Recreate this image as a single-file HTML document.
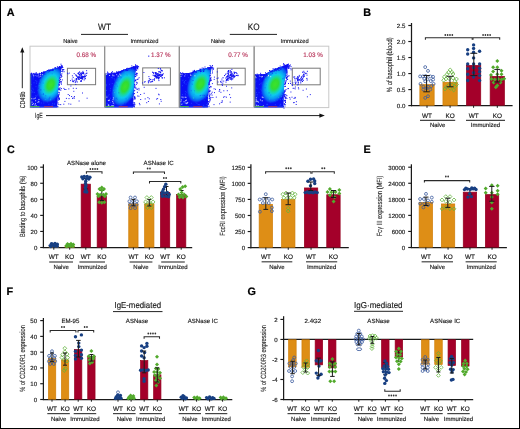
<!DOCTYPE html>
<html><head><meta charset="utf-8"><style>html,body{margin:0;padding:0;background:#fff;}svg{display:block;will-change:transform;}</style></head>
<body><svg width="520" height="429" viewBox="0 0 520 429" font-family='"Liberation Sans", sans-serif' text-rendering="geometricPrecision">
<defs><radialGradient id="fg" cx="0.5" cy="0.5" r="0.5"><stop offset="0" stop-color="#3EE22A"/><stop offset="0.24" stop-color="#30DC34"/><stop offset="0.4" stop-color="#18D8A0"/><stop offset="0.54" stop-color="#0CCAEE"/><stop offset="0.72" stop-color="#0A98F4"/><stop offset="0.87" stop-color="#0A50F6"/><stop offset="1" stop-color="#0A10F5" stop-opacity="0"/></radialGradient><clipPath id="cp0"><polygon points="30.00,73.80 39.98,73.42 48.03,70.34 56.08,67.95 62.20,66.10 60.20,74.60 58.60,84.20 57.20,107.60 30.00,107.60"/></clipPath><clipPath id="cp1"><polygon points="104.70,73.50 114.71,73.10 122.79,69.90 130.86,67.42 137.00,65.50 135.00,74.00 134.30,82.50 133.00,107.60 104.70,107.60"/></clipPath><clipPath id="cp2"><polygon points="179.30,73.40 189.44,73.06 197.61,70.30 205.79,68.16 212.00,66.50 210.00,75.00 208.60,84.00 207.80,107.60 179.30,107.60"/></clipPath><clipPath id="cp3"><polygon points="254.20,74.60 264.93,74.05 273.58,69.61 282.23,66.16 288.80,63.50 286.80,72.00 284.20,82.50 283.50,107.60 254.20,107.60"/></clipPath></defs>
<rect x="0" y="0" width="520" height="429" fill="#fff"/>
<rect x="0.5" y="0.5" width="519" height="428" fill="none" stroke="#000" stroke-width="1"/>
<text x="0" y="0" transform="translate(6.8 16.2)" font-size="10.8" font-weight="bold" fill="#000" stroke="#000" stroke-width="0.2">A</text>
<text x="0" y="0" transform="translate(363.3 16.2)" font-size="10.8" font-weight="bold" fill="#000" stroke="#000" stroke-width="0.2">B</text>
<text x="0" y="0" transform="translate(7.0 153.0)" font-size="10.8" font-weight="bold" fill="#000" stroke="#000" stroke-width="0.2">C</text>
<text x="0" y="0" transform="translate(207.0 153.0)" font-size="10.8" font-weight="bold" fill="#000" stroke="#000" stroke-width="0.2">D</text>
<text x="0" y="0" transform="translate(363.4 153.0)" font-size="10.8" font-weight="bold" fill="#000" stroke="#000" stroke-width="0.2">E</text>
<text x="0" y="0" transform="translate(6.5 294.8)" font-size="10.8" font-weight="bold" fill="#000" stroke="#000" stroke-width="0.2">F</text>
<text x="0" y="0" transform="translate(247.4 294.8)" font-size="10.8" font-weight="bold" fill="#000" stroke="#000" stroke-width="0.2">G</text>
<rect x="30.0" y="46.2" width="74.6" height="61.39999999999999" fill="#fff" stroke="#c8c8c8" stroke-width="1"/>
<polygon points="30.00,73.80 39.98,73.42 48.03,70.34 56.08,67.95 62.20,66.10 60.20,74.60 58.60,84.20 57.20,107.60 30.00,107.60" fill="#0A0EF6"/>
<g clip-path="url(#cp0)">
<rect x="43.6" y="88.3" width="1" height="1" fill="#2246FF" opacity="0.8"/>
<rect x="57.7" y="84.2" width="1" height="1" fill="#2246FF" opacity="0.8"/>
<rect x="45.2" y="89.5" width="1" height="1" fill="#2246FF" opacity="0.8"/>
<rect x="35.5" y="86.2" width="1" height="1" fill="#2246FF" opacity="0.8"/>
<rect x="48.9" y="98.3" width="1" height="1" fill="#2246FF" opacity="0.8"/>
<rect x="32.8" y="77.2" width="1" height="1" fill="#2246FF" opacity="0.8"/>
<rect x="32.7" y="99.0" width="1" height="1" fill="#2246FF" opacity="0.8"/>
<rect x="50.8" y="66.0" width="1" height="1" fill="#2246FF" opacity="0.8"/>
<rect x="59.5" y="105.7" width="1" height="1" fill="#2246FF" opacity="0.8"/>
<rect x="49.6" y="90.7" width="1" height="1" fill="#2246FF" opacity="0.8"/>
<rect x="34.7" y="64.8" width="1" height="1" fill="#2246FF" opacity="0.8"/>
<rect x="45.9" y="66.8" width="1" height="1" fill="#2246FF" opacity="0.8"/>
<rect x="35.7" y="74.6" width="1" height="1" fill="#2246FF" opacity="0.8"/>
<rect x="30.9" y="84.1" width="1" height="1" fill="#2246FF" opacity="0.8"/>
<rect x="43.2" y="100.4" width="1" height="1" fill="#2246FF" opacity="0.8"/>
<rect x="45.6" y="91.7" width="1" height="1" fill="#2246FF" opacity="0.8"/>
<rect x="45.0" y="92.7" width="1" height="1" fill="#2246FF" opacity="0.8"/>
<rect x="43.7" y="76.2" width="1" height="1" fill="#2246FF" opacity="0.8"/>
<rect x="59.9" y="107.0" width="1" height="1" fill="#2246FF" opacity="0.8"/>
<rect x="55.2" y="94.6" width="1" height="1" fill="#2246FF" opacity="0.8"/>
<rect x="39.5" y="74.1" width="1" height="1" fill="#2246FF" opacity="0.8"/>
<rect x="38.7" y="67.2" width="1" height="1" fill="#2246FF" opacity="0.8"/>
<rect x="53.0" y="81.4" width="1" height="1" fill="#2246FF" opacity="0.8"/>
<rect x="55.4" y="80.8" width="1" height="1" fill="#2246FF" opacity="0.8"/>
<rect x="58.7" y="100.6" width="1" height="1" fill="#2246FF" opacity="0.8"/>
<rect x="30.0" y="73.2" width="1" height="1" fill="#2246FF" opacity="0.8"/>
<rect x="57.3" y="84.4" width="1" height="1" fill="#2246FF" opacity="0.8"/>
<rect x="59.4" y="81.3" width="1" height="1" fill="#2246FF" opacity="0.8"/>
<rect x="32.2" y="91.3" width="1" height="1" fill="#2246FF" opacity="0.8"/>
<rect x="53.4" y="75.8" width="1" height="1" fill="#2246FF" opacity="0.8"/>
<rect x="32.6" y="78.5" width="1" height="1" fill="#2246FF" opacity="0.8"/>
<rect x="58.9" y="96.8" width="1" height="1" fill="#2246FF" opacity="0.8"/>
<rect x="33.5" y="74.8" width="1" height="1" fill="#2246FF" opacity="0.8"/>
<rect x="33.0" y="66.8" width="1" height="1" fill="#2246FF" opacity="0.8"/>
<rect x="53.9" y="71.8" width="1" height="1" fill="#2246FF" opacity="0.8"/>
<rect x="46.8" y="83.4" width="1" height="1" fill="#2246FF" opacity="0.8"/>
<rect x="35.7" y="95.7" width="1" height="1" fill="#2246FF" opacity="0.8"/>
<rect x="33.9" y="91.9" width="1" height="1" fill="#2246FF" opacity="0.8"/>
<rect x="33.5" y="82.3" width="1" height="1" fill="#2246FF" opacity="0.8"/>
<rect x="36.4" y="75.8" width="1" height="1" fill="#2246FF" opacity="0.8"/>
<rect x="59.1" y="98.7" width="1" height="1" fill="#2246FF" opacity="0.8"/>
<rect x="39.1" y="102.2" width="1" height="1" fill="#2246FF" opacity="0.8"/>
<rect x="36.3" y="81.2" width="1" height="1" fill="#2246FF" opacity="0.8"/>
<rect x="55.6" y="91.8" width="1" height="1" fill="#2246FF" opacity="0.8"/>
<rect x="33.0" y="106.7" width="1" height="1" fill="#2246FF" opacity="0.8"/>
<rect x="36.4" y="75.3" width="1" height="1" fill="#2246FF" opacity="0.8"/>
<rect x="53.2" y="78.3" width="1" height="1" fill="#2246FF" opacity="0.8"/>
<rect x="38.9" y="67.4" width="1" height="1" fill="#2246FF" opacity="0.8"/>
<rect x="32.7" y="89.3" width="1" height="1" fill="#2246FF" opacity="0.8"/>
<rect x="37.3" y="90.1" width="1" height="1" fill="#2246FF" opacity="0.8"/>
<rect x="41.2" y="83.7" width="1" height="1" fill="#2246FF" opacity="0.8"/>
<rect x="58.8" y="85.0" width="1" height="1" fill="#2246FF" opacity="0.8"/>
<rect x="47.2" y="101.5" width="1" height="1" fill="#2246FF" opacity="0.8"/>
<rect x="35.5" y="70.8" width="1" height="1" fill="#2246FF" opacity="0.8"/>
<rect x="57.3" y="99.4" width="1" height="1" fill="#2246FF" opacity="0.8"/>
<rect x="37.5" y="72.4" width="1" height="1" fill="#2246FF" opacity="0.8"/>
<rect x="52.2" y="104.6" width="1" height="1" fill="#2246FF" opacity="0.8"/>
<rect x="35.9" y="105.1" width="1" height="1" fill="#2246FF" opacity="0.8"/>
<rect x="56.5" y="90.2" width="1" height="1" fill="#2246FF" opacity="0.8"/>
<rect x="42.6" y="68.7" width="1" height="1" fill="#2246FF" opacity="0.8"/>
<rect x="31.2" y="105.6" width="1" height="1" fill="#2246FF" opacity="0.8"/>
<rect x="37.2" y="94.5" width="1" height="1" fill="#2246FF" opacity="0.8"/>
<rect x="37.7" y="99.6" width="1" height="1" fill="#2246FF" opacity="0.8"/>
<rect x="47.9" y="76.8" width="1" height="1" fill="#2246FF" opacity="0.8"/>
<rect x="35.3" y="95.2" width="1" height="1" fill="#2246FF" opacity="0.8"/>
<rect x="32.1" y="74.0" width="1" height="1" fill="#2246FF" opacity="0.8"/>
<rect x="46.8" y="100.9" width="1" height="1" fill="#2246FF" opacity="0.8"/>
<rect x="48.4" y="76.2" width="1" height="1" fill="#2246FF" opacity="0.8"/>
<rect x="57.5" y="73.0" width="1" height="1" fill="#2246FF" opacity="0.8"/>
<rect x="30.5" y="75.8" width="1" height="1" fill="#2246FF" opacity="0.8"/>
<rect x="43.4" y="66.8" width="1" height="1" fill="#2246FF" opacity="0.8"/>
<rect x="35.3" y="80.1" width="1" height="1" fill="#2246FF" opacity="0.8"/>
<rect x="47.2" y="69.9" width="1" height="1" fill="#2246FF" opacity="0.8"/>
<rect x="40.9" y="102.5" width="1" height="1" fill="#2246FF" opacity="0.8"/>
<rect x="59.4" y="92.4" width="1" height="1" fill="#2246FF" opacity="0.8"/>
<rect x="50.7" y="89.3" width="1" height="1" fill="#2246FF" opacity="0.8"/>
<rect x="34.2" y="65.7" width="1" height="1" fill="#2246FF" opacity="0.8"/>
<rect x="30.5" y="103.3" width="1" height="1" fill="#2246FF" opacity="0.8"/>
<rect x="51.0" y="105.6" width="1" height="1" fill="#2246FF" opacity="0.8"/>
<rect x="30.6" y="91.6" width="1" height="1" fill="#2246FF" opacity="0.8"/>
<rect x="44.5" y="95.6" width="1" height="1" fill="#2246FF" opacity="0.8"/>
<rect x="39.6" y="107.2" width="1" height="1" fill="#2246FF" opacity="0.8"/>
<rect x="32.3" y="87.7" width="1" height="1" fill="#2246FF" opacity="0.8"/>
<rect x="52.1" y="102.9" width="1" height="1" fill="#2246FF" opacity="0.8"/>
<rect x="52.1" y="94.5" width="1" height="1" fill="#2246FF" opacity="0.8"/>
<rect x="53.8" y="103.5" width="1" height="1" fill="#2246FF" opacity="0.8"/>
<rect x="40.6" y="93.7" width="1" height="1" fill="#2246FF" opacity="0.8"/>
<rect x="57.0" y="101.7" width="1" height="1" fill="#2246FF" opacity="0.8"/>
<rect x="42.5" y="98.2" width="1" height="1" fill="#2246FF" opacity="0.8"/>
<rect x="55.9" y="88.8" width="1" height="1" fill="#2246FF" opacity="0.8"/>
<rect x="48.7" y="80.6" width="1" height="1" fill="#2246FF" opacity="0.8"/>
<rect x="47.5" y="90.4" width="1" height="1" fill="#2246FF" opacity="0.8"/>
<rect x="32.4" y="91.7" width="1" height="1" fill="#2246FF" opacity="0.8"/>
<rect x="59.8" y="102.0" width="1" height="1" fill="#2246FF" opacity="0.8"/>
<rect x="51.8" y="80.9" width="1" height="1" fill="#2246FF" opacity="0.8"/>
<rect x="52.1" y="89.2" width="1" height="1" fill="#2246FF" opacity="0.8"/>
<rect x="43.2" y="100.2" width="1" height="1" fill="#2246FF" opacity="0.8"/>
<rect x="32.5" y="96.5" width="1" height="1" fill="#2246FF" opacity="0.8"/>
<rect x="30.9" y="90.1" width="1" height="1" fill="#2246FF" opacity="0.8"/>
<rect x="44.4" y="74.1" width="1" height="1" fill="#2246FF" opacity="0.8"/>
<rect x="51.0" y="85.6" width="1" height="1" fill="#2246FF" opacity="0.8"/>
<rect x="48.4" y="103.8" width="1" height="1" fill="#2246FF" opacity="0.8"/>
<rect x="37.7" y="64.7" width="1" height="1" fill="#2246FF" opacity="0.8"/>
<rect x="39.0" y="93.4" width="1" height="1" fill="#2246FF" opacity="0.8"/>
<rect x="36.1" y="71.5" width="1" height="1" fill="#2246FF" opacity="0.8"/>
<rect x="57.2" y="92.6" width="1" height="1" fill="#2246FF" opacity="0.8"/>
<rect x="43.3" y="102.5" width="1" height="1" fill="#2246FF" opacity="0.8"/>
<rect x="39.8" y="92.8" width="1" height="1" fill="#2246FF" opacity="0.8"/>
<rect x="36.0" y="82.7" width="1" height="1" fill="#2246FF" opacity="0.8"/>
<rect x="54.2" y="103.5" width="1" height="1" fill="#2246FF" opacity="0.8"/>
<ellipse cx="50.60" cy="84.80" rx="13" ry="19.5" fill="url(#fg)" transform="rotate(22 50.60 84.80)"/>
<rect x="57.7" y="76.4" width="1" height="1" fill="#0A9CF4" opacity="0.5"/>
<rect x="58.4" y="79.4" width="1" height="1" fill="#0A6CF6" opacity="0.5"/>
<rect x="38.7" y="85.1" width="1" height="1" fill="#0CC6EE" opacity="0.5"/>
<rect x="47.6" y="69.4" width="1" height="1" fill="#1A3CF8" opacity="0.5"/>
<rect x="54.2" y="75.3" width="1" height="1" fill="#20D8C0" opacity="0.5"/>
<rect x="49.2" y="95.9" width="1" height="1" fill="#20D8C0" opacity="0.5"/>
<rect x="42.9" y="93.7" width="1" height="1" fill="#0A0EF6" opacity="0.5"/>
<rect x="45.8" y="98.7" width="1" height="1" fill="#0A9CF4" opacity="0.5"/>
<rect x="42.8" y="87.9" width="1" height="1" fill="#0CC6EE" opacity="0.5"/>
<rect x="48.7" y="98.3" width="1" height="1" fill="#0A0EF6" opacity="0.5"/>
<rect x="47.9" y="71.8" width="1" height="1" fill="#1A3CF8" opacity="0.5"/>
<rect x="44.3" y="74.0" width="1" height="1" fill="#0A0EF6" opacity="0.5"/>
<rect x="57.2" y="94.4" width="1" height="1" fill="#0CC6EE" opacity="0.5"/>
<rect x="51.7" y="73.3" width="1" height="1" fill="#0A6CF6" opacity="0.5"/>
<rect x="54.3" y="69.4" width="1" height="1" fill="#0CC6EE" opacity="0.5"/>
<rect x="40.3" y="89.4" width="1" height="1" fill="#0A0EF6" opacity="0.5"/>
<rect x="44.5" y="75.4" width="1" height="1" fill="#0CC6EE" opacity="0.5"/>
<rect x="47.1" y="74.6" width="1" height="1" fill="#20D8C0" opacity="0.5"/>
<rect x="50.2" y="99.2" width="1" height="1" fill="#20D8C0" opacity="0.5"/>
<rect x="42.8" y="82.6" width="1" height="1" fill="#0A6CF6" opacity="0.5"/>
<rect x="49.3" y="96.7" width="1" height="1" fill="#0A0EF6" opacity="0.5"/>
<rect x="60.3" y="80.5" width="1" height="1" fill="#0A6CF6" opacity="0.5"/>
<rect x="41.4" y="94.0" width="1" height="1" fill="#0A6CF6" opacity="0.5"/>
<rect x="61.2" y="93.0" width="1" height="1" fill="#0A0EF6" opacity="0.5"/>
<rect x="43.0" y="93.0" width="1" height="1" fill="#0A6CF6" opacity="0.5"/>
<rect x="41.9" y="73.7" width="1" height="1" fill="#20D8C0" opacity="0.5"/>
<rect x="40.1" y="80.5" width="1" height="1" fill="#0A9CF4" opacity="0.5"/>
<rect x="54.2" y="69.7" width="1" height="1" fill="#20D8C0" opacity="0.5"/>
<rect x="44.8" y="99.0" width="1" height="1" fill="#0CC6EE" opacity="0.5"/>
<rect x="48.5" y="70.0" width="1" height="1" fill="#0A0EF6" opacity="0.5"/>
<rect x="58.1" y="79.9" width="1" height="1" fill="#0A6CF6" opacity="0.5"/>
<rect x="60.8" y="75.4" width="1" height="1" fill="#1A3CF8" opacity="0.5"/>
<rect x="39.2" y="81.4" width="1" height="1" fill="#1A3CF8" opacity="0.5"/>
<rect x="49.8" y="99.2" width="1" height="1" fill="#0CC6EE" opacity="0.5"/>
<rect x="45.8" y="93.3" width="1" height="1" fill="#20D8C0" opacity="0.5"/>
<rect x="45.2" y="95.3" width="1" height="1" fill="#1A3CF8" opacity="0.5"/>
<rect x="42.7" y="85.6" width="1" height="1" fill="#0CC6EE" opacity="0.5"/>
<rect x="43.4" y="89.2" width="1" height="1" fill="#0A9CF4" opacity="0.5"/>
<rect x="44.6" y="97.6" width="1" height="1" fill="#0A6CF6" opacity="0.5"/>
<rect x="38.1" y="87.8" width="1" height="1" fill="#0A0EF6" opacity="0.5"/>
<rect x="39.5" y="83.2" width="1" height="1" fill="#20D8C0" opacity="0.5"/>
<rect x="60.2" y="80.5" width="1" height="1" fill="#0A0EF6" opacity="0.5"/>
<rect x="58.2" y="90.6" width="1" height="1" fill="#0A9CF4" opacity="0.5"/>
<rect x="39.5" y="79.3" width="1" height="1" fill="#0A9CF4" opacity="0.5"/>
<rect x="43.9" y="74.7" width="1" height="1" fill="#0A9CF4" opacity="0.5"/>
<rect x="50.1" y="98.9" width="1" height="1" fill="#0A9CF4" opacity="0.5"/>
<rect x="53.7" y="99.5" width="1" height="1" fill="#0A9CF4" opacity="0.5"/>
<rect x="40.1" y="82.8" width="1" height="1" fill="#0A6CF6" opacity="0.5"/>
<rect x="43.5" y="90.4" width="1" height="1" fill="#0CC6EE" opacity="0.5"/>
<rect x="44.3" y="78.6" width="1" height="1" fill="#0CC6EE" opacity="0.5"/>
<rect x="35.1" y="100.2" width="1.1" height="1.1" fill="#C8D0FF" opacity="0.85"/>
<rect x="37.4" y="101.8" width="1.1" height="1.1" fill="#C8D0FF" opacity="0.85"/>
<rect x="34.9" y="103.1" width="1.1" height="1.1" fill="#C8D0FF" opacity="0.85"/>
<rect x="31.5" y="101.6" width="1.1" height="1.1" fill="#C8D0FF" opacity="0.85"/>
<rect x="34.3" y="105.8" width="1.1" height="1.1" fill="#C8D0FF" opacity="0.85"/>
<rect x="38.4" y="98.9" width="1.1" height="1.1" fill="#C8D0FF" opacity="0.85"/>
<rect x="34.8" y="97.5" width="1.1" height="1.1" fill="#C8D0FF" opacity="0.85"/>
<rect x="34.5" y="104.4" width="1.1" height="1.1" fill="#C8D0FF" opacity="0.85"/>
<rect x="38.2" y="101.0" width="1.1" height="1.1" fill="#C8D0FF" opacity="0.85"/>
<rect x="33.5" y="98.1" width="1.1" height="1.1" fill="#C8D0FF" opacity="0.85"/>
<rect x="35.9" y="105.5" width="1.1" height="1.1" fill="#C8D0FF" opacity="0.85"/>
<rect x="32.0" y="104.0" width="1.1" height="1.1" fill="#C8D0FF" opacity="0.85"/>
<rect x="31.2" y="98.1" width="1.1" height="1.1" fill="#C8D0FF" opacity="0.85"/>
<rect x="32.8" y="103.1" width="1.1" height="1.1" fill="#C8D0FF" opacity="0.85"/>
<rect x="35.2" y="74.9" width="1" height="1" fill="#ffffff" opacity="0.75"/>
<rect x="40.0" y="74.1" width="1" height="1" fill="#ffffff" opacity="0.75"/>
<rect x="41.8" y="74.2" width="1" height="1" fill="#ffffff" opacity="0.75"/>
<rect x="38.2" y="74.6" width="1" height="1" fill="#ffffff" opacity="0.75"/>
<rect x="33.2" y="75.4" width="1" height="1" fill="#ffffff" opacity="0.75"/>
<rect x="37.0" y="74.9" width="1" height="1" fill="#ffffff" opacity="0.75"/>
<rect x="36.7" y="75.4" width="1" height="1" fill="#ffffff" opacity="0.75"/>
<rect x="32.6" y="74.4" width="1" height="1" fill="#ffffff" opacity="0.75"/>
<rect x="40.2" y="75.7" width="1" height="1" fill="#ffffff" opacity="0.75"/>
<rect x="38.5" y="76.4" width="1" height="1" fill="#ffffff" opacity="0.75"/>
</g>
<rect x="49.5" y="70.2" width="1" height="1" fill="#1010F0"/>
<rect x="52.9" y="69.3" width="1" height="1" fill="#1010F0"/>
<rect x="41.5" y="72.4" width="1" height="1" fill="#1010F0"/>
<rect x="37.3" y="75.4" width="1" height="1" fill="#1010F0"/>
<rect x="35.3" y="73.7" width="1" height="1" fill="#1010F0"/>
<rect x="39.2" y="74.9" width="1" height="1" fill="#1010F0"/>
<rect x="43.6" y="72.1" width="1" height="1" fill="#1010F0"/>
<rect x="43.1" y="72.1" width="1" height="1" fill="#1010F0"/>
<rect x="35.7" y="72.7" width="1" height="1" fill="#1010F0"/>
<rect x="61.6" y="67.2" width="1" height="1" fill="#1010F0"/>
<rect x="54.5" y="67.1" width="1" height="1" fill="#1010F0"/>
<rect x="36.4" y="73.9" width="1" height="1" fill="#1010F0"/>
<rect x="31.1" y="72.7" width="1" height="1" fill="#1010F0"/>
<rect x="48.7" y="70.6" width="1" height="1" fill="#1010F0"/>
<rect x="35.5" y="75.0" width="1" height="1" fill="#1010F0"/>
<rect x="60.0" y="67.1" width="1" height="1" fill="#1010F0"/>
<rect x="60.9" y="65.1" width="1" height="1" fill="#1010F0"/>
<rect x="41.0" y="72.0" width="1" height="1" fill="#1010F0"/>
<rect x="44.0" y="71.7" width="1" height="1" fill="#1010F0"/>
<rect x="52.4" y="69.3" width="1" height="1" fill="#1010F0"/>
<rect x="44.3" y="71.5" width="1" height="1" fill="#1010F0"/>
<rect x="37.0" y="74.1" width="1" height="1" fill="#1010F0"/>
<rect x="52.2" y="69.7" width="1" height="1" fill="#1010F0"/>
<rect x="42.9" y="71.3" width="1" height="1" fill="#1010F0"/>
<rect x="61.3" y="66.5" width="1" height="1" fill="#1010F0"/>
<rect x="58.5" y="66.9" width="1" height="1" fill="#1010F0"/>
<rect x="56.9" y="66.3" width="1" height="1" fill="#1010F0"/>
<rect x="57.6" y="66.7" width="1" height="1" fill="#1010F0"/>
<rect x="55.1" y="67.2" width="1" height="1" fill="#1010F0"/>
<rect x="32.8" y="73.2" width="1" height="1" fill="#1010F0"/>
<rect x="30.9" y="73.0" width="1" height="1" fill="#1010F0"/>
<rect x="51.4" y="69.9" width="1" height="1" fill="#1010F0"/>
<rect x="52.1" y="68.6" width="1" height="1" fill="#1010F0"/>
<rect x="48.3" y="69.3" width="1" height="1" fill="#1010F0"/>
<rect x="61.6" y="65.2" width="1" height="1" fill="#1010F0"/>
<rect x="54.6" y="68.6" width="1" height="1" fill="#1010F0"/>
<rect x="49.5" y="69.7" width="1" height="1" fill="#1010F0"/>
<rect x="43.3" y="72.8" width="1" height="1" fill="#1010F0"/>
<rect x="42.6" y="73.1" width="1" height="1" fill="#1010F0"/>
<rect x="59.0" y="66.0" width="1" height="1" fill="#1010F0"/>
<rect x="60.5" y="63.7" width="1" height="1" fill="#1010F0"/>
<rect x="50.4" y="69.7" width="1" height="1" fill="#1010F0"/>
<rect x="49.2" y="70.0" width="1" height="1" fill="#1010F0"/>
<rect x="60.4" y="67.3" width="1" height="1" fill="#1010F0"/>
<rect x="35.7" y="72.3" width="1" height="1" fill="#1010F0"/>
<rect x="31.8" y="74.6" width="1" height="1" fill="#1010F0"/>
<rect x="46.8" y="70.0" width="1" height="1" fill="#1010F0"/>
<rect x="39.0" y="72.8" width="1" height="1" fill="#1010F0"/>
<rect x="39.1" y="73.3" width="1" height="1" fill="#1010F0"/>
<rect x="30.6" y="73.8" width="1" height="1" fill="#1010F0"/>
<rect x="34.7" y="73.6" width="1" height="1" fill="#1010F0"/>
<rect x="58.8" y="67.1" width="1" height="1" fill="#1010F0"/>
<rect x="61.8" y="66.5" width="1" height="1" fill="#1010F0"/>
<rect x="59.4" y="66.1" width="1" height="1" fill="#1010F0"/>
<rect x="62.0" y="66.4" width="1" height="1" fill="#1010F0"/>
<rect x="59.6" y="66.5" width="1" height="1" fill="#1010F0"/>
<rect x="60.9" y="66.8" width="1" height="1" fill="#1010F0"/>
<rect x="33.5" y="72.9" width="1" height="1" fill="#1010F0"/>
<rect x="37.0" y="74.6" width="1" height="1" fill="#1010F0"/>
<rect x="62.2" y="71.2" width="1" height="1" fill="#1010F0"/>
<rect x="58.8" y="84.8" width="1" height="1" fill="#1010F0"/>
<rect x="60.5" y="76.8" width="1" height="1" fill="#1010F0"/>
<rect x="58.0" y="98.3" width="1" height="1" fill="#1010F0"/>
<rect x="60.8" y="88.0" width="1" height="1" fill="#1010F0"/>
<rect x="57.6" y="96.5" width="1" height="1" fill="#1010F0"/>
<rect x="61.4" y="75.8" width="1" height="1" fill="#1010F0"/>
<rect x="59.0" y="98.6" width="1" height="1" fill="#1010F0"/>
<rect x="58.4" y="91.9" width="1" height="1" fill="#1010F0"/>
<rect x="58.4" y="94.4" width="1" height="1" fill="#1010F0"/>
<rect x="59.3" y="89.4" width="1" height="1" fill="#1010F0"/>
<rect x="58.4" y="97.3" width="1" height="1" fill="#1010F0"/>
<rect x="60.1" y="73.8" width="1" height="1" fill="#1010F0"/>
<rect x="60.2" y="104.1" width="1" height="1" fill="#1010F0"/>
<rect x="57.6" y="102.5" width="1" height="1" fill="#1010F0"/>
<rect x="59.6" y="77.2" width="1" height="1" fill="#1010F0"/>
<rect x="58.8" y="83.6" width="1" height="1" fill="#1010F0"/>
<rect x="58.4" y="88.4" width="1" height="1" fill="#1010F0"/>
<rect x="62.6" y="69.1" width="1" height="1" fill="#1010F0"/>
<rect x="58.9" y="88.8" width="1" height="1" fill="#1010F0"/>
<rect x="58.7" y="92.2" width="1" height="1" fill="#1010F0"/>
<rect x="60.8" y="74.7" width="1" height="1" fill="#1010F0"/>
<rect x="59.0" y="80.2" width="1" height="1" fill="#1010F0"/>
<rect x="63.3" y="69.1" width="1" height="1" fill="#1010F0"/>
<rect x="61.3" y="71.0" width="1" height="1" fill="#1010F0"/>
<rect x="58.9" y="97.9" width="1" height="1" fill="#1010F0"/>
<rect x="60.6" y="74.8" width="1" height="1" fill="#1010F0"/>
<rect x="57.8" y="99.6" width="1" height="1" fill="#1010F0"/>
<rect x="60.7" y="81.2" width="1" height="1" fill="#1010F0"/>
<rect x="61.8" y="79.4" width="1" height="1" fill="#1010F0"/>
<rect x="58.1" y="88.7" width="1" height="1" fill="#1010F0"/>
<rect x="60.9" y="83.7" width="1" height="1" fill="#1010F0"/>
<rect x="60.6" y="81.3" width="1" height="1" fill="#1010F0"/>
<rect x="62.4" y="69.3" width="1" height="1" fill="#1010F0"/>
<rect x="62.3" y="69.5" width="1" height="1" fill="#1010F0"/>
<rect x="58.2" y="94.4" width="1" height="1" fill="#1010F0"/>
<rect x="59.3" y="78.3" width="1" height="1" fill="#1010F0"/>
<rect x="60.3" y="74.8" width="1" height="1" fill="#1010F0"/>
<rect x="58.6" y="93.5" width="1" height="1" fill="#1010F0"/>
<rect x="58.0" y="96.1" width="1" height="1" fill="#1010F0"/>
<rect x="57.8" y="94.8" width="1" height="1" fill="#1010F0"/>
<rect x="59.5" y="80.8" width="1" height="1" fill="#1010F0"/>
<rect x="58.0" y="96.1" width="1" height="1" fill="#1010F0"/>
<rect x="58.0" y="95.4" width="1" height="1" fill="#1010F0"/>
<rect x="60.3" y="89.6" width="1" height="1" fill="#1010F0"/>
<rect x="58.4" y="104.0" width="1" height="1" fill="#1010F0"/>
<rect x="58.6" y="84.1" width="1" height="1" fill="#1010F0"/>
<rect x="60.0" y="79.1" width="1" height="1" fill="#1010F0"/>
<rect x="60.7" y="82.5" width="1" height="1" fill="#1010F0"/>
<rect x="60.6" y="76.3" width="1" height="1" fill="#1010F0"/>
<rect x="59.5" y="80.9" width="1" height="1" fill="#1010F0"/>
<rect x="59.4" y="82.3" width="1" height="1" fill="#1010F0"/>
<rect x="59.1" y="82.0" width="1" height="1" fill="#1010F0"/>
<rect x="58.7" y="99.1" width="1" height="1" fill="#1010F0"/>
<rect x="58.8" y="88.4" width="1" height="1" fill="#1010F0"/>
<rect x="61.4" y="73.3" width="1" height="1" fill="#1010F0"/>
<rect x="58.2" y="97.5" width="1" height="1" fill="#1010F0"/>
<rect x="62.3" y="67.0" width="1" height="1" fill="#1010F0"/>
<rect x="59.5" y="87.3" width="1" height="1" fill="#1010F0"/>
<rect x="57.4" y="106.2" width="1" height="1" fill="#1010F0"/>
<rect x="30.5" y="106.0" width="27.2" height="1.2" fill="#1A30F0"/>
<rect x="30.5" y="106.19999999999999" width="9" height="1" fill="#50C040"/>
<rect x="44.0" y="106.19999999999999" width="9" height="1" fill="#D04040" opacity="0.8"/>
<rect x="30.2" y="73.80000000000001" width="1" height="33.8" fill="#7CB070" opacity="0.7"/>
<rect x="67.4" y="68.3" width="28.19999999999999" height="16.400000000000006" fill="none" stroke="#787878" stroke-width="1"/>
<rect x="77.7" y="72.9" width="1.1" height="1.1" fill="#1414F0"/>
<rect x="84.1" y="77.4" width="1.1" height="1.1" fill="#1414F0"/>
<rect x="81.0" y="75.4" width="1.1" height="1.1" fill="#1414F0"/>
<rect x="84.8" y="78.1" width="1.1" height="1.1" fill="#1414F0"/>
<rect x="81.7" y="75.7" width="1.1" height="1.1" fill="#1414F0"/>
<rect x="79.6" y="75.3" width="1.1" height="1.1" fill="#1414F0"/>
<rect x="80.6" y="73.0" width="1.1" height="1.1" fill="#1414F0"/>
<rect x="80.8" y="77.9" width="1.1" height="1.1" fill="#1414F0"/>
<rect x="81.0" y="73.5" width="1.1" height="1.1" fill="#1414F0"/>
<rect x="81.0" y="74.0" width="1.1" height="1.1" fill="#1414F0"/>
<rect x="76.7" y="81.4" width="1.1" height="1.1" fill="#1414F0"/>
<rect x="79.1" y="73.9" width="1.1" height="1.1" fill="#1414F0"/>
<rect x="76.2" y="75.4" width="1.1" height="1.1" fill="#1414F0"/>
<rect x="79.0" y="71.4" width="1.1" height="1.1" fill="#1414F0"/>
<rect x="76.1" y="78.6" width="1.1" height="1.1" fill="#1414F0"/>
<rect x="77.9" y="72.4" width="1.1" height="1.1" fill="#1414F0"/>
<rect x="82.6" y="72.2" width="1.1" height="1.1" fill="#1414F0"/>
<rect x="86.3" y="72.6" width="1.1" height="1.1" fill="#1414F0"/>
<rect x="78.5" y="74.1" width="1.1" height="1.1" fill="#1414F0"/>
<rect x="79.4" y="72.3" width="1.1" height="1.1" fill="#1414F0"/>
<rect x="78.0" y="77.4" width="1.1" height="1.1" fill="#1414F0"/>
<rect x="83.6" y="79.3" width="1.1" height="1.1" fill="#1414F0"/>
<rect x="83.5" y="76.2" width="1.1" height="1.1" fill="#1414F0"/>
<rect x="81.7" y="77.7" width="1.1" height="1.1" fill="#1414F0"/>
<rect x="78.6" y="77.2" width="1.1" height="1.1" fill="#1414F0"/>
<rect x="81.7" y="76.1" width="1.1" height="1.1" fill="#1414F0"/>
<rect x="80.2" y="77.4" width="1.1" height="1.1" fill="#1414F0"/>
<rect x="77.7" y="73.1" width="1.1" height="1.1" fill="#1414F0"/>
<rect x="81.1" y="77.0" width="1.1" height="1.1" fill="#1414F0"/>
<rect x="77.0" y="77.1" width="1.1" height="1.1" fill="#1414F0"/>
<rect x="81.4" y="76.0" width="1.1" height="1.1" fill="#1414F0"/>
<rect x="82.1" y="77.2" width="1.1" height="1.1" fill="#1414F0"/>
<rect x="81.1" y="77.9" width="1.1" height="1.1" fill="#1414F0"/>
<rect x="79.9" y="73.3" width="1.1" height="1.1" fill="#1414F0"/>
<rect x="81.0" y="77.8" width="1.1" height="1.1" fill="#1414F0"/>
<rect x="80.4" y="77.7" width="1.1" height="1.1" fill="#1414F0"/>
<rect x="80.8" y="74.3" width="1.1" height="1.1" fill="#1414F0"/>
<rect x="75.6" y="75.0" width="1.1" height="1.1" fill="#1414F0"/>
<rect x="78.5" y="76.5" width="1.1" height="1.1" fill="#1414F0"/>
<rect x="85.6" y="73.0" width="1.1" height="1.1" fill="#1414F0"/>
<rect x="78.7" y="78.7" width="1.1" height="1.1" fill="#1414F0"/>
<rect x="83.9" y="75.6" width="1.1" height="1.1" fill="#1414F0"/>
<rect x="80.9" y="77.0" width="1.1" height="1.1" fill="#1414F0"/>
<rect x="85.6" y="75.0" width="1.1" height="1.1" fill="#1414F0"/>
<rect x="78.0" y="78.2" width="1.1" height="1.1" fill="#1414F0"/>
<rect x="78.4" y="76.1" width="1.1" height="1.1" fill="#1414F0"/>
<rect x="84.9" y="76.1" width="1.1" height="1.1" fill="#1414F0"/>
<rect x="80.7" y="76.6" width="1.1" height="1.1" fill="#1414F0"/>
<rect x="77.9" y="76.7" width="1.1" height="1.1" fill="#1414F0"/>
<rect x="82.0" y="72.8" width="1.1" height="1.1" fill="#1414F0"/>
<rect x="79.4" y="75.5" width="1.1" height="1.1" fill="#1414F0"/>
<rect x="82.1" y="78.0" width="1.1" height="1.1" fill="#1414F0"/>
<rect x="80.4" y="80.9" width="1.1" height="1.1" fill="#1414F0"/>
<rect x="76.6" y="76.0" width="1.1" height="1.1" fill="#1414F0"/>
<rect x="83.0" y="76.2" width="1.1" height="1.1" fill="#1414F0"/>
<rect x="80.7" y="79.9" width="1" height="1" fill="#1414F0"/>
<rect x="72.4" y="81.1" width="1" height="1" fill="#1414F0"/>
<rect x="84.5" y="74.3" width="1" height="1" fill="#1414F0"/>
<rect x="83.3" y="76.2" width="1" height="1" fill="#1414F0"/>
<rect x="80.2" y="77.5" width="1" height="1" fill="#1414F0"/>
<rect x="82.7" y="76.2" width="1" height="1" fill="#1414F0"/>
<rect x="77.8" y="78.5" width="1" height="1" fill="#1414F0"/>
<rect x="83.9" y="75.7" width="1" height="1" fill="#1414F0"/>
<rect x="80.7" y="80.3" width="1" height="1" fill="#1414F0"/>
<rect x="75.3" y="80.9" width="1" height="1" fill="#1414F0"/>
<rect x="72.7" y="80.9" width="1" height="1" fill="#1414F0"/>
<rect x="76.0" y="78.8" width="1" height="1" fill="#1414F0"/>
<rect x="72.2" y="80.3" width="1" height="1" fill="#1414F0"/>
<rect x="83.2" y="73.3" width="1" height="1" fill="#1414F0"/>
<rect x="76.2" y="78.1" width="1" height="1" fill="#1414F0"/>
<rect x="79.1" y="77.0" width="1" height="1" fill="#1414F0"/>
<rect x="86.1" y="70.2" width="1" height="1" fill="#1414F0"/>
<rect x="79.7" y="78.0" width="1" height="1" fill="#1414F0"/>
<rect x="78.5" y="78.8" width="1" height="1" fill="#1414F0"/>
<rect x="76.1" y="78.0" width="1" height="1" fill="#1414F0"/>
<rect x="73.7" y="80.1" width="1" height="1" fill="#1414F0"/>
<rect x="82.4" y="70.9" width="1" height="1" fill="#1414F0"/>
<rect x="76.2" y="79.3" width="1" height="1" fill="#1414F0"/>
<rect x="75.3" y="84.0" width="1" height="1" fill="#1414F0"/>
<rect x="82.3" y="76.7" width="1" height="1" fill="#1414F0"/>
<rect x="82.8" y="73.0" width="1" height="1" fill="#1414F0"/>
<rect x="74.8" y="82.1" width="1" height="1" fill="#1414F0"/>
<rect x="80.6" y="80.8" width="1" height="1" fill="#1414F0"/>
<rect x="74.7" y="78.6" width="1" height="1" fill="#1414F0"/>
<rect x="83.2" y="72.7" width="1" height="1" fill="#1414F0"/>
<rect x="75.6" y="80.2" width="1" height="1" fill="#1414F0"/>
<rect x="75.3" y="74.2" width="1" height="1" fill="#1414F0"/>
<rect x="81.4" y="72.0" width="1" height="1" fill="#1414F0"/>
<rect x="70.4" y="85.5" width="1" height="1" fill="#1414F0"/>
<rect x="82.0" y="76.9" width="1" height="1" fill="#1414F0"/>
<rect x="79.3" y="74.4" width="1" height="1" fill="#1414F0"/>
<rect x="81.7" y="78.9" width="1" height="1" fill="#1414F0"/>
<rect x="82.8" y="72.1" width="1" height="1" fill="#1414F0"/>
<rect x="67.5" y="73.3" width="1" height="1" fill="#2020F0"/>
<rect x="70.3" y="103.7" width="1" height="1" fill="#2020F0"/>
<rect x="67.7" y="94.0" width="1" height="1" fill="#2020F0"/>
<rect x="71.9" y="75.3" width="1" height="1" fill="#2020F0"/>
<rect x="73.3" y="90.8" width="1" height="1" fill="#2020F0"/>
<rect x="63.6" y="71.2" width="1" height="1" fill="#2020F0"/>
<rect x="64.2" y="89.0" width="1" height="1" fill="#2020F0"/>
<rect x="70.1" y="80.1" width="1" height="1" fill="#2020F0"/>
<rect x="73.1" y="81.2" width="1" height="1" fill="#2020F0"/>
<rect x="67.0" y="72.7" width="1" height="1" fill="#2020F0"/>
<rect x="73.7" y="73.1" width="1" height="1" fill="#2020F0"/>
<rect x="72.8" y="87.8" width="1" height="1" fill="#2020F0"/>
<rect x="68.3" y="88.4" width="1" height="1" fill="#2020F0"/>
<rect x="64.4" y="100.9" width="1" height="1" fill="#2020F0"/>
<rect x="73.9" y="97.6" width="1" height="1" fill="#2020F0"/>
<rect x="68.8" y="72.6" width="1" height="1" fill="#2020F0"/>
<rect x="71.7" y="78.6" width="1" height="1" fill="#2020F0"/>
<rect x="72.7" y="76.9" width="1" height="1" fill="#2020F0"/>
<rect x="68.5" y="98.1" width="1" height="1" fill="#2020F0"/>
<rect x="63.4" y="87.9" width="1" height="1" fill="#2020F0"/>
<rect x="62.0" y="69.4" width="1" height="1" fill="#2020F0"/>
<rect x="63.3" y="103.7" width="1" height="1" fill="#2020F0"/>
<rect x="86.6" y="97.7" width="1" height="1" fill="#2020F0"/>
<rect x="72.1" y="98.0" width="1" height="1" fill="#2020F0"/>
<rect x="82.0" y="92.5" width="1" height="1" fill="#2020F0"/>
<rect x="78.6" y="100.5" width="1" height="1" fill="#2020F0"/>
<rect x="65.4" y="89.0" width="1" height="1" fill="#2020F0"/>
<rect x="75.8" y="87.9" width="1" height="1" fill="#2020F0"/>
<rect x="73.9" y="96.0" width="1" height="1" fill="#2020F0"/>
<rect x="69.0" y="95.1" width="1" height="1" fill="#2020F0"/>
<rect x="71.1" y="96.0" width="1" height="1" fill="#2020F0"/>
<rect x="72.6" y="97.4" width="1" height="1" fill="#2020F0"/>
<rect x="65.9" y="97.9" width="1" height="1" fill="#2020F0"/>
<rect x="68.3" y="103.4" width="1" height="1" fill="#2020F0"/>
<text x="0" y="0" transform="translate(96.0 57.0) scale(0.9539 1)" font-size="6.6" text-anchor="end" fill="#B8355A" stroke="#B8355A" stroke-width="0.15">0.68 %</text>
<rect x="104.7" y="46.2" width="74.6" height="61.39999999999999" fill="#fff" stroke="#c8c8c8" stroke-width="1"/>
<polygon points="104.70,73.50 114.71,73.10 122.79,69.90 130.86,67.42 137.00,65.50 135.00,74.00 134.30,82.50 133.00,107.60 104.70,107.60" fill="#0A0EF6"/>
<g clip-path="url(#cp1)">
<rect x="122.7" y="84.4" width="1" height="1" fill="#2246FF" opacity="0.8"/>
<rect x="117.0" y="91.0" width="1" height="1" fill="#2246FF" opacity="0.8"/>
<rect x="125.4" y="96.8" width="1" height="1" fill="#2246FF" opacity="0.8"/>
<rect x="127.3" y="85.1" width="1" height="1" fill="#2246FF" opacity="0.8"/>
<rect x="134.5" y="100.2" width="1" height="1" fill="#2246FF" opacity="0.8"/>
<rect x="130.4" y="81.8" width="1" height="1" fill="#2246FF" opacity="0.8"/>
<rect x="117.7" y="88.5" width="1" height="1" fill="#2246FF" opacity="0.8"/>
<rect x="131.9" y="86.8" width="1" height="1" fill="#2246FF" opacity="0.8"/>
<rect x="120.5" y="82.8" width="1" height="1" fill="#2246FF" opacity="0.8"/>
<rect x="131.8" y="78.0" width="1" height="1" fill="#2246FF" opacity="0.8"/>
<rect x="106.3" y="95.4" width="1" height="1" fill="#2246FF" opacity="0.8"/>
<rect x="131.7" y="95.7" width="1" height="1" fill="#2246FF" opacity="0.8"/>
<rect x="122.6" y="96.5" width="1" height="1" fill="#2246FF" opacity="0.8"/>
<rect x="113.8" y="89.7" width="1" height="1" fill="#2246FF" opacity="0.8"/>
<rect x="106.8" y="69.6" width="1" height="1" fill="#2246FF" opacity="0.8"/>
<rect x="118.1" y="85.8" width="1" height="1" fill="#2246FF" opacity="0.8"/>
<rect x="116.6" y="66.4" width="1" height="1" fill="#2246FF" opacity="0.8"/>
<rect x="125.5" y="86.8" width="1" height="1" fill="#2246FF" opacity="0.8"/>
<rect x="111.9" y="77.4" width="1" height="1" fill="#2246FF" opacity="0.8"/>
<rect x="116.6" y="74.3" width="1" height="1" fill="#2246FF" opacity="0.8"/>
<rect x="106.8" y="103.4" width="1" height="1" fill="#2246FF" opacity="0.8"/>
<rect x="133.7" y="92.8" width="1" height="1" fill="#2246FF" opacity="0.8"/>
<rect x="130.7" y="82.3" width="1" height="1" fill="#2246FF" opacity="0.8"/>
<rect x="128.9" y="73.7" width="1" height="1" fill="#2246FF" opacity="0.8"/>
<rect x="127.1" y="88.6" width="1" height="1" fill="#2246FF" opacity="0.8"/>
<rect x="131.8" y="68.4" width="1" height="1" fill="#2246FF" opacity="0.8"/>
<rect x="128.5" y="69.5" width="1" height="1" fill="#2246FF" opacity="0.8"/>
<rect x="120.8" y="105.1" width="1" height="1" fill="#2246FF" opacity="0.8"/>
<rect x="104.7" y="74.7" width="1" height="1" fill="#2246FF" opacity="0.8"/>
<rect x="113.7" y="78.2" width="1" height="1" fill="#2246FF" opacity="0.8"/>
<rect x="106.6" y="102.7" width="1" height="1" fill="#2246FF" opacity="0.8"/>
<rect x="129.2" y="81.3" width="1" height="1" fill="#2246FF" opacity="0.8"/>
<rect x="115.4" y="89.4" width="1" height="1" fill="#2246FF" opacity="0.8"/>
<rect x="106.1" y="65.5" width="1" height="1" fill="#2246FF" opacity="0.8"/>
<rect x="131.7" y="77.4" width="1" height="1" fill="#2246FF" opacity="0.8"/>
<rect x="119.7" y="104.4" width="1" height="1" fill="#2246FF" opacity="0.8"/>
<rect x="134.0" y="84.5" width="1" height="1" fill="#2246FF" opacity="0.8"/>
<rect x="110.9" y="76.9" width="1" height="1" fill="#2246FF" opacity="0.8"/>
<rect x="132.4" y="102.8" width="1" height="1" fill="#2246FF" opacity="0.8"/>
<rect x="110.6" y="100.2" width="1" height="1" fill="#2246FF" opacity="0.8"/>
<rect x="115.3" y="84.5" width="1" height="1" fill="#2246FF" opacity="0.8"/>
<rect x="109.9" y="102.0" width="1" height="1" fill="#2246FF" opacity="0.8"/>
<rect x="134.6" y="72.9" width="1" height="1" fill="#2246FF" opacity="0.8"/>
<rect x="123.7" y="72.4" width="1" height="1" fill="#2246FF" opacity="0.8"/>
<rect x="131.1" y="66.4" width="1" height="1" fill="#2246FF" opacity="0.8"/>
<rect x="107.9" y="95.4" width="1" height="1" fill="#2246FF" opacity="0.8"/>
<rect x="114.1" y="102.9" width="1" height="1" fill="#2246FF" opacity="0.8"/>
<rect x="130.8" y="94.9" width="1" height="1" fill="#2246FF" opacity="0.8"/>
<rect x="108.7" y="94.1" width="1" height="1" fill="#2246FF" opacity="0.8"/>
<rect x="132.8" y="83.3" width="1" height="1" fill="#2246FF" opacity="0.8"/>
<rect x="107.1" y="73.8" width="1" height="1" fill="#2246FF" opacity="0.8"/>
<rect x="113.9" y="94.8" width="1" height="1" fill="#2246FF" opacity="0.8"/>
<rect x="110.6" y="72.0" width="1" height="1" fill="#2246FF" opacity="0.8"/>
<rect x="111.8" y="92.8" width="1" height="1" fill="#2246FF" opacity="0.8"/>
<rect x="128.4" y="80.2" width="1" height="1" fill="#2246FF" opacity="0.8"/>
<rect x="124.6" y="102.2" width="1" height="1" fill="#2246FF" opacity="0.8"/>
<rect x="122.4" y="74.0" width="1" height="1" fill="#2246FF" opacity="0.8"/>
<rect x="113.7" y="104.1" width="1" height="1" fill="#2246FF" opacity="0.8"/>
<rect x="124.7" y="76.1" width="1" height="1" fill="#2246FF" opacity="0.8"/>
<rect x="123.9" y="68.1" width="1" height="1" fill="#2246FF" opacity="0.8"/>
<rect x="134.2" y="83.1" width="1" height="1" fill="#2246FF" opacity="0.8"/>
<rect x="120.5" y="87.0" width="1" height="1" fill="#2246FF" opacity="0.8"/>
<rect x="106.1" y="90.0" width="1" height="1" fill="#2246FF" opacity="0.8"/>
<rect x="113.2" y="75.0" width="1" height="1" fill="#2246FF" opacity="0.8"/>
<rect x="128.8" y="67.9" width="1" height="1" fill="#2246FF" opacity="0.8"/>
<rect x="113.3" y="96.7" width="1" height="1" fill="#2246FF" opacity="0.8"/>
<rect x="112.1" y="76.2" width="1" height="1" fill="#2246FF" opacity="0.8"/>
<rect x="121.1" y="72.2" width="1" height="1" fill="#2246FF" opacity="0.8"/>
<rect x="131.6" y="106.7" width="1" height="1" fill="#2246FF" opacity="0.8"/>
<rect x="105.7" y="84.1" width="1" height="1" fill="#2246FF" opacity="0.8"/>
<rect x="127.2" y="80.7" width="1" height="1" fill="#2246FF" opacity="0.8"/>
<rect x="132.6" y="85.7" width="1" height="1" fill="#2246FF" opacity="0.8"/>
<rect x="110.1" y="88.1" width="1" height="1" fill="#2246FF" opacity="0.8"/>
<rect x="124.0" y="79.7" width="1" height="1" fill="#2246FF" opacity="0.8"/>
<rect x="124.4" y="97.9" width="1" height="1" fill="#2246FF" opacity="0.8"/>
<rect x="120.2" y="85.9" width="1" height="1" fill="#2246FF" opacity="0.8"/>
<rect x="130.1" y="93.6" width="1" height="1" fill="#2246FF" opacity="0.8"/>
<rect x="120.3" y="105.1" width="1" height="1" fill="#2246FF" opacity="0.8"/>
<rect x="109.9" y="97.7" width="1" height="1" fill="#2246FF" opacity="0.8"/>
<rect x="109.7" y="90.3" width="1" height="1" fill="#2246FF" opacity="0.8"/>
<rect x="111.8" y="83.1" width="1" height="1" fill="#2246FF" opacity="0.8"/>
<rect x="127.9" y="98.0" width="1" height="1" fill="#2246FF" opacity="0.8"/>
<rect x="128.4" y="74.3" width="1" height="1" fill="#2246FF" opacity="0.8"/>
<rect x="119.4" y="73.7" width="1" height="1" fill="#2246FF" opacity="0.8"/>
<rect x="122.1" y="85.7" width="1" height="1" fill="#2246FF" opacity="0.8"/>
<rect x="105.8" y="89.9" width="1" height="1" fill="#2246FF" opacity="0.8"/>
<rect x="126.1" y="88.8" width="1" height="1" fill="#2246FF" opacity="0.8"/>
<rect x="130.9" y="71.9" width="1" height="1" fill="#2246FF" opacity="0.8"/>
<rect x="109.3" y="65.0" width="1" height="1" fill="#2246FF" opacity="0.8"/>
<rect x="119.6" y="82.9" width="1" height="1" fill="#2246FF" opacity="0.8"/>
<rect x="118.0" y="75.5" width="1" height="1" fill="#2246FF" opacity="0.8"/>
<rect x="128.7" y="67.3" width="1" height="1" fill="#2246FF" opacity="0.8"/>
<rect x="131.9" y="88.7" width="1" height="1" fill="#2246FF" opacity="0.8"/>
<rect x="121.0" y="98.2" width="1" height="1" fill="#2246FF" opacity="0.8"/>
<rect x="111.8" y="70.5" width="1" height="1" fill="#2246FF" opacity="0.8"/>
<rect x="114.0" y="66.0" width="1" height="1" fill="#2246FF" opacity="0.8"/>
<rect x="114.1" y="90.9" width="1" height="1" fill="#2246FF" opacity="0.8"/>
<rect x="120.5" y="75.6" width="1" height="1" fill="#2246FF" opacity="0.8"/>
<rect x="122.4" y="68.0" width="1" height="1" fill="#2246FF" opacity="0.8"/>
<rect x="129.3" y="71.6" width="1" height="1" fill="#2246FF" opacity="0.8"/>
<rect x="112.3" y="71.1" width="1" height="1" fill="#2246FF" opacity="0.8"/>
<rect x="125.4" y="99.9" width="1" height="1" fill="#2246FF" opacity="0.8"/>
<rect x="128.3" y="66.8" width="1" height="1" fill="#2246FF" opacity="0.8"/>
<rect x="117.0" y="79.9" width="1" height="1" fill="#2246FF" opacity="0.8"/>
<rect x="111.2" y="105.9" width="1" height="1" fill="#2246FF" opacity="0.8"/>
<rect x="106.0" y="85.3" width="1" height="1" fill="#2246FF" opacity="0.8"/>
<rect x="127.5" y="106.6" width="1" height="1" fill="#2246FF" opacity="0.8"/>
<rect x="109.0" y="83.8" width="1" height="1" fill="#2246FF" opacity="0.8"/>
<rect x="127.0" y="65.9" width="1" height="1" fill="#2246FF" opacity="0.8"/>
<rect x="111.9" y="102.5" width="1" height="1" fill="#2246FF" opacity="0.8"/>
<ellipse cx="125.00" cy="86.70" rx="12.5" ry="21.5" fill="url(#fg)" transform="rotate(22 125.00 86.70)"/>
<rect x="130.9" y="97.5" width="1" height="1" fill="#1A3CF8" opacity="0.5"/>
<rect x="113.2" y="89.8" width="1" height="1" fill="#0CC6EE" opacity="0.5"/>
<rect x="120.3" y="72.1" width="1" height="1" fill="#0A0EF6" opacity="0.5"/>
<rect x="118.2" y="78.1" width="1" height="1" fill="#0CC6EE" opacity="0.5"/>
<rect x="116.8" y="82.6" width="1" height="1" fill="#20D8C0" opacity="0.5"/>
<rect x="132.4" y="93.2" width="1" height="1" fill="#1A3CF8" opacity="0.5"/>
<rect x="118.7" y="102.1" width="1" height="1" fill="#0A9CF4" opacity="0.5"/>
<rect x="126.6" y="98.7" width="1" height="1" fill="#0A9CF4" opacity="0.5"/>
<rect x="120.4" y="77.4" width="1" height="1" fill="#1A3CF8" opacity="0.5"/>
<rect x="114.2" y="79.5" width="1" height="1" fill="#0A9CF4" opacity="0.5"/>
<rect x="132.4" y="81.0" width="1" height="1" fill="#20D8C0" opacity="0.5"/>
<rect x="132.8" y="81.7" width="1" height="1" fill="#20D8C0" opacity="0.5"/>
<rect x="126.7" y="74.3" width="1" height="1" fill="#1A3CF8" opacity="0.5"/>
<rect x="125.2" y="103.4" width="1" height="1" fill="#0A6CF6" opacity="0.5"/>
<rect x="115.7" y="88.4" width="1" height="1" fill="#0A9CF4" opacity="0.5"/>
<rect x="116.2" y="89.4" width="1" height="1" fill="#20D8C0" opacity="0.5"/>
<rect x="114.5" y="87.7" width="1" height="1" fill="#0A6CF6" opacity="0.5"/>
<rect x="130.5" y="77.2" width="1" height="1" fill="#20D8C0" opacity="0.5"/>
<rect x="118.3" y="92.3" width="1" height="1" fill="#1A3CF8" opacity="0.5"/>
<rect x="119.3" y="96.6" width="1" height="1" fill="#0CC6EE" opacity="0.5"/>
<rect x="114.1" y="84.8" width="1" height="1" fill="#0A9CF4" opacity="0.5"/>
<rect x="115.7" y="97.7" width="1" height="1" fill="#0A0EF6" opacity="0.5"/>
<rect x="126.6" y="98.3" width="1" height="1" fill="#0CC6EE" opacity="0.5"/>
<rect x="131.8" y="101.2" width="1" height="1" fill="#1A3CF8" opacity="0.5"/>
<rect x="130.6" y="96.4" width="1" height="1" fill="#0CC6EE" opacity="0.5"/>
<rect x="134.0" y="88.4" width="1" height="1" fill="#20D8C0" opacity="0.5"/>
<rect x="114.0" y="92.0" width="1" height="1" fill="#20D8C0" opacity="0.5"/>
<rect x="119.9" y="101.4" width="1" height="1" fill="#0A9CF4" opacity="0.5"/>
<rect x="120.7" y="75.1" width="1" height="1" fill="#0A9CF4" opacity="0.5"/>
<rect x="125.6" y="98.1" width="1" height="1" fill="#0A6CF6" opacity="0.5"/>
<rect x="116.9" y="85.7" width="1" height="1" fill="#0A6CF6" opacity="0.5"/>
<rect x="121.4" y="99.7" width="1" height="1" fill="#0A9CF4" opacity="0.5"/>
<rect x="121.6" y="72.9" width="1" height="1" fill="#0A9CF4" opacity="0.5"/>
<rect x="124.3" y="102.9" width="1" height="1" fill="#0A0EF6" opacity="0.5"/>
<rect x="116.6" y="98.8" width="1" height="1" fill="#1A3CF8" opacity="0.5"/>
<rect x="115.6" y="83.6" width="1" height="1" fill="#0A6CF6" opacity="0.5"/>
<rect x="116.2" y="97.9" width="1" height="1" fill="#0A6CF6" opacity="0.5"/>
<rect x="132.4" y="94.9" width="1" height="1" fill="#0A9CF4" opacity="0.5"/>
<rect x="126.6" y="97.8" width="1" height="1" fill="#0CC6EE" opacity="0.5"/>
<rect x="124.8" y="72.2" width="1" height="1" fill="#0CC6EE" opacity="0.5"/>
<rect x="129.4" y="70.0" width="1" height="1" fill="#1A3CF8" opacity="0.5"/>
<rect x="120.8" y="76.9" width="1" height="1" fill="#0A6CF6" opacity="0.5"/>
<rect x="116.4" y="81.9" width="1" height="1" fill="#0CC6EE" opacity="0.5"/>
<rect x="136.2" y="81.9" width="1" height="1" fill="#0A6CF6" opacity="0.5"/>
<rect x="126.8" y="74.1" width="1" height="1" fill="#20D8C0" opacity="0.5"/>
<rect x="132.2" y="96.7" width="1" height="1" fill="#20D8C0" opacity="0.5"/>
<rect x="118.3" y="95.7" width="1" height="1" fill="#20D8C0" opacity="0.5"/>
<rect x="122.5" y="74.6" width="1" height="1" fill="#20D8C0" opacity="0.5"/>
<rect x="128.3" y="102.5" width="1" height="1" fill="#1A3CF8" opacity="0.5"/>
<rect x="120.6" y="75.7" width="1" height="1" fill="#0CC6EE" opacity="0.5"/>
<rect x="111.6" y="105.3" width="1.1" height="1.1" fill="#C8D0FF" opacity="0.85"/>
<rect x="112.1" y="101.0" width="1.1" height="1.1" fill="#C8D0FF" opacity="0.85"/>
<rect x="107.8" y="104.7" width="1.1" height="1.1" fill="#C8D0FF" opacity="0.85"/>
<rect x="108.2" y="105.3" width="1.1" height="1.1" fill="#C8D0FF" opacity="0.85"/>
<rect x="112.9" y="97.4" width="1.1" height="1.1" fill="#C8D0FF" opacity="0.85"/>
<rect x="113.0" y="105.3" width="1.1" height="1.1" fill="#C8D0FF" opacity="0.85"/>
<rect x="107.9" y="100.0" width="1.1" height="1.1" fill="#C8D0FF" opacity="0.85"/>
<rect x="112.5" y="99.2" width="1.1" height="1.1" fill="#C8D0FF" opacity="0.85"/>
<rect x="111.5" y="105.1" width="1.1" height="1.1" fill="#C8D0FF" opacity="0.85"/>
<rect x="106.3" y="96.6" width="1.1" height="1.1" fill="#C8D0FF" opacity="0.85"/>
<rect x="108.3" y="99.9" width="1.1" height="1.1" fill="#C8D0FF" opacity="0.85"/>
<rect x="108.1" y="104.4" width="1.1" height="1.1" fill="#C8D0FF" opacity="0.85"/>
<rect x="112.8" y="102.6" width="1.1" height="1.1" fill="#C8D0FF" opacity="0.85"/>
<rect x="108.8" y="99.6" width="1.1" height="1.1" fill="#C8D0FF" opacity="0.85"/>
<rect x="119.2" y="73.6" width="1" height="1" fill="#ffffff" opacity="0.75"/>
<rect x="116.1" y="74.1" width="1" height="1" fill="#ffffff" opacity="0.75"/>
<rect x="105.9" y="73.6" width="1" height="1" fill="#ffffff" opacity="0.75"/>
<rect x="113.5" y="75.3" width="1" height="1" fill="#ffffff" opacity="0.75"/>
<rect x="105.7" y="73.7" width="1" height="1" fill="#ffffff" opacity="0.75"/>
<rect x="112.2" y="74.8" width="1" height="1" fill="#ffffff" opacity="0.75"/>
<rect x="120.3" y="74.7" width="1" height="1" fill="#ffffff" opacity="0.75"/>
<rect x="117.7" y="75.6" width="1" height="1" fill="#ffffff" opacity="0.75"/>
<rect x="109.1" y="75.0" width="1" height="1" fill="#ffffff" opacity="0.75"/>
<rect x="112.3" y="73.6" width="1" height="1" fill="#ffffff" opacity="0.75"/>
</g>
<rect x="124.7" y="69.3" width="1" height="1" fill="#1010F0"/>
<rect x="111.9" y="71.2" width="1" height="1" fill="#1010F0"/>
<rect x="136.4" y="66.8" width="1" height="1" fill="#1010F0"/>
<rect x="132.0" y="67.0" width="1" height="1" fill="#1010F0"/>
<rect x="130.8" y="68.3" width="1" height="1" fill="#1010F0"/>
<rect x="130.7" y="67.5" width="1" height="1" fill="#1010F0"/>
<rect x="118.0" y="72.2" width="1" height="1" fill="#1010F0"/>
<rect x="110.8" y="72.6" width="1" height="1" fill="#1010F0"/>
<rect x="131.2" y="67.2" width="1" height="1" fill="#1010F0"/>
<rect x="116.3" y="71.7" width="1" height="1" fill="#1010F0"/>
<rect x="126.2" y="68.1" width="1" height="1" fill="#1010F0"/>
<rect x="133.3" y="66.2" width="1" height="1" fill="#1010F0"/>
<rect x="135.7" y="66.4" width="1" height="1" fill="#1010F0"/>
<rect x="114.6" y="73.6" width="1" height="1" fill="#1010F0"/>
<rect x="126.9" y="69.9" width="1" height="1" fill="#1010F0"/>
<rect x="118.3" y="70.9" width="1" height="1" fill="#1010F0"/>
<rect x="117.0" y="71.8" width="1" height="1" fill="#1010F0"/>
<rect x="112.8" y="72.6" width="1" height="1" fill="#1010F0"/>
<rect x="127.7" y="69.4" width="1" height="1" fill="#1010F0"/>
<rect x="111.5" y="72.8" width="1" height="1" fill="#1010F0"/>
<rect x="136.3" y="65.4" width="1" height="1" fill="#1010F0"/>
<rect x="129.0" y="68.0" width="1" height="1" fill="#1010F0"/>
<rect x="111.2" y="72.7" width="1" height="1" fill="#1010F0"/>
<rect x="125.7" y="70.0" width="1" height="1" fill="#1010F0"/>
<rect x="126.1" y="69.1" width="1" height="1" fill="#1010F0"/>
<rect x="114.1" y="73.1" width="1" height="1" fill="#1010F0"/>
<rect x="126.8" y="67.8" width="1" height="1" fill="#1010F0"/>
<rect x="110.8" y="75.0" width="1" height="1" fill="#1010F0"/>
<rect x="133.3" y="67.1" width="1" height="1" fill="#1010F0"/>
<rect x="121.7" y="70.4" width="1" height="1" fill="#1010F0"/>
<rect x="133.1" y="67.3" width="1" height="1" fill="#1010F0"/>
<rect x="110.7" y="74.2" width="1" height="1" fill="#1010F0"/>
<rect x="132.5" y="66.4" width="1" height="1" fill="#1010F0"/>
<rect x="128.2" y="67.9" width="1" height="1" fill="#1010F0"/>
<rect x="123.1" y="69.4" width="1" height="1" fill="#1010F0"/>
<rect x="113.8" y="73.8" width="1" height="1" fill="#1010F0"/>
<rect x="131.3" y="65.4" width="1" height="1" fill="#1010F0"/>
<rect x="133.3" y="66.2" width="1" height="1" fill="#1010F0"/>
<rect x="133.9" y="66.5" width="1" height="1" fill="#1010F0"/>
<rect x="114.1" y="72.5" width="1" height="1" fill="#1010F0"/>
<rect x="108.0" y="73.7" width="1" height="1" fill="#1010F0"/>
<rect x="122.9" y="69.9" width="1" height="1" fill="#1010F0"/>
<rect x="129.3" y="67.9" width="1" height="1" fill="#1010F0"/>
<rect x="116.6" y="73.6" width="1" height="1" fill="#1010F0"/>
<rect x="136.8" y="65.4" width="1" height="1" fill="#1010F0"/>
<rect x="116.1" y="71.4" width="1" height="1" fill="#1010F0"/>
<rect x="111.3" y="72.0" width="1" height="1" fill="#1010F0"/>
<rect x="113.6" y="73.4" width="1" height="1" fill="#1010F0"/>
<rect x="112.5" y="73.6" width="1" height="1" fill="#1010F0"/>
<rect x="135.4" y="67.8" width="1" height="1" fill="#1010F0"/>
<rect x="135.0" y="64.7" width="1" height="1" fill="#1010F0"/>
<rect x="113.9" y="74.3" width="1" height="1" fill="#1010F0"/>
<rect x="107.0" y="71.6" width="1" height="1" fill="#1010F0"/>
<rect x="107.5" y="72.4" width="1" height="1" fill="#1010F0"/>
<rect x="114.7" y="73.2" width="1" height="1" fill="#1010F0"/>
<rect x="121.4" y="70.3" width="1" height="1" fill="#1010F0"/>
<rect x="125.5" y="69.3" width="1" height="1" fill="#1010F0"/>
<rect x="135.1" y="64.4" width="1" height="1" fill="#1010F0"/>
<rect x="117.7" y="72.8" width="1" height="1" fill="#1010F0"/>
<rect x="137.2" y="65.9" width="1" height="1" fill="#1010F0"/>
<rect x="134.1" y="95.9" width="1" height="1" fill="#1010F0"/>
<rect x="134.4" y="86.7" width="1" height="1" fill="#1010F0"/>
<rect x="136.9" y="91.8" width="1" height="1" fill="#1010F0"/>
<rect x="134.1" y="84.3" width="1" height="1" fill="#1010F0"/>
<rect x="133.8" y="92.9" width="1" height="1" fill="#1010F0"/>
<rect x="133.7" y="90.4" width="1" height="1" fill="#1010F0"/>
<rect x="135.7" y="72.9" width="1" height="1" fill="#1010F0"/>
<rect x="136.9" y="67.4" width="1" height="1" fill="#1010F0"/>
<rect x="135.4" y="74.0" width="1" height="1" fill="#1010F0"/>
<rect x="134.8" y="80.0" width="1" height="1" fill="#1010F0"/>
<rect x="135.8" y="73.0" width="1" height="1" fill="#1010F0"/>
<rect x="136.8" y="66.4" width="1" height="1" fill="#1010F0"/>
<rect x="136.0" y="69.4" width="1" height="1" fill="#1010F0"/>
<rect x="133.8" y="105.5" width="1" height="1" fill="#1010F0"/>
<rect x="138.1" y="66.4" width="1" height="1" fill="#1010F0"/>
<rect x="136.3" y="72.7" width="1" height="1" fill="#1010F0"/>
<rect x="134.2" y="89.8" width="1" height="1" fill="#1010F0"/>
<rect x="136.9" y="78.9" width="1" height="1" fill="#1010F0"/>
<rect x="134.2" y="86.4" width="1" height="1" fill="#1010F0"/>
<rect x="134.7" y="98.3" width="1" height="1" fill="#1010F0"/>
<rect x="137.3" y="68.4" width="1" height="1" fill="#1010F0"/>
<rect x="136.1" y="81.8" width="1" height="1" fill="#1010F0"/>
<rect x="134.3" y="98.2" width="1" height="1" fill="#1010F0"/>
<rect x="135.5" y="87.5" width="1" height="1" fill="#1010F0"/>
<rect x="133.6" y="93.3" width="1" height="1" fill="#1010F0"/>
<rect x="134.3" y="103.8" width="1" height="1" fill="#1010F0"/>
<rect x="134.7" y="79.9" width="1" height="1" fill="#1010F0"/>
<rect x="134.2" y="83.9" width="1" height="1" fill="#1010F0"/>
<rect x="133.9" y="106.3" width="1" height="1" fill="#1010F0"/>
<rect x="134.2" y="104.4" width="1" height="1" fill="#1010F0"/>
<rect x="134.5" y="96.8" width="1" height="1" fill="#1010F0"/>
<rect x="136.0" y="83.7" width="1" height="1" fill="#1010F0"/>
<rect x="134.2" y="86.5" width="1" height="1" fill="#1010F0"/>
<rect x="134.4" y="81.2" width="1" height="1" fill="#1010F0"/>
<rect x="133.0" y="104.2" width="1" height="1" fill="#1010F0"/>
<rect x="134.6" y="87.6" width="1" height="1" fill="#1010F0"/>
<rect x="136.5" y="67.4" width="1" height="1" fill="#1010F0"/>
<rect x="136.8" y="67.8" width="1" height="1" fill="#1010F0"/>
<rect x="135.5" y="79.2" width="1" height="1" fill="#1010F0"/>
<rect x="135.0" y="76.1" width="1" height="1" fill="#1010F0"/>
<rect x="134.4" y="85.1" width="1" height="1" fill="#1010F0"/>
<rect x="136.4" y="88.6" width="1" height="1" fill="#1010F0"/>
<rect x="134.2" y="97.1" width="1" height="1" fill="#1010F0"/>
<rect x="133.5" y="103.3" width="1" height="1" fill="#1010F0"/>
<rect x="133.3" y="104.4" width="1" height="1" fill="#1010F0"/>
<rect x="133.5" y="98.7" width="1" height="1" fill="#1010F0"/>
<rect x="136.1" y="69.8" width="1" height="1" fill="#1010F0"/>
<rect x="134.6" y="75.9" width="1" height="1" fill="#1010F0"/>
<rect x="137.0" y="67.1" width="1" height="1" fill="#1010F0"/>
<rect x="135.2" y="79.8" width="1" height="1" fill="#1010F0"/>
<rect x="134.8" y="74.1" width="1" height="1" fill="#1010F0"/>
<rect x="137.7" y="66.1" width="1" height="1" fill="#1010F0"/>
<rect x="133.3" y="106.0" width="1" height="1" fill="#1010F0"/>
<rect x="135.5" y="75.4" width="1" height="1" fill="#1010F0"/>
<rect x="134.0" y="97.3" width="1" height="1" fill="#1010F0"/>
<rect x="134.1" y="102.4" width="1" height="1" fill="#1010F0"/>
<rect x="136.7" y="67.8" width="1" height="1" fill="#1010F0"/>
<rect x="133.4" y="102.1" width="1" height="1" fill="#1010F0"/>
<rect x="132.9" y="105.1" width="1" height="1" fill="#1010F0"/>
<rect x="105.2" y="106.0" width="28.3" height="1.2" fill="#1A30F0"/>
<rect x="105.2" y="106.19999999999999" width="9" height="1" fill="#50C040"/>
<rect x="118.7" y="106.19999999999999" width="9" height="1" fill="#D04040" opacity="0.8"/>
<rect x="104.9" y="73.5" width="1" height="34.099999999999994" fill="#7CB070" opacity="0.7"/>
<rect x="142.7" y="67.9" width="27.700000000000017" height="17.099999999999994" fill="none" stroke="#787878" stroke-width="1"/>
<rect x="157.5" y="73.0" width="1.1" height="1.1" fill="#1414F0"/>
<rect x="153.5" y="78.9" width="1.1" height="1.1" fill="#1414F0"/>
<rect x="158.8" y="73.9" width="1.1" height="1.1" fill="#1414F0"/>
<rect x="156.1" y="76.6" width="1.1" height="1.1" fill="#1414F0"/>
<rect x="156.3" y="73.9" width="1.1" height="1.1" fill="#1414F0"/>
<rect x="155.5" y="72.0" width="1.1" height="1.1" fill="#1414F0"/>
<rect x="155.6" y="74.4" width="1.1" height="1.1" fill="#1414F0"/>
<rect x="154.7" y="72.0" width="1.1" height="1.1" fill="#1414F0"/>
<rect x="153.9" y="79.6" width="1.1" height="1.1" fill="#1414F0"/>
<rect x="160.5" y="73.8" width="1.1" height="1.1" fill="#1414F0"/>
<rect x="159.6" y="74.2" width="1.1" height="1.1" fill="#1414F0"/>
<rect x="158.6" y="71.0" width="1.1" height="1.1" fill="#1414F0"/>
<rect x="160.7" y="69.7" width="1.1" height="1.1" fill="#1414F0"/>
<rect x="155.7" y="73.0" width="1.1" height="1.1" fill="#1414F0"/>
<rect x="158.0" y="78.1" width="1.1" height="1.1" fill="#1414F0"/>
<rect x="158.6" y="77.0" width="1.1" height="1.1" fill="#1414F0"/>
<rect x="159.1" y="74.8" width="1.1" height="1.1" fill="#1414F0"/>
<rect x="156.7" y="76.4" width="1.1" height="1.1" fill="#1414F0"/>
<rect x="155.0" y="72.9" width="1.1" height="1.1" fill="#1414F0"/>
<rect x="157.9" y="74.3" width="1.1" height="1.1" fill="#1414F0"/>
<rect x="158.1" y="77.8" width="1.1" height="1.1" fill="#1414F0"/>
<rect x="160.2" y="71.4" width="1.1" height="1.1" fill="#1414F0"/>
<rect x="157.1" y="75.1" width="1.1" height="1.1" fill="#1414F0"/>
<rect x="156.5" y="76.5" width="1.1" height="1.1" fill="#1414F0"/>
<rect x="155.0" y="73.1" width="1.1" height="1.1" fill="#1414F0"/>
<rect x="157.8" y="75.2" width="1.1" height="1.1" fill="#1414F0"/>
<rect x="159.7" y="75.9" width="1.1" height="1.1" fill="#1414F0"/>
<rect x="153.9" y="75.6" width="1.1" height="1.1" fill="#1414F0"/>
<rect x="157.9" y="75.1" width="1.1" height="1.1" fill="#1414F0"/>
<rect x="161.9" y="70.3" width="1.1" height="1.1" fill="#1414F0"/>
<rect x="160.5" y="75.9" width="1.1" height="1.1" fill="#1414F0"/>
<rect x="157.3" y="76.9" width="1.1" height="1.1" fill="#1414F0"/>
<rect x="157.7" y="76.6" width="1.1" height="1.1" fill="#1414F0"/>
<rect x="157.6" y="77.5" width="1.1" height="1.1" fill="#1414F0"/>
<rect x="155.0" y="75.8" width="1.1" height="1.1" fill="#1414F0"/>
<rect x="153.1" y="72.6" width="1.1" height="1.1" fill="#1414F0"/>
<rect x="156.3" y="77.7" width="1.1" height="1.1" fill="#1414F0"/>
<rect x="160.8" y="74.6" width="1.1" height="1.1" fill="#1414F0"/>
<rect x="159.6" y="74.5" width="1.1" height="1.1" fill="#1414F0"/>
<rect x="152.0" y="71.7" width="1.1" height="1.1" fill="#1414F0"/>
<rect x="155.0" y="75.5" width="1.1" height="1.1" fill="#1414F0"/>
<rect x="161.6" y="77.1" width="1.1" height="1.1" fill="#1414F0"/>
<rect x="157.0" y="73.2" width="1.1" height="1.1" fill="#1414F0"/>
<rect x="155.0" y="72.2" width="1.1" height="1.1" fill="#1414F0"/>
<rect x="158.1" y="78.2" width="1.1" height="1.1" fill="#1414F0"/>
<rect x="157.5" y="74.4" width="1.1" height="1.1" fill="#1414F0"/>
<rect x="153.0" y="72.4" width="1.1" height="1.1" fill="#1414F0"/>
<rect x="162.1" y="74.0" width="1.1" height="1.1" fill="#1414F0"/>
<rect x="159.8" y="71.9" width="1.1" height="1.1" fill="#1414F0"/>
<rect x="157.4" y="75.0" width="1.1" height="1.1" fill="#1414F0"/>
<rect x="158.5" y="76.7" width="1.1" height="1.1" fill="#1414F0"/>
<rect x="152.6" y="74.7" width="1.1" height="1.1" fill="#1414F0"/>
<rect x="158.7" y="74.9" width="1.1" height="1.1" fill="#1414F0"/>
<rect x="161.9" y="74.8" width="1.1" height="1.1" fill="#1414F0"/>
<rect x="154.9" y="75.0" width="1.1" height="1.1" fill="#1414F0"/>
<rect x="155.3" y="76.8" width="1" height="1" fill="#1414F0"/>
<rect x="159.9" y="68.3" width="1" height="1" fill="#1414F0"/>
<rect x="158.3" y="71.4" width="1" height="1" fill="#1414F0"/>
<rect x="155.2" y="75.0" width="1" height="1" fill="#1414F0"/>
<rect x="148.2" y="81.6" width="1" height="1" fill="#1414F0"/>
<rect x="160.0" y="68.4" width="1" height="1" fill="#1414F0"/>
<rect x="157.8" y="68.0" width="1" height="1" fill="#1414F0"/>
<rect x="155.2" y="75.9" width="1" height="1" fill="#1414F0"/>
<rect x="147.9" y="82.3" width="1" height="1" fill="#1414F0"/>
<rect x="159.8" y="72.3" width="1" height="1" fill="#1414F0"/>
<rect x="148.4" y="76.1" width="1" height="1" fill="#1414F0"/>
<rect x="163.9" y="77.3" width="1" height="1" fill="#1414F0"/>
<rect x="156.4" y="76.7" width="1" height="1" fill="#1414F0"/>
<rect x="155.1" y="74.9" width="1" height="1" fill="#1414F0"/>
<rect x="152.1" y="81.1" width="1" height="1" fill="#1414F0"/>
<rect x="156.1" y="77.1" width="1" height="1" fill="#1414F0"/>
<rect x="150.0" y="81.5" width="1" height="1" fill="#1414F0"/>
<rect x="161.0" y="70.1" width="1" height="1" fill="#1414F0"/>
<rect x="147.8" y="80.7" width="1" height="1" fill="#1414F0"/>
<rect x="158.7" y="74.8" width="1" height="1" fill="#1414F0"/>
<rect x="149.1" y="80.3" width="1" height="1" fill="#1414F0"/>
<rect x="160.9" y="75.2" width="1" height="1" fill="#1414F0"/>
<rect x="151.7" y="80.8" width="1" height="1" fill="#1414F0"/>
<rect x="148.8" y="78.2" width="1" height="1" fill="#1414F0"/>
<rect x="155.1" y="73.3" width="1" height="1" fill="#1414F0"/>
<rect x="152.2" y="79.4" width="1" height="1" fill="#1414F0"/>
<rect x="153.7" y="74.9" width="1" height="1" fill="#1414F0"/>
<rect x="161.8" y="77.6" width="1" height="1" fill="#1414F0"/>
<rect x="158.4" y="80.1" width="1" height="1" fill="#1414F0"/>
<rect x="162.7" y="73.2" width="1" height="1" fill="#1414F0"/>
<rect x="149.7" y="78.9" width="1" height="1" fill="#1414F0"/>
<rect x="148.4" y="80.2" width="1" height="1" fill="#1414F0"/>
<rect x="156.0" y="75.9" width="1" height="1" fill="#1414F0"/>
<rect x="150.3" y="79.0" width="1" height="1" fill="#1414F0"/>
<rect x="151.0" y="81.3" width="1" height="1" fill="#1414F0"/>
<rect x="156.7" y="74.3" width="1" height="1" fill="#1414F0"/>
<rect x="154.2" y="77.9" width="1" height="1" fill="#1414F0"/>
<rect x="154.4" y="74.8" width="1" height="1" fill="#1414F0"/>
<rect x="143.4" y="72.0" width="1" height="1" fill="#2020F0"/>
<rect x="144.6" y="81.1" width="1" height="1" fill="#2020F0"/>
<rect x="138.9" y="102.9" width="1" height="1" fill="#2020F0"/>
<rect x="144.7" y="98.4" width="1" height="1" fill="#2020F0"/>
<rect x="138.4" y="95.7" width="1" height="1" fill="#2020F0"/>
<rect x="136.4" y="74.8" width="1" height="1" fill="#2020F0"/>
<rect x="137.2" y="95.5" width="1" height="1" fill="#2020F0"/>
<rect x="140.2" y="99.0" width="1" height="1" fill="#2020F0"/>
<rect x="138.5" y="89.4" width="1" height="1" fill="#2020F0"/>
<rect x="146.2" y="102.2" width="1" height="1" fill="#2020F0"/>
<rect x="144.1" y="81.6" width="1" height="1" fill="#2020F0"/>
<rect x="136.9" y="88.8" width="1" height="1" fill="#2020F0"/>
<rect x="137.0" y="82.5" width="1" height="1" fill="#2020F0"/>
<rect x="138.6" y="77.2" width="1" height="1" fill="#2020F0"/>
<rect x="136.1" y="73.6" width="1" height="1" fill="#2020F0"/>
<rect x="137.7" y="78.5" width="1" height="1" fill="#2020F0"/>
<rect x="139.4" y="104.2" width="1" height="1" fill="#2020F0"/>
<rect x="142.1" y="82.4" width="1" height="1" fill="#2020F0"/>
<rect x="136.8" y="73.2" width="1" height="1" fill="#2020F0"/>
<rect x="140.1" y="94.0" width="1" height="1" fill="#2020F0"/>
<rect x="143.7" y="92.8" width="1" height="1" fill="#2020F0"/>
<rect x="138.4" y="87.9" width="1" height="1" fill="#2020F0"/>
<rect x="158.6" y="94.3" width="1" height="1" fill="#2020F0"/>
<rect x="147.4" y="97.1" width="1" height="1" fill="#2020F0"/>
<rect x="160.7" y="100.8" width="1" height="1" fill="#2020F0"/>
<rect x="143.7" y="86.8" width="1" height="1" fill="#2020F0"/>
<rect x="155.5" y="87.9" width="1" height="1" fill="#2020F0"/>
<rect x="157.1" y="98.1" width="1" height="1" fill="#2020F0"/>
<rect x="158.1" y="93.7" width="1" height="1" fill="#2020F0"/>
<rect x="160.3" y="99.0" width="1" height="1" fill="#2020F0"/>
<rect x="158.9" y="103.4" width="1" height="1" fill="#2020F0"/>
<rect x="147.9" y="101.0" width="1" height="1" fill="#2020F0"/>
<rect x="156.1" y="98.6" width="1" height="1" fill="#2020F0"/>
<rect x="148.8" y="98.3" width="1" height="1" fill="#2020F0"/>
<text x="0" y="0" transform="translate(170.7 57.0) scale(0.9539 1)" font-size="6.6" text-anchor="end" fill="#B8355A" stroke="#B8355A" stroke-width="0.15">1.37 %</text>
<rect x="179.3" y="46.2" width="74.6" height="61.39999999999999" fill="#fff" stroke="#c8c8c8" stroke-width="1"/>
<polygon points="179.30,73.40 189.44,73.06 197.61,70.30 205.79,68.16 212.00,66.50 210.00,75.00 208.60,84.00 207.80,107.60 179.30,107.60" fill="#0A0EF6"/>
<g clip-path="url(#cp2)">
<rect x="198.9" y="69.1" width="1" height="1" fill="#2246FF" opacity="0.8"/>
<rect x="205.3" y="68.4" width="1" height="1" fill="#2246FF" opacity="0.8"/>
<rect x="189.0" y="70.2" width="1" height="1" fill="#2246FF" opacity="0.8"/>
<rect x="207.7" y="70.9" width="1" height="1" fill="#2246FF" opacity="0.8"/>
<rect x="187.5" y="81.7" width="1" height="1" fill="#2246FF" opacity="0.8"/>
<rect x="206.2" y="104.2" width="1" height="1" fill="#2246FF" opacity="0.8"/>
<rect x="185.3" y="94.4" width="1" height="1" fill="#2246FF" opacity="0.8"/>
<rect x="194.1" y="83.0" width="1" height="1" fill="#2246FF" opacity="0.8"/>
<rect x="203.3" y="86.2" width="1" height="1" fill="#2246FF" opacity="0.8"/>
<rect x="193.8" y="87.8" width="1" height="1" fill="#2246FF" opacity="0.8"/>
<rect x="204.9" y="97.4" width="1" height="1" fill="#2246FF" opacity="0.8"/>
<rect x="189.0" y="64.8" width="1" height="1" fill="#2246FF" opacity="0.8"/>
<rect x="204.0" y="92.2" width="1" height="1" fill="#2246FF" opacity="0.8"/>
<rect x="190.6" y="98.7" width="1" height="1" fill="#2246FF" opacity="0.8"/>
<rect x="199.8" y="83.7" width="1" height="1" fill="#2246FF" opacity="0.8"/>
<rect x="197.0" y="84.1" width="1" height="1" fill="#2246FF" opacity="0.8"/>
<rect x="202.4" y="70.6" width="1" height="1" fill="#2246FF" opacity="0.8"/>
<rect x="200.4" y="81.2" width="1" height="1" fill="#2246FF" opacity="0.8"/>
<rect x="182.0" y="85.2" width="1" height="1" fill="#2246FF" opacity="0.8"/>
<rect x="198.3" y="79.3" width="1" height="1" fill="#2246FF" opacity="0.8"/>
<rect x="191.6" y="66.1" width="1" height="1" fill="#2246FF" opacity="0.8"/>
<rect x="207.0" y="98.7" width="1" height="1" fill="#2246FF" opacity="0.8"/>
<rect x="186.9" y="74.7" width="1" height="1" fill="#2246FF" opacity="0.8"/>
<rect x="185.7" y="103.2" width="1" height="1" fill="#2246FF" opacity="0.8"/>
<rect x="181.3" y="71.9" width="1" height="1" fill="#2246FF" opacity="0.8"/>
<rect x="191.7" y="87.0" width="1" height="1" fill="#2246FF" opacity="0.8"/>
<rect x="190.9" y="69.3" width="1" height="1" fill="#2246FF" opacity="0.8"/>
<rect x="184.9" y="90.9" width="1" height="1" fill="#2246FF" opacity="0.8"/>
<rect x="199.7" y="85.7" width="1" height="1" fill="#2246FF" opacity="0.8"/>
<rect x="183.8" y="106.9" width="1" height="1" fill="#2246FF" opacity="0.8"/>
<rect x="189.9" y="71.1" width="1" height="1" fill="#2246FF" opacity="0.8"/>
<rect x="194.0" y="85.3" width="1" height="1" fill="#2246FF" opacity="0.8"/>
<rect x="192.7" y="105.9" width="1" height="1" fill="#2246FF" opacity="0.8"/>
<rect x="190.0" y="77.2" width="1" height="1" fill="#2246FF" opacity="0.8"/>
<rect x="186.7" y="70.9" width="1" height="1" fill="#2246FF" opacity="0.8"/>
<rect x="208.9" y="101.2" width="1" height="1" fill="#2246FF" opacity="0.8"/>
<rect x="201.4" y="79.0" width="1" height="1" fill="#2246FF" opacity="0.8"/>
<rect x="184.2" y="72.4" width="1" height="1" fill="#2246FF" opacity="0.8"/>
<rect x="184.4" y="107.0" width="1" height="1" fill="#2246FF" opacity="0.8"/>
<rect x="190.4" y="78.2" width="1" height="1" fill="#2246FF" opacity="0.8"/>
<rect x="182.6" y="98.1" width="1" height="1" fill="#2246FF" opacity="0.8"/>
<rect x="203.5" y="90.4" width="1" height="1" fill="#2246FF" opacity="0.8"/>
<rect x="204.2" y="106.4" width="1" height="1" fill="#2246FF" opacity="0.8"/>
<rect x="182.6" y="79.6" width="1" height="1" fill="#2246FF" opacity="0.8"/>
<rect x="184.5" y="102.4" width="1" height="1" fill="#2246FF" opacity="0.8"/>
<rect x="199.3" y="76.5" width="1" height="1" fill="#2246FF" opacity="0.8"/>
<rect x="196.1" y="75.5" width="1" height="1" fill="#2246FF" opacity="0.8"/>
<rect x="181.6" y="65.4" width="1" height="1" fill="#2246FF" opacity="0.8"/>
<rect x="203.1" y="104.8" width="1" height="1" fill="#2246FF" opacity="0.8"/>
<rect x="183.9" y="81.0" width="1" height="1" fill="#2246FF" opacity="0.8"/>
<rect x="204.0" y="87.6" width="1" height="1" fill="#2246FF" opacity="0.8"/>
<rect x="183.2" y="68.0" width="1" height="1" fill="#2246FF" opacity="0.8"/>
<rect x="203.3" y="71.2" width="1" height="1" fill="#2246FF" opacity="0.8"/>
<rect x="201.8" y="94.4" width="1" height="1" fill="#2246FF" opacity="0.8"/>
<rect x="197.0" y="91.7" width="1" height="1" fill="#2246FF" opacity="0.8"/>
<rect x="188.5" y="82.6" width="1" height="1" fill="#2246FF" opacity="0.8"/>
<rect x="202.7" y="92.2" width="1" height="1" fill="#2246FF" opacity="0.8"/>
<rect x="195.6" y="84.9" width="1" height="1" fill="#2246FF" opacity="0.8"/>
<rect x="199.9" y="79.1" width="1" height="1" fill="#2246FF" opacity="0.8"/>
<rect x="185.8" y="91.7" width="1" height="1" fill="#2246FF" opacity="0.8"/>
<rect x="187.4" y="95.4" width="1" height="1" fill="#2246FF" opacity="0.8"/>
<rect x="205.9" y="67.4" width="1" height="1" fill="#2246FF" opacity="0.8"/>
<rect x="195.8" y="88.9" width="1" height="1" fill="#2246FF" opacity="0.8"/>
<rect x="207.1" y="96.1" width="1" height="1" fill="#2246FF" opacity="0.8"/>
<rect x="188.4" y="64.3" width="1" height="1" fill="#2246FF" opacity="0.8"/>
<rect x="207.3" y="105.5" width="1" height="1" fill="#2246FF" opacity="0.8"/>
<rect x="185.2" y="80.0" width="1" height="1" fill="#2246FF" opacity="0.8"/>
<rect x="189.9" y="70.3" width="1" height="1" fill="#2246FF" opacity="0.8"/>
<rect x="207.8" y="92.8" width="1" height="1" fill="#2246FF" opacity="0.8"/>
<rect x="183.5" y="82.0" width="1" height="1" fill="#2246FF" opacity="0.8"/>
<rect x="183.6" y="103.0" width="1" height="1" fill="#2246FF" opacity="0.8"/>
<rect x="208.5" y="106.1" width="1" height="1" fill="#2246FF" opacity="0.8"/>
<rect x="206.9" y="87.5" width="1" height="1" fill="#2246FF" opacity="0.8"/>
<rect x="192.4" y="93.4" width="1" height="1" fill="#2246FF" opacity="0.8"/>
<rect x="181.9" y="94.1" width="1" height="1" fill="#2246FF" opacity="0.8"/>
<rect x="197.7" y="104.0" width="1" height="1" fill="#2246FF" opacity="0.8"/>
<rect x="205.7" y="68.6" width="1" height="1" fill="#2246FF" opacity="0.8"/>
<rect x="183.5" y="72.5" width="1" height="1" fill="#2246FF" opacity="0.8"/>
<rect x="200.1" y="65.5" width="1" height="1" fill="#2246FF" opacity="0.8"/>
<rect x="207.5" y="102.8" width="1" height="1" fill="#2246FF" opacity="0.8"/>
<rect x="182.0" y="102.9" width="1" height="1" fill="#2246FF" opacity="0.8"/>
<rect x="187.0" y="73.6" width="1" height="1" fill="#2246FF" opacity="0.8"/>
<rect x="187.5" y="70.7" width="1" height="1" fill="#2246FF" opacity="0.8"/>
<rect x="195.5" y="101.7" width="1" height="1" fill="#2246FF" opacity="0.8"/>
<rect x="183.9" y="82.6" width="1" height="1" fill="#2246FF" opacity="0.8"/>
<rect x="203.1" y="90.4" width="1" height="1" fill="#2246FF" opacity="0.8"/>
<rect x="203.2" y="107.1" width="1" height="1" fill="#2246FF" opacity="0.8"/>
<rect x="196.4" y="102.8" width="1" height="1" fill="#2246FF" opacity="0.8"/>
<rect x="188.8" y="71.5" width="1" height="1" fill="#2246FF" opacity="0.8"/>
<rect x="202.4" y="71.0" width="1" height="1" fill="#2246FF" opacity="0.8"/>
<rect x="206.7" y="68.9" width="1" height="1" fill="#2246FF" opacity="0.8"/>
<rect x="188.2" y="77.1" width="1" height="1" fill="#2246FF" opacity="0.8"/>
<rect x="208.9" y="82.0" width="1" height="1" fill="#2246FF" opacity="0.8"/>
<rect x="183.8" y="72.2" width="1" height="1" fill="#2246FF" opacity="0.8"/>
<rect x="197.4" y="100.6" width="1" height="1" fill="#2246FF" opacity="0.8"/>
<rect x="202.3" y="93.0" width="1" height="1" fill="#2246FF" opacity="0.8"/>
<rect x="181.8" y="80.2" width="1" height="1" fill="#2246FF" opacity="0.8"/>
<rect x="208.0" y="73.5" width="1" height="1" fill="#2246FF" opacity="0.8"/>
<rect x="191.2" y="74.2" width="1" height="1" fill="#2246FF" opacity="0.8"/>
<rect x="189.8" y="73.6" width="1" height="1" fill="#2246FF" opacity="0.8"/>
<rect x="191.1" y="102.8" width="1" height="1" fill="#2246FF" opacity="0.8"/>
<rect x="186.6" y="66.3" width="1" height="1" fill="#2246FF" opacity="0.8"/>
<rect x="190.4" y="95.3" width="1" height="1" fill="#2246FF" opacity="0.8"/>
<rect x="194.9" y="79.3" width="1" height="1" fill="#2246FF" opacity="0.8"/>
<rect x="198.8" y="104.2" width="1" height="1" fill="#2246FF" opacity="0.8"/>
<rect x="191.7" y="72.8" width="1" height="1" fill="#2246FF" opacity="0.8"/>
<rect x="185.6" y="83.6" width="1" height="1" fill="#2246FF" opacity="0.8"/>
<rect x="185.9" y="103.7" width="1" height="1" fill="#2246FF" opacity="0.8"/>
<rect x="184.8" y="93.4" width="1" height="1" fill="#2246FF" opacity="0.8"/>
<rect x="197.6" y="89.8" width="1" height="1" fill="#2246FF" opacity="0.8"/>
<ellipse cx="200.40" cy="84.00" rx="13" ry="20.5" fill="url(#fg)" transform="rotate(22 200.40 84.00)"/>
<rect x="190.9" y="77.6" width="1" height="1" fill="#0CC6EE" opacity="0.5"/>
<rect x="204.0" y="95.0" width="1" height="1" fill="#1A3CF8" opacity="0.5"/>
<rect x="189.0" y="83.1" width="1" height="1" fill="#0A6CF6" opacity="0.5"/>
<rect x="195.0" y="70.0" width="1" height="1" fill="#0A9CF4" opacity="0.5"/>
<rect x="209.7" y="92.3" width="1" height="1" fill="#0A9CF4" opacity="0.5"/>
<rect x="200.7" y="95.9" width="1" height="1" fill="#20D8C0" opacity="0.5"/>
<rect x="192.5" y="80.0" width="1" height="1" fill="#0A0EF6" opacity="0.5"/>
<rect x="192.8" y="97.0" width="1" height="1" fill="#20D8C0" opacity="0.5"/>
<rect x="210.3" y="84.0" width="1" height="1" fill="#0A0EF6" opacity="0.5"/>
<rect x="202.3" y="71.5" width="1" height="1" fill="#0A6CF6" opacity="0.5"/>
<rect x="193.7" y="92.5" width="1" height="1" fill="#0A9CF4" opacity="0.5"/>
<rect x="208.0" y="80.2" width="1" height="1" fill="#0CC6EE" opacity="0.5"/>
<rect x="207.9" y="87.4" width="1" height="1" fill="#0CC6EE" opacity="0.5"/>
<rect x="192.8" y="89.3" width="1" height="1" fill="#0CC6EE" opacity="0.5"/>
<rect x="203.7" y="99.7" width="1" height="1" fill="#0A6CF6" opacity="0.5"/>
<rect x="209.0" y="78.7" width="1" height="1" fill="#0A6CF6" opacity="0.5"/>
<rect x="207.5" y="95.9" width="1" height="1" fill="#0CC6EE" opacity="0.5"/>
<rect x="203.4" y="94.7" width="1" height="1" fill="#0A0EF6" opacity="0.5"/>
<rect x="201.4" y="100.1" width="1" height="1" fill="#0A0EF6" opacity="0.5"/>
<rect x="191.2" y="87.7" width="1" height="1" fill="#0CC6EE" opacity="0.5"/>
<rect x="208.0" y="78.7" width="1" height="1" fill="#0CC6EE" opacity="0.5"/>
<rect x="211.7" y="82.4" width="1" height="1" fill="#0A0EF6" opacity="0.5"/>
<rect x="209.3" y="87.8" width="1" height="1" fill="#0A6CF6" opacity="0.5"/>
<rect x="192.4" y="77.9" width="1" height="1" fill="#0A9CF4" opacity="0.5"/>
<rect x="190.1" y="80.4" width="1" height="1" fill="#0A9CF4" opacity="0.5"/>
<rect x="199.8" y="95.1" width="1" height="1" fill="#0A0EF6" opacity="0.5"/>
<rect x="201.8" y="94.9" width="1" height="1" fill="#1A3CF8" opacity="0.5"/>
<rect x="212.7" y="81.4" width="1" height="1" fill="#0A0EF6" opacity="0.5"/>
<rect x="191.8" y="83.7" width="1" height="1" fill="#1A3CF8" opacity="0.5"/>
<rect x="195.0" y="75.5" width="1" height="1" fill="#20D8C0" opacity="0.5"/>
<rect x="203.7" y="67.6" width="1" height="1" fill="#20D8C0" opacity="0.5"/>
<rect x="192.9" y="97.8" width="1" height="1" fill="#20D8C0" opacity="0.5"/>
<rect x="191.9" y="86.6" width="1" height="1" fill="#20D8C0" opacity="0.5"/>
<rect x="208.2" y="82.5" width="1" height="1" fill="#0A9CF4" opacity="0.5"/>
<rect x="193.9" y="90.3" width="1" height="1" fill="#0A6CF6" opacity="0.5"/>
<rect x="209.8" y="87.7" width="1" height="1" fill="#0A6CF6" opacity="0.5"/>
<rect x="208.1" y="81.4" width="1" height="1" fill="#20D8C0" opacity="0.5"/>
<rect x="203.5" y="70.8" width="1" height="1" fill="#0A0EF6" opacity="0.5"/>
<rect x="207.7" y="88.1" width="1" height="1" fill="#1A3CF8" opacity="0.5"/>
<rect x="209.7" y="85.2" width="1" height="1" fill="#0CC6EE" opacity="0.5"/>
<rect x="194.2" y="97.8" width="1" height="1" fill="#0A9CF4" opacity="0.5"/>
<rect x="193.5" y="94.0" width="1" height="1" fill="#0A9CF4" opacity="0.5"/>
<rect x="200.0" y="72.4" width="1" height="1" fill="#0A6CF6" opacity="0.5"/>
<rect x="208.4" y="74.4" width="1" height="1" fill="#20D8C0" opacity="0.5"/>
<rect x="190.7" y="90.2" width="1" height="1" fill="#1A3CF8" opacity="0.5"/>
<rect x="194.3" y="98.4" width="1" height="1" fill="#0A6CF6" opacity="0.5"/>
<rect x="195.6" y="70.9" width="1" height="1" fill="#0A0EF6" opacity="0.5"/>
<rect x="205.8" y="95.8" width="1" height="1" fill="#1A3CF8" opacity="0.5"/>
<rect x="201.6" y="67.4" width="1" height="1" fill="#1A3CF8" opacity="0.5"/>
<rect x="201.4" y="98.3" width="1" height="1" fill="#0A6CF6" opacity="0.5"/>
<rect x="185.9" y="99.6" width="1.1" height="1.1" fill="#C8D0FF" opacity="0.85"/>
<rect x="185.4" y="102.5" width="1.1" height="1.1" fill="#C8D0FF" opacity="0.85"/>
<rect x="180.3" y="101.0" width="1.1" height="1.1" fill="#C8D0FF" opacity="0.85"/>
<rect x="181.2" y="103.7" width="1.1" height="1.1" fill="#C8D0FF" opacity="0.85"/>
<rect x="186.7" y="102.7" width="1.1" height="1.1" fill="#C8D0FF" opacity="0.85"/>
<rect x="185.8" y="102.8" width="1.1" height="1.1" fill="#C8D0FF" opacity="0.85"/>
<rect x="183.5" y="101.2" width="1.1" height="1.1" fill="#C8D0FF" opacity="0.85"/>
<rect x="187.1" y="101.9" width="1.1" height="1.1" fill="#C8D0FF" opacity="0.85"/>
<rect x="180.8" y="99.4" width="1.1" height="1.1" fill="#C8D0FF" opacity="0.85"/>
<rect x="185.4" y="96.8" width="1.1" height="1.1" fill="#C8D0FF" opacity="0.85"/>
<rect x="181.4" y="96.5" width="1.1" height="1.1" fill="#C8D0FF" opacity="0.85"/>
<rect x="184.6" y="96.7" width="1.1" height="1.1" fill="#C8D0FF" opacity="0.85"/>
<rect x="182.5" y="96.7" width="1.1" height="1.1" fill="#C8D0FF" opacity="0.85"/>
<rect x="185.0" y="100.2" width="1.1" height="1.1" fill="#C8D0FF" opacity="0.85"/>
<rect x="180.0" y="74.0" width="1" height="1" fill="#ffffff" opacity="0.75"/>
<rect x="189.7" y="73.7" width="1" height="1" fill="#ffffff" opacity="0.75"/>
<rect x="185.1" y="73.6" width="1" height="1" fill="#ffffff" opacity="0.75"/>
<rect x="180.5" y="76.0" width="1" height="1" fill="#ffffff" opacity="0.75"/>
<rect x="181.8" y="74.3" width="1" height="1" fill="#ffffff" opacity="0.75"/>
<rect x="190.2" y="74.9" width="1" height="1" fill="#ffffff" opacity="0.75"/>
<rect x="194.4" y="75.3" width="1" height="1" fill="#ffffff" opacity="0.75"/>
<rect x="190.6" y="74.7" width="1" height="1" fill="#ffffff" opacity="0.75"/>
<rect x="184.2" y="75.4" width="1" height="1" fill="#ffffff" opacity="0.75"/>
<rect x="181.4" y="74.1" width="1" height="1" fill="#ffffff" opacity="0.75"/>
</g>
<rect x="203.6" y="68.7" width="1" height="1" fill="#1010F0"/>
<rect x="208.5" y="68.3" width="1" height="1" fill="#1010F0"/>
<rect x="203.0" y="70.5" width="1" height="1" fill="#1010F0"/>
<rect x="210.1" y="66.3" width="1" height="1" fill="#1010F0"/>
<rect x="200.0" y="69.1" width="1" height="1" fill="#1010F0"/>
<rect x="209.0" y="68.7" width="1" height="1" fill="#1010F0"/>
<rect x="185.1" y="73.2" width="1" height="1" fill="#1010F0"/>
<rect x="192.9" y="72.1" width="1" height="1" fill="#1010F0"/>
<rect x="205.5" y="68.3" width="1" height="1" fill="#1010F0"/>
<rect x="199.8" y="69.5" width="1" height="1" fill="#1010F0"/>
<rect x="194.0" y="70.9" width="1" height="1" fill="#1010F0"/>
<rect x="203.9" y="69.3" width="1" height="1" fill="#1010F0"/>
<rect x="195.4" y="71.6" width="1" height="1" fill="#1010F0"/>
<rect x="202.9" y="70.8" width="1" height="1" fill="#1010F0"/>
<rect x="195.7" y="71.6" width="1" height="1" fill="#1010F0"/>
<rect x="199.8" y="70.2" width="1" height="1" fill="#1010F0"/>
<rect x="193.7" y="70.3" width="1" height="1" fill="#1010F0"/>
<rect x="181.1" y="73.2" width="1" height="1" fill="#1010F0"/>
<rect x="182.9" y="73.1" width="1" height="1" fill="#1010F0"/>
<rect x="180.1" y="72.2" width="1" height="1" fill="#1010F0"/>
<rect x="189.5" y="72.7" width="1" height="1" fill="#1010F0"/>
<rect x="184.5" y="73.8" width="1" height="1" fill="#1010F0"/>
<rect x="182.0" y="74.5" width="1" height="1" fill="#1010F0"/>
<rect x="180.4" y="73.4" width="1" height="1" fill="#1010F0"/>
<rect x="188.8" y="73.9" width="1" height="1" fill="#1010F0"/>
<rect x="193.9" y="71.0" width="1" height="1" fill="#1010F0"/>
<rect x="211.6" y="66.4" width="1" height="1" fill="#1010F0"/>
<rect x="207.3" y="67.1" width="1" height="1" fill="#1010F0"/>
<rect x="208.3" y="67.7" width="1" height="1" fill="#1010F0"/>
<rect x="182.2" y="72.4" width="1" height="1" fill="#1010F0"/>
<rect x="192.4" y="70.7" width="1" height="1" fill="#1010F0"/>
<rect x="209.6" y="65.0" width="1" height="1" fill="#1010F0"/>
<rect x="198.6" y="69.9" width="1" height="1" fill="#1010F0"/>
<rect x="183.6" y="74.4" width="1" height="1" fill="#1010F0"/>
<rect x="200.7" y="70.8" width="1" height="1" fill="#1010F0"/>
<rect x="204.5" y="66.5" width="1" height="1" fill="#1010F0"/>
<rect x="188.2" y="73.2" width="1" height="1" fill="#1010F0"/>
<rect x="181.8" y="75.6" width="1" height="1" fill="#1010F0"/>
<rect x="210.8" y="67.2" width="1" height="1" fill="#1010F0"/>
<rect x="208.9" y="67.3" width="1" height="1" fill="#1010F0"/>
<rect x="194.0" y="69.9" width="1" height="1" fill="#1010F0"/>
<rect x="211.9" y="65.0" width="1" height="1" fill="#1010F0"/>
<rect x="187.2" y="73.4" width="1" height="1" fill="#1010F0"/>
<rect x="207.7" y="67.4" width="1" height="1" fill="#1010F0"/>
<rect x="198.5" y="70.3" width="1" height="1" fill="#1010F0"/>
<rect x="193.2" y="70.9" width="1" height="1" fill="#1010F0"/>
<rect x="203.0" y="68.4" width="1" height="1" fill="#1010F0"/>
<rect x="186.1" y="73.0" width="1" height="1" fill="#1010F0"/>
<rect x="207.6" y="68.7" width="1" height="1" fill="#1010F0"/>
<rect x="190.7" y="74.4" width="1" height="1" fill="#1010F0"/>
<rect x="202.5" y="67.6" width="1" height="1" fill="#1010F0"/>
<rect x="207.9" y="67.7" width="1" height="1" fill="#1010F0"/>
<rect x="182.7" y="73.2" width="1" height="1" fill="#1010F0"/>
<rect x="201.5" y="69.7" width="1" height="1" fill="#1010F0"/>
<rect x="186.6" y="75.0" width="1" height="1" fill="#1010F0"/>
<rect x="200.1" y="71.0" width="1" height="1" fill="#1010F0"/>
<rect x="199.6" y="68.5" width="1" height="1" fill="#1010F0"/>
<rect x="201.5" y="67.7" width="1" height="1" fill="#1010F0"/>
<rect x="209.6" y="67.4" width="1" height="1" fill="#1010F0"/>
<rect x="187.6" y="73.3" width="1" height="1" fill="#1010F0"/>
<rect x="209.3" y="90.9" width="1" height="1" fill="#1010F0"/>
<rect x="209.7" y="75.1" width="1" height="1" fill="#1010F0"/>
<rect x="209.5" y="78.6" width="1" height="1" fill="#1010F0"/>
<rect x="208.4" y="90.5" width="1" height="1" fill="#1010F0"/>
<rect x="208.9" y="96.3" width="1" height="1" fill="#1010F0"/>
<rect x="208.1" y="101.0" width="1" height="1" fill="#1010F0"/>
<rect x="209.3" y="80.5" width="1" height="1" fill="#1010F0"/>
<rect x="208.8" y="81.9" width="1" height="1" fill="#1010F0"/>
<rect x="208.5" y="102.0" width="1" height="1" fill="#1010F0"/>
<rect x="210.5" y="97.1" width="1" height="1" fill="#1010F0"/>
<rect x="208.7" y="84.1" width="1" height="1" fill="#1010F0"/>
<rect x="209.7" y="75.2" width="1" height="1" fill="#1010F0"/>
<rect x="210.8" y="93.2" width="1" height="1" fill="#1010F0"/>
<rect x="209.1" y="95.7" width="1" height="1" fill="#1010F0"/>
<rect x="209.7" y="80.3" width="1" height="1" fill="#1010F0"/>
<rect x="210.4" y="76.9" width="1" height="1" fill="#1010F0"/>
<rect x="208.5" y="94.4" width="1" height="1" fill="#1010F0"/>
<rect x="211.8" y="67.5" width="1" height="1" fill="#1010F0"/>
<rect x="209.6" y="97.4" width="1" height="1" fill="#1010F0"/>
<rect x="209.2" y="87.3" width="1" height="1" fill="#1010F0"/>
<rect x="211.5" y="67.4" width="1" height="1" fill="#1010F0"/>
<rect x="208.6" y="105.7" width="1" height="1" fill="#1010F0"/>
<rect x="210.7" y="79.8" width="1" height="1" fill="#1010F0"/>
<rect x="209.1" y="86.7" width="1" height="1" fill="#1010F0"/>
<rect x="210.6" y="86.4" width="1" height="1" fill="#1010F0"/>
<rect x="209.6" y="94.2" width="1" height="1" fill="#1010F0"/>
<rect x="211.9" y="70.5" width="1" height="1" fill="#1010F0"/>
<rect x="208.5" y="89.3" width="1" height="1" fill="#1010F0"/>
<rect x="209.2" y="84.4" width="1" height="1" fill="#1010F0"/>
<rect x="208.4" y="84.1" width="1" height="1" fill="#1010F0"/>
<rect x="212.6" y="68.6" width="1" height="1" fill="#1010F0"/>
<rect x="210.2" y="73.3" width="1" height="1" fill="#1010F0"/>
<rect x="209.1" y="81.3" width="1" height="1" fill="#1010F0"/>
<rect x="212.0" y="72.4" width="1" height="1" fill="#1010F0"/>
<rect x="209.5" y="90.1" width="1" height="1" fill="#1010F0"/>
<rect x="208.6" y="82.7" width="1" height="1" fill="#1010F0"/>
<rect x="208.8" y="82.9" width="1" height="1" fill="#1010F0"/>
<rect x="209.2" y="100.7" width="1" height="1" fill="#1010F0"/>
<rect x="208.1" y="91.5" width="1" height="1" fill="#1010F0"/>
<rect x="207.9" y="103.9" width="1" height="1" fill="#1010F0"/>
<rect x="208.7" y="92.6" width="1" height="1" fill="#1010F0"/>
<rect x="211.6" y="67.3" width="1" height="1" fill="#1010F0"/>
<rect x="212.6" y="68.8" width="1" height="1" fill="#1010F0"/>
<rect x="210.0" y="78.3" width="1" height="1" fill="#1010F0"/>
<rect x="209.7" y="79.9" width="1" height="1" fill="#1010F0"/>
<rect x="209.7" y="79.5" width="1" height="1" fill="#1010F0"/>
<rect x="209.5" y="99.8" width="1" height="1" fill="#1010F0"/>
<rect x="209.1" y="95.2" width="1" height="1" fill="#1010F0"/>
<rect x="213.1" y="67.6" width="1" height="1" fill="#1010F0"/>
<rect x="210.2" y="77.9" width="1" height="1" fill="#1010F0"/>
<rect x="209.1" y="87.1" width="1" height="1" fill="#1010F0"/>
<rect x="209.1" y="91.1" width="1" height="1" fill="#1010F0"/>
<rect x="210.5" y="79.5" width="1" height="1" fill="#1010F0"/>
<rect x="209.8" y="98.8" width="1" height="1" fill="#1010F0"/>
<rect x="208.0" y="102.9" width="1" height="1" fill="#1010F0"/>
<rect x="208.7" y="90.7" width="1" height="1" fill="#1010F0"/>
<rect x="209.3" y="97.8" width="1" height="1" fill="#1010F0"/>
<rect x="209.1" y="80.6" width="1" height="1" fill="#1010F0"/>
<rect x="208.7" y="98.1" width="1" height="1" fill="#1010F0"/>
<rect x="210.2" y="86.0" width="1" height="1" fill="#1010F0"/>
<rect x="179.8" y="106.0" width="28.5" height="1.2" fill="#1A30F0"/>
<rect x="179.8" y="106.19999999999999" width="9" height="1" fill="#50C040"/>
<rect x="193.3" y="106.19999999999999" width="9" height="1" fill="#D04040" opacity="0.8"/>
<rect x="179.5" y="73.4" width="1" height="34.2" fill="#7CB070" opacity="0.7"/>
<rect x="217.3" y="68.2" width="27.899999999999977" height="16.599999999999994" fill="none" stroke="#787878" stroke-width="1"/>
<rect x="233.9" y="76.0" width="1.1" height="1.1" fill="#1414F0"/>
<rect x="228.0" y="71.1" width="1.1" height="1.1" fill="#1414F0"/>
<rect x="230.7" y="71.1" width="1.1" height="1.1" fill="#1414F0"/>
<rect x="227.9" y="70.0" width="1.1" height="1.1" fill="#1414F0"/>
<rect x="233.3" y="75.3" width="1.1" height="1.1" fill="#1414F0"/>
<rect x="226.7" y="72.8" width="1.1" height="1.1" fill="#1414F0"/>
<rect x="227.2" y="75.1" width="1.1" height="1.1" fill="#1414F0"/>
<rect x="226.9" y="77.7" width="1.1" height="1.1" fill="#1414F0"/>
<rect x="225.3" y="77.5" width="1.1" height="1.1" fill="#1414F0"/>
<rect x="228.0" y="73.1" width="1.1" height="1.1" fill="#1414F0"/>
<rect x="232.4" y="75.4" width="1.1" height="1.1" fill="#1414F0"/>
<rect x="230.4" y="74.3" width="1.1" height="1.1" fill="#1414F0"/>
<rect x="231.2" y="73.4" width="1.1" height="1.1" fill="#1414F0"/>
<rect x="233.0" y="75.2" width="1.1" height="1.1" fill="#1414F0"/>
<rect x="237.4" y="75.1" width="1.1" height="1.1" fill="#1414F0"/>
<rect x="230.6" y="75.4" width="1.1" height="1.1" fill="#1414F0"/>
<rect x="228.8" y="76.8" width="1.1" height="1.1" fill="#1414F0"/>
<rect x="231.6" y="76.3" width="1.1" height="1.1" fill="#1414F0"/>
<rect x="231.5" y="75.9" width="1.1" height="1.1" fill="#1414F0"/>
<rect x="230.0" y="73.7" width="1.1" height="1.1" fill="#1414F0"/>
<rect x="225.1" y="73.7" width="1.1" height="1.1" fill="#1414F0"/>
<rect x="234.4" y="72.0" width="1.1" height="1.1" fill="#1414F0"/>
<rect x="226.5" y="76.3" width="1.1" height="1.1" fill="#1414F0"/>
<rect x="231.0" y="79.2" width="1.1" height="1.1" fill="#1414F0"/>
<rect x="229.3" y="76.4" width="1.1" height="1.1" fill="#1414F0"/>
<rect x="227.2" y="76.0" width="1.1" height="1.1" fill="#1414F0"/>
<rect x="236.0" y="74.9" width="1.1" height="1.1" fill="#1414F0"/>
<rect x="232.1" y="73.4" width="1.1" height="1.1" fill="#1414F0"/>
<rect x="230.0" y="77.2" width="1.1" height="1.1" fill="#1414F0"/>
<rect x="230.3" y="74.5" width="1.1" height="1.1" fill="#1414F0"/>
<rect x="227.4" y="75.8" width="1.1" height="1.1" fill="#1414F0"/>
<rect x="226.4" y="78.9" width="1.1" height="1.1" fill="#1414F0"/>
<rect x="227.8" y="74.1" width="1.1" height="1.1" fill="#1414F0"/>
<rect x="226.0" y="79.0" width="1.1" height="1.1" fill="#1414F0"/>
<rect x="233.7" y="76.5" width="1.1" height="1.1" fill="#1414F0"/>
<rect x="231.4" y="78.0" width="1.1" height="1.1" fill="#1414F0"/>
<rect x="227.5" y="71.1" width="1.1" height="1.1" fill="#1414F0"/>
<rect x="231.3" y="76.0" width="1.1" height="1.1" fill="#1414F0"/>
<rect x="228.2" y="74.6" width="1.1" height="1.1" fill="#1414F0"/>
<rect x="227.5" y="76.3" width="1.1" height="1.1" fill="#1414F0"/>
<rect x="233.1" y="75.5" width="1.1" height="1.1" fill="#1414F0"/>
<rect x="226.3" y="79.5" width="1.1" height="1.1" fill="#1414F0"/>
<rect x="229.4" y="74.8" width="1.1" height="1.1" fill="#1414F0"/>
<rect x="234.3" y="71.9" width="1.1" height="1.1" fill="#1414F0"/>
<rect x="229.7" y="71.3" width="1.1" height="1.1" fill="#1414F0"/>
<rect x="222.5" y="77.2" width="1.1" height="1.1" fill="#1414F0"/>
<rect x="233.9" y="73.1" width="1.1" height="1.1" fill="#1414F0"/>
<rect x="229.9" y="74.8" width="1.1" height="1.1" fill="#1414F0"/>
<rect x="230.5" y="74.2" width="1.1" height="1.1" fill="#1414F0"/>
<rect x="230.7" y="73.3" width="1.1" height="1.1" fill="#1414F0"/>
<rect x="224.0" y="75.0" width="1.1" height="1.1" fill="#1414F0"/>
<rect x="227.7" y="71.6" width="1.1" height="1.1" fill="#1414F0"/>
<rect x="237.3" y="74.7" width="1.1" height="1.1" fill="#1414F0"/>
<rect x="230.5" y="74.8" width="1.1" height="1.1" fill="#1414F0"/>
<rect x="229.6" y="69.9" width="1.1" height="1.1" fill="#1414F0"/>
<rect x="230.4" y="77.8" width="1" height="1" fill="#1414F0"/>
<rect x="225.7" y="79.8" width="1" height="1" fill="#1414F0"/>
<rect x="236.4" y="73.0" width="1" height="1" fill="#1414F0"/>
<rect x="233.4" y="75.1" width="1" height="1" fill="#1414F0"/>
<rect x="226.0" y="76.4" width="1" height="1" fill="#1414F0"/>
<rect x="231.2" y="71.9" width="1" height="1" fill="#1414F0"/>
<rect x="231.4" y="68.9" width="1" height="1" fill="#1414F0"/>
<rect x="235.8" y="72.2" width="1" height="1" fill="#1414F0"/>
<rect x="226.3" y="79.7" width="1" height="1" fill="#1414F0"/>
<rect x="232.6" y="74.2" width="1" height="1" fill="#1414F0"/>
<rect x="233.5" y="71.6" width="1" height="1" fill="#1414F0"/>
<rect x="228.8" y="77.1" width="1" height="1" fill="#1414F0"/>
<rect x="220.6" y="82.0" width="1" height="1" fill="#1414F0"/>
<rect x="225.5" y="81.6" width="1" height="1" fill="#1414F0"/>
<rect x="228.6" y="78.1" width="1" height="1" fill="#1414F0"/>
<rect x="233.1" y="77.3" width="1" height="1" fill="#1414F0"/>
<rect x="229.6" y="71.8" width="1" height="1" fill="#1414F0"/>
<rect x="227.9" y="79.6" width="1" height="1" fill="#1414F0"/>
<rect x="231.1" y="77.4" width="1" height="1" fill="#1414F0"/>
<rect x="221.5" y="83.8" width="1" height="1" fill="#1414F0"/>
<rect x="226.4" y="79.5" width="1" height="1" fill="#1414F0"/>
<rect x="230.0" y="75.0" width="1" height="1" fill="#1414F0"/>
<rect x="220.1" y="80.9" width="1" height="1" fill="#1414F0"/>
<rect x="228.7" y="76.7" width="1" height="1" fill="#1414F0"/>
<rect x="217.5" y="81.5" width="1" height="1" fill="#1414F0"/>
<rect x="222.3" y="82.6" width="1" height="1" fill="#1414F0"/>
<rect x="227.1" y="78.9" width="1" height="1" fill="#1414F0"/>
<rect x="227.9" y="77.8" width="1" height="1" fill="#1414F0"/>
<rect x="221.9" y="84.9" width="1" height="1" fill="#1414F0"/>
<rect x="234.9" y="75.5" width="1" height="1" fill="#1414F0"/>
<rect x="223.2" y="80.6" width="1" height="1" fill="#1414F0"/>
<rect x="229.7" y="79.0" width="1" height="1" fill="#1414F0"/>
<rect x="230.3" y="77.5" width="1" height="1" fill="#1414F0"/>
<rect x="227.4" y="78.3" width="1" height="1" fill="#1414F0"/>
<rect x="232.2" y="78.6" width="1" height="1" fill="#1414F0"/>
<rect x="231.7" y="75.0" width="1" height="1" fill="#1414F0"/>
<rect x="232.7" y="74.7" width="1" height="1" fill="#1414F0"/>
<rect x="226.3" y="79.6" width="1" height="1" fill="#1414F0"/>
<rect x="220.8" y="101.9" width="1" height="1" fill="#2020F0"/>
<rect x="215.8" y="96.6" width="1" height="1" fill="#2020F0"/>
<rect x="221.4" y="78.6" width="1" height="1" fill="#2020F0"/>
<rect x="214.0" y="92.1" width="1" height="1" fill="#2020F0"/>
<rect x="212.4" y="97.0" width="1" height="1" fill="#2020F0"/>
<rect x="221.8" y="101.5" width="1" height="1" fill="#2020F0"/>
<rect x="211.7" y="91.7" width="1" height="1" fill="#2020F0"/>
<rect x="213.7" y="78.9" width="1" height="1" fill="#2020F0"/>
<rect x="213.5" y="104.1" width="1" height="1" fill="#2020F0"/>
<rect x="211.6" y="94.6" width="1" height="1" fill="#2020F0"/>
<rect x="218.7" y="90.8" width="1" height="1" fill="#2020F0"/>
<rect x="221.5" y="80.5" width="1" height="1" fill="#2020F0"/>
<rect x="213.6" y="88.3" width="1" height="1" fill="#2020F0"/>
<rect x="211.9" y="83.1" width="1" height="1" fill="#2020F0"/>
<rect x="219.2" y="89.5" width="1" height="1" fill="#2020F0"/>
<rect x="219.1" y="89.0" width="1" height="1" fill="#2020F0"/>
<rect x="221.7" y="100.2" width="1" height="1" fill="#2020F0"/>
<rect x="213.9" y="76.6" width="1" height="1" fill="#2020F0"/>
<rect x="216.6" y="77.9" width="1" height="1" fill="#2020F0"/>
<rect x="217.7" y="77.5" width="1" height="1" fill="#2020F0"/>
<rect x="216.8" y="71.4" width="1" height="1" fill="#2020F0"/>
<rect x="220.4" y="91.8" width="1" height="1" fill="#2020F0"/>
<rect x="224.3" y="96.2" width="1" height="1" fill="#2020F0"/>
<rect x="219.1" y="103.3" width="1" height="1" fill="#2020F0"/>
<rect x="223.3" y="90.3" width="1" height="1" fill="#2020F0"/>
<rect x="229.7" y="101.6" width="1" height="1" fill="#2020F0"/>
<rect x="215.0" y="88.8" width="1" height="1" fill="#2020F0"/>
<rect x="225.9" y="96.7" width="1" height="1" fill="#2020F0"/>
<rect x="226.8" y="90.2" width="1" height="1" fill="#2020F0"/>
<rect x="223.0" y="96.7" width="1" height="1" fill="#2020F0"/>
<rect x="231.2" y="87.4" width="1" height="1" fill="#2020F0"/>
<rect x="230.1" y="97.1" width="1" height="1" fill="#2020F0"/>
<rect x="229.1" y="94.1" width="1" height="1" fill="#2020F0"/>
<rect x="226.0" y="85.7" width="1" height="1" fill="#2020F0"/>
<text x="0" y="0" transform="translate(247.8 57.0) scale(0.9539 1)" font-size="6.6" text-anchor="end" fill="#B8355A" stroke="#B8355A" stroke-width="0.15">0.77 %</text>
<rect x="254.2" y="46.2" width="74.6" height="61.39999999999999" fill="#fff" stroke="#c8c8c8" stroke-width="1"/>
<polygon points="254.20,74.60 264.93,74.05 273.58,69.61 282.23,66.16 288.80,63.50 286.80,72.00 284.20,82.50 283.50,107.60 254.20,107.60" fill="#0A0EF6"/>
<g clip-path="url(#cp3)">
<rect x="267.1" y="103.7" width="1" height="1" fill="#2246FF" opacity="0.8"/>
<rect x="278.2" y="71.9" width="1" height="1" fill="#2246FF" opacity="0.8"/>
<rect x="268.1" y="84.6" width="1" height="1" fill="#2246FF" opacity="0.8"/>
<rect x="274.4" y="75.7" width="1" height="1" fill="#2246FF" opacity="0.8"/>
<rect x="271.1" y="74.6" width="1" height="1" fill="#2246FF" opacity="0.8"/>
<rect x="275.9" y="97.8" width="1" height="1" fill="#2246FF" opacity="0.8"/>
<rect x="270.4" y="90.8" width="1" height="1" fill="#2246FF" opacity="0.8"/>
<rect x="281.6" y="92.4" width="1" height="1" fill="#2246FF" opacity="0.8"/>
<rect x="283.0" y="69.6" width="1" height="1" fill="#2246FF" opacity="0.8"/>
<rect x="272.2" y="93.7" width="1" height="1" fill="#2246FF" opacity="0.8"/>
<rect x="266.9" y="100.5" width="1" height="1" fill="#2246FF" opacity="0.8"/>
<rect x="270.6" y="72.6" width="1" height="1" fill="#2246FF" opacity="0.8"/>
<rect x="274.4" y="79.6" width="1" height="1" fill="#2246FF" opacity="0.8"/>
<rect x="273.6" y="80.1" width="1" height="1" fill="#2246FF" opacity="0.8"/>
<rect x="282.2" y="70.2" width="1" height="1" fill="#2246FF" opacity="0.8"/>
<rect x="274.5" y="75.2" width="1" height="1" fill="#2246FF" opacity="0.8"/>
<rect x="261.9" y="83.8" width="1" height="1" fill="#2246FF" opacity="0.8"/>
<rect x="279.3" y="104.7" width="1" height="1" fill="#2246FF" opacity="0.8"/>
<rect x="255.9" y="92.1" width="1" height="1" fill="#2246FF" opacity="0.8"/>
<rect x="268.5" y="68.5" width="1" height="1" fill="#2246FF" opacity="0.8"/>
<rect x="271.8" y="100.9" width="1" height="1" fill="#2246FF" opacity="0.8"/>
<rect x="259.0" y="79.2" width="1" height="1" fill="#2246FF" opacity="0.8"/>
<rect x="257.0" y="94.3" width="1" height="1" fill="#2246FF" opacity="0.8"/>
<rect x="280.0" y="103.7" width="1" height="1" fill="#2246FF" opacity="0.8"/>
<rect x="265.4" y="92.1" width="1" height="1" fill="#2246FF" opacity="0.8"/>
<rect x="265.3" y="82.5" width="1" height="1" fill="#2246FF" opacity="0.8"/>
<rect x="273.4" y="74.6" width="1" height="1" fill="#2246FF" opacity="0.8"/>
<rect x="255.8" y="87.4" width="1" height="1" fill="#2246FF" opacity="0.8"/>
<rect x="264.0" y="83.3" width="1" height="1" fill="#2246FF" opacity="0.8"/>
<rect x="262.8" y="82.4" width="1" height="1" fill="#2246FF" opacity="0.8"/>
<rect x="260.5" y="83.2" width="1" height="1" fill="#2246FF" opacity="0.8"/>
<rect x="279.8" y="84.9" width="1" height="1" fill="#2246FF" opacity="0.8"/>
<rect x="281.5" y="70.9" width="1" height="1" fill="#2246FF" opacity="0.8"/>
<rect x="262.2" y="87.4" width="1" height="1" fill="#2246FF" opacity="0.8"/>
<rect x="265.0" y="79.9" width="1" height="1" fill="#2246FF" opacity="0.8"/>
<rect x="257.1" y="105.4" width="1" height="1" fill="#2246FF" opacity="0.8"/>
<rect x="276.1" y="67.4" width="1" height="1" fill="#2246FF" opacity="0.8"/>
<rect x="272.5" y="82.3" width="1" height="1" fill="#2246FF" opacity="0.8"/>
<rect x="262.6" y="105.5" width="1" height="1" fill="#2246FF" opacity="0.8"/>
<rect x="274.8" y="104.2" width="1" height="1" fill="#2246FF" opacity="0.8"/>
<rect x="274.7" y="101.0" width="1" height="1" fill="#2246FF" opacity="0.8"/>
<rect x="256.6" y="69.3" width="1" height="1" fill="#2246FF" opacity="0.8"/>
<rect x="275.2" y="87.1" width="1" height="1" fill="#2246FF" opacity="0.8"/>
<rect x="283.1" y="105.2" width="1" height="1" fill="#2246FF" opacity="0.8"/>
<rect x="267.5" y="88.7" width="1" height="1" fill="#2246FF" opacity="0.8"/>
<rect x="257.1" y="74.1" width="1" height="1" fill="#2246FF" opacity="0.8"/>
<rect x="258.6" y="92.1" width="1" height="1" fill="#2246FF" opacity="0.8"/>
<rect x="263.5" y="80.7" width="1" height="1" fill="#2246FF" opacity="0.8"/>
<rect x="281.6" y="95.5" width="1" height="1" fill="#2246FF" opacity="0.8"/>
<rect x="254.3" y="71.5" width="1" height="1" fill="#2246FF" opacity="0.8"/>
<rect x="258.5" y="71.2" width="1" height="1" fill="#2246FF" opacity="0.8"/>
<rect x="257.6" y="101.9" width="1" height="1" fill="#2246FF" opacity="0.8"/>
<rect x="276.2" y="88.6" width="1" height="1" fill="#2246FF" opacity="0.8"/>
<rect x="258.8" y="78.5" width="1" height="1" fill="#2246FF" opacity="0.8"/>
<rect x="259.7" y="106.4" width="1" height="1" fill="#2246FF" opacity="0.8"/>
<rect x="262.6" y="66.3" width="1" height="1" fill="#2246FF" opacity="0.8"/>
<rect x="275.4" y="82.5" width="1" height="1" fill="#2246FF" opacity="0.8"/>
<rect x="256.5" y="88.0" width="1" height="1" fill="#2246FF" opacity="0.8"/>
<rect x="283.5" y="78.5" width="1" height="1" fill="#2246FF" opacity="0.8"/>
<rect x="266.2" y="103.8" width="1" height="1" fill="#2246FF" opacity="0.8"/>
<rect x="277.1" y="99.8" width="1" height="1" fill="#2246FF" opacity="0.8"/>
<rect x="281.5" y="71.9" width="1" height="1" fill="#2246FF" opacity="0.8"/>
<rect x="269.0" y="77.4" width="1" height="1" fill="#2246FF" opacity="0.8"/>
<rect x="266.7" y="97.5" width="1" height="1" fill="#2246FF" opacity="0.8"/>
<rect x="282.9" y="82.2" width="1" height="1" fill="#2246FF" opacity="0.8"/>
<rect x="258.9" y="83.9" width="1" height="1" fill="#2246FF" opacity="0.8"/>
<rect x="259.6" y="66.8" width="1" height="1" fill="#2246FF" opacity="0.8"/>
<rect x="266.7" y="104.2" width="1" height="1" fill="#2246FF" opacity="0.8"/>
<rect x="283.4" y="99.3" width="1" height="1" fill="#2246FF" opacity="0.8"/>
<rect x="261.4" y="100.5" width="1" height="1" fill="#2246FF" opacity="0.8"/>
<rect x="269.6" y="87.7" width="1" height="1" fill="#2246FF" opacity="0.8"/>
<rect x="262.7" y="71.6" width="1" height="1" fill="#2246FF" opacity="0.8"/>
<rect x="269.7" y="101.8" width="1" height="1" fill="#2246FF" opacity="0.8"/>
<rect x="272.0" y="75.5" width="1" height="1" fill="#2246FF" opacity="0.8"/>
<rect x="261.5" y="93.2" width="1" height="1" fill="#2246FF" opacity="0.8"/>
<rect x="280.3" y="104.5" width="1" height="1" fill="#2246FF" opacity="0.8"/>
<rect x="260.9" y="66.9" width="1" height="1" fill="#2246FF" opacity="0.8"/>
<rect x="269.5" y="74.1" width="1" height="1" fill="#2246FF" opacity="0.8"/>
<rect x="261.5" y="82.3" width="1" height="1" fill="#2246FF" opacity="0.8"/>
<rect x="279.6" y="85.1" width="1" height="1" fill="#2246FF" opacity="0.8"/>
<rect x="260.2" y="67.5" width="1" height="1" fill="#2246FF" opacity="0.8"/>
<rect x="261.0" y="90.3" width="1" height="1" fill="#2246FF" opacity="0.8"/>
<rect x="261.6" y="68.1" width="1" height="1" fill="#2246FF" opacity="0.8"/>
<rect x="269.4" y="86.5" width="1" height="1" fill="#2246FF" opacity="0.8"/>
<rect x="283.6" y="99.9" width="1" height="1" fill="#2246FF" opacity="0.8"/>
<rect x="278.0" y="97.8" width="1" height="1" fill="#2246FF" opacity="0.8"/>
<rect x="267.2" y="74.4" width="1" height="1" fill="#2246FF" opacity="0.8"/>
<rect x="283.6" y="103.4" width="1" height="1" fill="#2246FF" opacity="0.8"/>
<rect x="277.7" y="69.5" width="1" height="1" fill="#2246FF" opacity="0.8"/>
<rect x="261.7" y="84.2" width="1" height="1" fill="#2246FF" opacity="0.8"/>
<rect x="271.0" y="75.7" width="1" height="1" fill="#2246FF" opacity="0.8"/>
<rect x="274.9" y="70.8" width="1" height="1" fill="#2246FF" opacity="0.8"/>
<rect x="262.8" y="93.5" width="1" height="1" fill="#2246FF" opacity="0.8"/>
<rect x="255.5" y="80.7" width="1" height="1" fill="#2246FF" opacity="0.8"/>
<rect x="271.3" y="105.9" width="1" height="1" fill="#2246FF" opacity="0.8"/>
<rect x="259.4" y="103.4" width="1" height="1" fill="#2246FF" opacity="0.8"/>
<rect x="271.9" y="91.6" width="1" height="1" fill="#2246FF" opacity="0.8"/>
<rect x="275.2" y="106.4" width="1" height="1" fill="#2246FF" opacity="0.8"/>
<rect x="270.1" y="91.3" width="1" height="1" fill="#2246FF" opacity="0.8"/>
<rect x="270.2" y="97.6" width="1" height="1" fill="#2246FF" opacity="0.8"/>
<rect x="268.9" y="68.3" width="1" height="1" fill="#2246FF" opacity="0.8"/>
<rect x="256.2" y="94.3" width="1" height="1" fill="#2246FF" opacity="0.8"/>
<rect x="282.5" y="98.6" width="1" height="1" fill="#2246FF" opacity="0.8"/>
<rect x="282.2" y="98.9" width="1" height="1" fill="#2246FF" opacity="0.8"/>
<rect x="263.4" y="84.8" width="1" height="1" fill="#2246FF" opacity="0.8"/>
<rect x="260.5" y="88.7" width="1" height="1" fill="#2246FF" opacity="0.8"/>
<rect x="277.6" y="85.5" width="1" height="1" fill="#2246FF" opacity="0.8"/>
<rect x="254.6" y="82.2" width="1" height="1" fill="#2246FF" opacity="0.8"/>
<rect x="256.7" y="96.4" width="1" height="1" fill="#2246FF" opacity="0.8"/>
<rect x="270.8" y="74.6" width="1" height="1" fill="#2246FF" opacity="0.8"/>
<ellipse cx="275.00" cy="84.50" rx="13.5" ry="20.5" fill="url(#fg)" transform="rotate(22 275.00 84.50)"/>
<rect x="264.6" y="87.3" width="1" height="1" fill="#1A3CF8" opacity="0.5"/>
<rect x="285.0" y="87.4" width="1" height="1" fill="#1A3CF8" opacity="0.5"/>
<rect x="274.6" y="95.9" width="1" height="1" fill="#0A9CF4" opacity="0.5"/>
<rect x="286.1" y="76.9" width="1" height="1" fill="#0A9CF4" opacity="0.5"/>
<rect x="282.0" y="93.4" width="1" height="1" fill="#0A0EF6" opacity="0.5"/>
<rect x="284.2" y="92.1" width="1" height="1" fill="#0CC6EE" opacity="0.5"/>
<rect x="266.0" y="84.2" width="1" height="1" fill="#0A9CF4" opacity="0.5"/>
<rect x="282.3" y="98.7" width="1" height="1" fill="#0A9CF4" opacity="0.5"/>
<rect x="272.3" y="96.4" width="1" height="1" fill="#0CC6EE" opacity="0.5"/>
<rect x="275.6" y="69.7" width="1" height="1" fill="#20D8C0" opacity="0.5"/>
<rect x="281.5" y="93.8" width="1" height="1" fill="#0CC6EE" opacity="0.5"/>
<rect x="280.9" y="96.2" width="1" height="1" fill="#20D8C0" opacity="0.5"/>
<rect x="279.1" y="70.0" width="1" height="1" fill="#0A0EF6" opacity="0.5"/>
<rect x="265.4" y="74.5" width="1" height="1" fill="#20D8C0" opacity="0.5"/>
<rect x="282.4" y="90.8" width="1" height="1" fill="#0CC6EE" opacity="0.5"/>
<rect x="283.4" y="71.6" width="1" height="1" fill="#1A3CF8" opacity="0.5"/>
<rect x="281.7" y="92.0" width="1" height="1" fill="#0A6CF6" opacity="0.5"/>
<rect x="266.2" y="79.6" width="1" height="1" fill="#0A9CF4" opacity="0.5"/>
<rect x="268.9" y="98.5" width="1" height="1" fill="#20D8C0" opacity="0.5"/>
<rect x="285.9" y="84.6" width="1" height="1" fill="#0CC6EE" opacity="0.5"/>
<rect x="282.6" y="77.8" width="1" height="1" fill="#1A3CF8" opacity="0.5"/>
<rect x="273.7" y="100.0" width="1" height="1" fill="#0A9CF4" opacity="0.5"/>
<rect x="275.5" y="72.8" width="1" height="1" fill="#1A3CF8" opacity="0.5"/>
<rect x="265.9" y="83.0" width="1" height="1" fill="#20D8C0" opacity="0.5"/>
<rect x="283.1" y="87.3" width="1" height="1" fill="#20D8C0" opacity="0.5"/>
<rect x="281.9" y="91.6" width="1" height="1" fill="#0A6CF6" opacity="0.5"/>
<rect x="265.1" y="78.7" width="1" height="1" fill="#20D8C0" opacity="0.5"/>
<rect x="288.2" y="84.8" width="1" height="1" fill="#0A0EF6" opacity="0.5"/>
<rect x="268.5" y="92.4" width="1" height="1" fill="#0A0EF6" opacity="0.5"/>
<rect x="283.9" y="82.8" width="1" height="1" fill="#20D8C0" opacity="0.5"/>
<rect x="283.5" y="79.9" width="1" height="1" fill="#0CC6EE" opacity="0.5"/>
<rect x="268.2" y="94.5" width="1" height="1" fill="#0CC6EE" opacity="0.5"/>
<rect x="283.9" y="77.2" width="1" height="1" fill="#0A6CF6" opacity="0.5"/>
<rect x="282.2" y="78.4" width="1" height="1" fill="#1A3CF8" opacity="0.5"/>
<rect x="268.0" y="72.2" width="1" height="1" fill="#1A3CF8" opacity="0.5"/>
<rect x="265.4" y="89.7" width="1" height="1" fill="#20D8C0" opacity="0.5"/>
<rect x="277.1" y="68.9" width="1" height="1" fill="#0A9CF4" opacity="0.5"/>
<rect x="270.4" y="70.5" width="1" height="1" fill="#1A3CF8" opacity="0.5"/>
<rect x="286.5" y="81.8" width="1" height="1" fill="#0A6CF6" opacity="0.5"/>
<rect x="284.7" y="88.2" width="1" height="1" fill="#1A3CF8" opacity="0.5"/>
<rect x="284.8" y="78.4" width="1" height="1" fill="#20D8C0" opacity="0.5"/>
<rect x="270.5" y="74.0" width="1" height="1" fill="#1A3CF8" opacity="0.5"/>
<rect x="284.6" y="86.9" width="1" height="1" fill="#1A3CF8" opacity="0.5"/>
<rect x="284.1" y="94.8" width="1" height="1" fill="#0CC6EE" opacity="0.5"/>
<rect x="264.5" y="75.9" width="1" height="1" fill="#20D8C0" opacity="0.5"/>
<rect x="270.3" y="94.5" width="1" height="1" fill="#1A3CF8" opacity="0.5"/>
<rect x="287.0" y="86.0" width="1" height="1" fill="#0A6CF6" opacity="0.5"/>
<rect x="279.8" y="99.2" width="1" height="1" fill="#0CC6EE" opacity="0.5"/>
<rect x="278.1" y="96.9" width="1" height="1" fill="#20D8C0" opacity="0.5"/>
<rect x="276.4" y="69.2" width="1" height="1" fill="#1A3CF8" opacity="0.5"/>
<rect x="255.6" y="101.1" width="1.1" height="1.1" fill="#C8D0FF" opacity="0.85"/>
<rect x="255.9" y="97.2" width="1.1" height="1.1" fill="#C8D0FF" opacity="0.85"/>
<rect x="262.9" y="105.5" width="1.1" height="1.1" fill="#C8D0FF" opacity="0.85"/>
<rect x="255.7" y="99.2" width="1.1" height="1.1" fill="#C8D0FF" opacity="0.85"/>
<rect x="257.9" y="101.5" width="1.1" height="1.1" fill="#C8D0FF" opacity="0.85"/>
<rect x="256.0" y="104.7" width="1.1" height="1.1" fill="#C8D0FF" opacity="0.85"/>
<rect x="257.8" y="105.5" width="1.1" height="1.1" fill="#C8D0FF" opacity="0.85"/>
<rect x="257.0" y="100.8" width="1.1" height="1.1" fill="#C8D0FF" opacity="0.85"/>
<rect x="262.4" y="97.0" width="1.1" height="1.1" fill="#C8D0FF" opacity="0.85"/>
<rect x="259.9" y="99.4" width="1.1" height="1.1" fill="#C8D0FF" opacity="0.85"/>
<rect x="255.9" y="100.4" width="1.1" height="1.1" fill="#C8D0FF" opacity="0.85"/>
<rect x="261.7" y="96.5" width="1.1" height="1.1" fill="#C8D0FF" opacity="0.85"/>
<rect x="257.6" y="105.3" width="1.1" height="1.1" fill="#C8D0FF" opacity="0.85"/>
<rect x="261.7" y="100.2" width="1.1" height="1.1" fill="#C8D0FF" opacity="0.85"/>
<rect x="255.5" y="77.2" width="1" height="1" fill="#ffffff" opacity="0.75"/>
<rect x="261.4" y="75.8" width="1" height="1" fill="#ffffff" opacity="0.75"/>
<rect x="261.2" y="76.4" width="1" height="1" fill="#ffffff" opacity="0.75"/>
<rect x="261.8" y="76.1" width="1" height="1" fill="#ffffff" opacity="0.75"/>
<rect x="267.6" y="75.5" width="1" height="1" fill="#ffffff" opacity="0.75"/>
<rect x="258.9" y="75.5" width="1" height="1" fill="#ffffff" opacity="0.75"/>
<rect x="270.2" y="76.2" width="1" height="1" fill="#ffffff" opacity="0.75"/>
<rect x="260.6" y="76.0" width="1" height="1" fill="#ffffff" opacity="0.75"/>
<rect x="255.0" y="76.3" width="1" height="1" fill="#ffffff" opacity="0.75"/>
<rect x="268.0" y="74.9" width="1" height="1" fill="#ffffff" opacity="0.75"/>
</g>
<rect x="275.9" y="70.2" width="1" height="1" fill="#1010F0"/>
<rect x="260.9" y="74.4" width="1" height="1" fill="#1010F0"/>
<rect x="274.8" y="69.0" width="1" height="1" fill="#1010F0"/>
<rect x="269.7" y="70.5" width="1" height="1" fill="#1010F0"/>
<rect x="277.2" y="69.0" width="1" height="1" fill="#1010F0"/>
<rect x="265.0" y="72.3" width="1" height="1" fill="#1010F0"/>
<rect x="278.2" y="67.8" width="1" height="1" fill="#1010F0"/>
<rect x="265.0" y="75.7" width="1" height="1" fill="#1010F0"/>
<rect x="283.1" y="63.1" width="1" height="1" fill="#1010F0"/>
<rect x="285.3" y="65.4" width="1" height="1" fill="#1010F0"/>
<rect x="272.6" y="68.2" width="1" height="1" fill="#1010F0"/>
<rect x="275.1" y="69.1" width="1" height="1" fill="#1010F0"/>
<rect x="274.2" y="69.8" width="1" height="1" fill="#1010F0"/>
<rect x="285.0" y="65.0" width="1" height="1" fill="#1010F0"/>
<rect x="275.8" y="68.9" width="1" height="1" fill="#1010F0"/>
<rect x="265.8" y="74.1" width="1" height="1" fill="#1010F0"/>
<rect x="277.0" y="68.1" width="1" height="1" fill="#1010F0"/>
<rect x="269.1" y="70.0" width="1" height="1" fill="#1010F0"/>
<rect x="274.5" y="69.0" width="1" height="1" fill="#1010F0"/>
<rect x="270.2" y="71.5" width="1" height="1" fill="#1010F0"/>
<rect x="274.8" y="68.5" width="1" height="1" fill="#1010F0"/>
<rect x="282.6" y="67.0" width="1" height="1" fill="#1010F0"/>
<rect x="272.3" y="70.9" width="1" height="1" fill="#1010F0"/>
<rect x="272.2" y="69.8" width="1" height="1" fill="#1010F0"/>
<rect x="265.7" y="75.2" width="1" height="1" fill="#1010F0"/>
<rect x="283.8" y="64.1" width="1" height="1" fill="#1010F0"/>
<rect x="261.2" y="75.1" width="1" height="1" fill="#1010F0"/>
<rect x="278.3" y="67.2" width="1" height="1" fill="#1010F0"/>
<rect x="277.8" y="69.7" width="1" height="1" fill="#1010F0"/>
<rect x="288.1" y="65.7" width="1" height="1" fill="#1010F0"/>
<rect x="277.3" y="68.6" width="1" height="1" fill="#1010F0"/>
<rect x="256.7" y="75.2" width="1" height="1" fill="#1010F0"/>
<rect x="271.0" y="71.1" width="1" height="1" fill="#1010F0"/>
<rect x="274.8" y="69.8" width="1" height="1" fill="#1010F0"/>
<rect x="284.4" y="64.9" width="1" height="1" fill="#1010F0"/>
<rect x="274.4" y="68.5" width="1" height="1" fill="#1010F0"/>
<rect x="260.4" y="74.2" width="1" height="1" fill="#1010F0"/>
<rect x="260.4" y="74.3" width="1" height="1" fill="#1010F0"/>
<rect x="255.1" y="74.3" width="1" height="1" fill="#1010F0"/>
<rect x="277.7" y="67.5" width="1" height="1" fill="#1010F0"/>
<rect x="284.5" y="66.5" width="1" height="1" fill="#1010F0"/>
<rect x="256.7" y="73.6" width="1" height="1" fill="#1010F0"/>
<rect x="280.5" y="68.1" width="1" height="1" fill="#1010F0"/>
<rect x="277.8" y="68.2" width="1" height="1" fill="#1010F0"/>
<rect x="265.8" y="73.3" width="1" height="1" fill="#1010F0"/>
<rect x="287.8" y="63.8" width="1" height="1" fill="#1010F0"/>
<rect x="279.7" y="65.6" width="1" height="1" fill="#1010F0"/>
<rect x="260.1" y="72.8" width="1" height="1" fill="#1010F0"/>
<rect x="280.3" y="68.9" width="1" height="1" fill="#1010F0"/>
<rect x="285.8" y="64.9" width="1" height="1" fill="#1010F0"/>
<rect x="287.1" y="64.5" width="1" height="1" fill="#1010F0"/>
<rect x="258.4" y="74.8" width="1" height="1" fill="#1010F0"/>
<rect x="279.1" y="67.9" width="1" height="1" fill="#1010F0"/>
<rect x="261.0" y="75.4" width="1" height="1" fill="#1010F0"/>
<rect x="266.7" y="74.8" width="1" height="1" fill="#1010F0"/>
<rect x="273.6" y="70.7" width="1" height="1" fill="#1010F0"/>
<rect x="271.8" y="72.6" width="1" height="1" fill="#1010F0"/>
<rect x="282.9" y="64.4" width="1" height="1" fill="#1010F0"/>
<rect x="275.0" y="68.5" width="1" height="1" fill="#1010F0"/>
<rect x="283.7" y="100.3" width="1" height="1" fill="#1010F0"/>
<rect x="283.9" y="91.8" width="1" height="1" fill="#1010F0"/>
<rect x="286.4" y="77.6" width="1" height="1" fill="#1010F0"/>
<rect x="286.5" y="72.1" width="1" height="1" fill="#1010F0"/>
<rect x="288.8" y="65.0" width="1" height="1" fill="#1010F0"/>
<rect x="283.8" y="103.1" width="1" height="1" fill="#1010F0"/>
<rect x="284.0" y="91.3" width="1" height="1" fill="#1010F0"/>
<rect x="284.7" y="103.9" width="1" height="1" fill="#1010F0"/>
<rect x="288.7" y="66.1" width="1" height="1" fill="#1010F0"/>
<rect x="288.2" y="66.3" width="1" height="1" fill="#1010F0"/>
<rect x="285.0" y="102.0" width="1" height="1" fill="#1010F0"/>
<rect x="284.4" y="96.2" width="1" height="1" fill="#1010F0"/>
<rect x="288.6" y="67.5" width="1" height="1" fill="#1010F0"/>
<rect x="288.1" y="65.5" width="1" height="1" fill="#1010F0"/>
<rect x="284.3" y="90.7" width="1" height="1" fill="#1010F0"/>
<rect x="286.7" y="76.6" width="1" height="1" fill="#1010F0"/>
<rect x="286.2" y="77.6" width="1" height="1" fill="#1010F0"/>
<rect x="283.8" y="93.7" width="1" height="1" fill="#1010F0"/>
<rect x="285.9" y="78.2" width="1" height="1" fill="#1010F0"/>
<rect x="284.8" y="94.1" width="1" height="1" fill="#1010F0"/>
<rect x="286.7" y="79.0" width="1" height="1" fill="#1010F0"/>
<rect x="284.5" y="105.5" width="1" height="1" fill="#1010F0"/>
<rect x="284.7" y="97.6" width="1" height="1" fill="#1010F0"/>
<rect x="290.6" y="69.3" width="1" height="1" fill="#1010F0"/>
<rect x="286.0" y="77.0" width="1" height="1" fill="#1010F0"/>
<rect x="286.6" y="74.3" width="1" height="1" fill="#1010F0"/>
<rect x="288.2" y="67.7" width="1" height="1" fill="#1010F0"/>
<rect x="284.9" y="90.5" width="1" height="1" fill="#1010F0"/>
<rect x="284.3" y="99.8" width="1" height="1" fill="#1010F0"/>
<rect x="284.6" y="83.7" width="1" height="1" fill="#1010F0"/>
<rect x="285.6" y="80.1" width="1" height="1" fill="#1010F0"/>
<rect x="290.5" y="66.1" width="1" height="1" fill="#1010F0"/>
<rect x="284.7" y="82.6" width="1" height="1" fill="#1010F0"/>
<rect x="289.9" y="64.5" width="1" height="1" fill="#1010F0"/>
<rect x="288.1" y="67.6" width="1" height="1" fill="#1010F0"/>
<rect x="285.1" y="82.1" width="1" height="1" fill="#1010F0"/>
<rect x="284.8" y="100.8" width="1" height="1" fill="#1010F0"/>
<rect x="286.6" y="72.6" width="1" height="1" fill="#1010F0"/>
<rect x="284.0" y="96.2" width="1" height="1" fill="#1010F0"/>
<rect x="287.1" y="79.0" width="1" height="1" fill="#1010F0"/>
<rect x="284.2" y="89.8" width="1" height="1" fill="#1010F0"/>
<rect x="285.0" y="85.8" width="1" height="1" fill="#1010F0"/>
<rect x="283.9" y="93.7" width="1" height="1" fill="#1010F0"/>
<rect x="285.5" y="89.1" width="1" height="1" fill="#1010F0"/>
<rect x="284.9" y="99.8" width="1" height="1" fill="#1010F0"/>
<rect x="285.0" y="97.3" width="1" height="1" fill="#1010F0"/>
<rect x="284.3" y="95.7" width="1" height="1" fill="#1010F0"/>
<rect x="284.9" y="83.0" width="1" height="1" fill="#1010F0"/>
<rect x="285.8" y="75.2" width="1" height="1" fill="#1010F0"/>
<rect x="283.9" y="83.8" width="1" height="1" fill="#1010F0"/>
<rect x="283.5" y="107.6" width="1" height="1" fill="#1010F0"/>
<rect x="284.8" y="81.5" width="1" height="1" fill="#1010F0"/>
<rect x="283.9" y="95.1" width="1" height="1" fill="#1010F0"/>
<rect x="284.3" y="86.0" width="1" height="1" fill="#1010F0"/>
<rect x="284.5" y="100.2" width="1" height="1" fill="#1010F0"/>
<rect x="286.7" y="76.2" width="1" height="1" fill="#1010F0"/>
<rect x="288.2" y="67.2" width="1" height="1" fill="#1010F0"/>
<rect x="283.8" y="104.0" width="1" height="1" fill="#1010F0"/>
<rect x="290.4" y="67.9" width="1" height="1" fill="#1010F0"/>
<rect x="285.3" y="97.6" width="1" height="1" fill="#1010F0"/>
<rect x="254.7" y="106.0" width="29.3" height="1.2" fill="#1A30F0"/>
<rect x="254.7" y="106.19999999999999" width="9" height="1" fill="#50C040"/>
<rect x="268.2" y="106.19999999999999" width="9" height="1" fill="#D04040" opacity="0.8"/>
<rect x="254.39999999999998" y="74.6" width="1" height="33.0" fill="#7CB070" opacity="0.7"/>
<rect x="292.3" y="68.2" width="27.899999999999977" height="16.599999999999994" fill="none" stroke="#787878" stroke-width="1"/>
<rect x="296.5" y="78.0" width="1.1" height="1.1" fill="#1414F0"/>
<rect x="303.6" y="75.8" width="1.1" height="1.1" fill="#1414F0"/>
<rect x="298.3" y="79.8" width="1.1" height="1.1" fill="#1414F0"/>
<rect x="302.1" y="77.8" width="1.1" height="1.1" fill="#1414F0"/>
<rect x="300.3" y="78.0" width="1.1" height="1.1" fill="#1414F0"/>
<rect x="300.8" y="76.7" width="1.1" height="1.1" fill="#1414F0"/>
<rect x="297.2" y="76.6" width="1.1" height="1.1" fill="#1414F0"/>
<rect x="294.1" y="76.4" width="1.1" height="1.1" fill="#1414F0"/>
<rect x="299.1" y="79.2" width="1.1" height="1.1" fill="#1414F0"/>
<rect x="296.9" y="78.9" width="1.1" height="1.1" fill="#1414F0"/>
<rect x="297.3" y="80.3" width="1.1" height="1.1" fill="#1414F0"/>
<rect x="297.6" y="77.6" width="1.1" height="1.1" fill="#1414F0"/>
<rect x="301.6" y="79.2" width="1.1" height="1.1" fill="#1414F0"/>
<rect x="302.9" y="74.4" width="1.1" height="1.1" fill="#1414F0"/>
<rect x="300.5" y="79.6" width="1.1" height="1.1" fill="#1414F0"/>
<rect x="296.4" y="77.7" width="1.1" height="1.1" fill="#1414F0"/>
<rect x="301.4" y="78.8" width="1.1" height="1.1" fill="#1414F0"/>
<rect x="294.4" y="78.0" width="1.1" height="1.1" fill="#1414F0"/>
<rect x="301.0" y="76.5" width="1.1" height="1.1" fill="#1414F0"/>
<rect x="301.9" y="80.9" width="1.1" height="1.1" fill="#1414F0"/>
<rect x="306.3" y="77.9" width="1.1" height="1.1" fill="#1414F0"/>
<rect x="303.7" y="74.4" width="1.1" height="1.1" fill="#1414F0"/>
<rect x="306.6" y="79.4" width="1.1" height="1.1" fill="#1414F0"/>
<rect x="300.2" y="82.3" width="1.1" height="1.1" fill="#1414F0"/>
<rect x="295.0" y="82.7" width="1" height="1" fill="#1414F0"/>
<rect x="297.2" y="84.4" width="1" height="1" fill="#1414F0"/>
<rect x="300.3" y="80.6" width="1" height="1" fill="#1414F0"/>
<rect x="303.0" y="76.6" width="1" height="1" fill="#1414F0"/>
<rect x="297.9" y="81.7" width="1" height="1" fill="#1414F0"/>
<rect x="290.0" y="82.9" width="1" height="1" fill="#1414F0"/>
<rect x="295.6" y="81.7" width="1" height="1" fill="#1414F0"/>
<rect x="303.5" y="72.2" width="1" height="1" fill="#1414F0"/>
<rect x="303.1" y="73.8" width="1" height="1" fill="#1414F0"/>
<rect x="298.1" y="77.3" width="1" height="1" fill="#1414F0"/>
<rect x="305.1" y="73.1" width="1" height="1" fill="#1414F0"/>
<rect x="293.2" y="76.6" width="1" height="1" fill="#1414F0"/>
<rect x="294.6" y="81.6" width="1" height="1" fill="#1414F0"/>
<rect x="304.4" y="72.4" width="1" height="1" fill="#1414F0"/>
<rect x="306.2" y="72.8" width="1" height="1" fill="#1414F0"/>
<rect x="293.5" y="87.8" width="1" height="1" fill="#1414F0"/>
<rect x="303.3" y="70.8" width="1" height="1" fill="#1414F0"/>
<rect x="297.0" y="80.1" width="1" height="1" fill="#1414F0"/>
<rect x="302.9" y="79.8" width="1" height="1" fill="#1414F0"/>
<rect x="302.1" y="75.5" width="1" height="1" fill="#1414F0"/>
<rect x="298.8" y="74.9" width="1" height="1" fill="#1414F0"/>
<rect x="297.7" y="82.3" width="1" height="1" fill="#1414F0"/>
<rect x="297.9" y="79.1" width="1" height="1" fill="#1414F0"/>
<rect x="297.1" y="76.3" width="1" height="1" fill="#1414F0"/>
<rect x="297.9" y="83.6" width="1" height="1" fill="#1414F0"/>
<rect x="303.2" y="75.8" width="1" height="1" fill="#1414F0"/>
<rect x="306.9" y="70.8" width="1" height="1" fill="#1414F0"/>
<rect x="298.6" y="76.0" width="1" height="1" fill="#1414F0"/>
<rect x="300.7" y="79.7" width="1" height="1" fill="#1414F0"/>
<rect x="299.3" y="79.2" width="1" height="1" fill="#1414F0"/>
<rect x="294.6" y="79.6" width="1" height="1" fill="#1414F0"/>
<rect x="306.5" y="74.6" width="1" height="1" fill="#1414F0"/>
<rect x="302.0" y="71.7" width="1" height="1" fill="#1414F0"/>
<rect x="292.3" y="82.4" width="1" height="1" fill="#1414F0"/>
<rect x="295.2" y="83.3" width="1" height="1" fill="#1414F0"/>
<rect x="291.6" y="84.2" width="1" height="1" fill="#1414F0"/>
<rect x="295.9" y="101.2" width="1" height="1" fill="#2020F0"/>
<rect x="293.2" y="102.2" width="1" height="1" fill="#2020F0"/>
<rect x="292.6" y="87.8" width="1" height="1" fill="#2020F0"/>
<rect x="285.5" y="80.7" width="1" height="1" fill="#2020F0"/>
<rect x="286.4" y="95.2" width="1" height="1" fill="#2020F0"/>
<rect x="287.0" y="70.6" width="1" height="1" fill="#2020F0"/>
<rect x="287.3" y="76.0" width="1" height="1" fill="#2020F0"/>
<rect x="289.7" y="98.6" width="1" height="1" fill="#2020F0"/>
<rect x="291.9" y="85.1" width="1" height="1" fill="#2020F0"/>
<rect x="288.0" y="83.0" width="1" height="1" fill="#2020F0"/>
<rect x="286.4" y="98.0" width="1" height="1" fill="#2020F0"/>
<rect x="290.4" y="91.5" width="1" height="1" fill="#2020F0"/>
<rect x="289.8" y="80.6" width="1" height="1" fill="#2020F0"/>
<rect x="287.6" y="75.4" width="1" height="1" fill="#2020F0"/>
<rect x="297.9" y="87.2" width="1" height="1" fill="#2020F0"/>
<rect x="294.7" y="88.4" width="1" height="1" fill="#2020F0"/>
<rect x="288.6" y="75.3" width="1" height="1" fill="#2020F0"/>
<rect x="294.9" y="97.4" width="1" height="1" fill="#2020F0"/>
<rect x="287.9" y="88.0" width="1" height="1" fill="#2020F0"/>
<rect x="287.4" y="88.2" width="1" height="1" fill="#2020F0"/>
<rect x="285.5" y="96.9" width="1" height="1" fill="#2020F0"/>
<rect x="285.7" y="94.6" width="1" height="1" fill="#2020F0"/>
<rect x="306.9" y="96.3" width="1" height="1" fill="#2020F0"/>
<rect x="294.9" y="86.5" width="1" height="1" fill="#2020F0"/>
<rect x="293.6" y="98.0" width="1" height="1" fill="#2020F0"/>
<rect x="309.8" y="94.1" width="1" height="1" fill="#2020F0"/>
<rect x="293.6" y="102.0" width="1" height="1" fill="#2020F0"/>
<rect x="289.2" y="97.1" width="1" height="1" fill="#2020F0"/>
<rect x="305.9" y="88.5" width="1" height="1" fill="#2020F0"/>
<rect x="302.6" y="89.8" width="1" height="1" fill="#2020F0"/>
<rect x="294.5" y="96.9" width="1" height="1" fill="#2020F0"/>
<rect x="291.5" y="96.7" width="1" height="1" fill="#2020F0"/>
<rect x="295.7" y="104.0" width="1" height="1" fill="#2020F0"/>
<rect x="298.2" y="88.4" width="1" height="1" fill="#2020F0"/>
<text x="0" y="0" transform="translate(322.8 57.0) scale(0.9539 1)" font-size="6.6" text-anchor="end" fill="#B8355A" stroke="#B8355A" stroke-width="0.15">1.03 %</text>
<rect x="148.2" y="55.6" width="1.1" height="1.1" fill="#1414F0"/>
<line x1="104.7" y1="46.2" x2="104.7" y2="107.6" stroke="#8a8a8a" stroke-width="1.1"/>
<line x1="179.3" y1="46.2" x2="179.3" y2="107.6" stroke="#8a8a8a" stroke-width="1.1"/>
<line x1="254.2" y1="46.2" x2="254.2" y2="107.6" stroke="#8a8a8a" stroke-width="1.1"/>
<text x="0" y="0" transform="translate(104.6 29.7) scale(0.9089 1)" font-size="9.2" text-anchor="middle" fill="#1a1a1a" stroke="#1a1a1a" stroke-width="0.15">WT</text>
<line x1="81" y1="34.4" x2="128" y2="34.4" stroke="#222" stroke-width="1.0"/>
<text x="0" y="0" transform="translate(253.6 29.7) scale(0.8877 1)" font-size="9.2" text-anchor="middle" fill="#1a1a1a" stroke="#1a1a1a" stroke-width="0.15">KO</text>
<line x1="229.8" y1="34.4" x2="277" y2="34.4" stroke="#222" stroke-width="1.0"/>
<text x="0" y="0" transform="translate(70.5 42.8) scale(0.9679 1)" font-size="5.9" text-anchor="middle" fill="#1a1a1a" stroke="#1a1a1a" stroke-width="0.15">Naive</text>
<text x="0" y="0" transform="translate(144.4 42.8) scale(0.9703 1)" font-size="5.9" text-anchor="middle" fill="#1a1a1a" stroke="#1a1a1a" stroke-width="0.15">Immunized</text>
<text x="0" y="0" transform="translate(218.2 42.8) scale(0.9679 1)" font-size="5.9" text-anchor="middle" fill="#1a1a1a" stroke="#1a1a1a" stroke-width="0.15">Naive</text>
<text x="0" y="0" transform="translate(294.6 42.8) scale(0.9703 1)" font-size="5.9" text-anchor="middle" fill="#1a1a1a" stroke="#1a1a1a" stroke-width="0.15">Immunized</text>
<line x1="22.3" y1="88.2" x2="22.3" y2="51.5" stroke="#111" stroke-width="0.9"/>
<path d="M22.3 47.2L24.4 52.6L20.2 52.6Z" fill="#111"/>
<text x="0" y="0" transform="translate(24.9 99.9) rotate(-90) scale(0.7496 1)" font-size="7.2" text-anchor="middle" fill="#1a1a1a" stroke="#1a1a1a" stroke-width="0.1">CD49b</text>
<line x1="46.0" y1="115.6" x2="320.5" y2="115.6" stroke="#111" stroke-width="0.95"/>
<path d="M324.8 115.6L319.4 113.5L319.4 117.7Z" fill="#111"/>
<text x="0" y="0" transform="translate(38.9 118.2) scale(0.7022 1)" font-size="7.4" text-anchor="middle" fill="#1a1a1a" stroke="#1a1a1a" stroke-width="0.1">IgE</text>
<line x1="411.5" y1="23.0" x2="411.5" y2="106.19999999999999" stroke="#1a1a1a" stroke-width="1.25"/>
<line x1="408.3" y1="105.6" x2="411.5" y2="105.6" stroke="#1a1a1a" stroke-width="1.15"/>
<text x="0" y="0" transform="translate(405.3 108.05)" font-size="6.1" text-anchor="end" fill="#1a1a1a" stroke="#1a1a1a" stroke-width="0.15">0.0</text>
<line x1="408.3" y1="89.58" x2="411.5" y2="89.58" stroke="#1a1a1a" stroke-width="1.15"/>
<text x="0" y="0" transform="translate(405.3 92.03)" font-size="6.1" text-anchor="end" fill="#1a1a1a" stroke="#1a1a1a" stroke-width="0.15">0.5</text>
<line x1="408.3" y1="73.56" x2="411.5" y2="73.56" stroke="#1a1a1a" stroke-width="1.15"/>
<text x="0" y="0" transform="translate(405.3 76.01)" font-size="6.1" text-anchor="end" fill="#1a1a1a" stroke="#1a1a1a" stroke-width="0.15">1.0</text>
<line x1="408.3" y1="57.53999999999999" x2="411.5" y2="57.53999999999999" stroke="#1a1a1a" stroke-width="1.15"/>
<text x="0" y="0" transform="translate(405.3 59.989999999999995)" font-size="6.1" text-anchor="end" fill="#1a1a1a" stroke="#1a1a1a" stroke-width="0.15">1.5</text>
<line x1="408.3" y1="41.519999999999996" x2="411.5" y2="41.519999999999996" stroke="#1a1a1a" stroke-width="1.15"/>
<text x="0" y="0" transform="translate(405.3 43.97)" font-size="6.1" text-anchor="end" fill="#1a1a1a" stroke="#1a1a1a" stroke-width="0.15">2.0</text>
<line x1="408.3" y1="25.5" x2="411.5" y2="25.5" stroke="#1a1a1a" stroke-width="1.15"/>
<text x="0" y="0" transform="translate(405.3 27.95)" font-size="6.1" text-anchor="end" fill="#1a1a1a" stroke="#1a1a1a" stroke-width="0.15">2.5</text>
<line x1="410.9" y1="105.6" x2="512.6" y2="105.6" stroke="#1a1a1a" stroke-width="1.25"/>
<rect x="419.85" y="84.65" width="14.30" height="20.60" fill="#DE8E16" stroke="#D07E08" stroke-width="0.7"/>
<rect x="442.95" y="82.25" width="14.30" height="23.00" fill="#DE8E16" stroke="#D07E08" stroke-width="0.7"/>
<rect x="466.45" y="65.35" width="14.30" height="39.90" fill="#A4002A" stroke="#94001F" stroke-width="0.7"/>
<rect x="490.15" y="76.35" width="14.30" height="28.90" fill="#A4002A" stroke="#94001F" stroke-width="0.7"/>
<line x1="427.0" y1="105.6" x2="427.0" y2="107.8" stroke="#1a1a1a" stroke-width="1.0"/>
<line x1="450.1" y1="105.6" x2="450.1" y2="107.8" stroke="#1a1a1a" stroke-width="1.0"/>
<line x1="473.6" y1="105.6" x2="473.6" y2="107.8" stroke="#1a1a1a" stroke-width="1.0"/>
<line x1="497.3" y1="105.6" x2="497.3" y2="107.8" stroke="#1a1a1a" stroke-width="1.0"/>
<circle cx="425.20" cy="67.10" r="1.45" fill="none" stroke="#3C5C9E" stroke-width="0.8"/>
<circle cx="428.00" cy="70.90" r="1.45" fill="none" stroke="#3C5C9E" stroke-width="0.8"/>
<circle cx="420.10" cy="76.40" r="1.45" fill="none" stroke="#3C5C9E" stroke-width="0.8"/>
<circle cx="422.90" cy="76.40" r="1.45" fill="none" stroke="#3C5C9E" stroke-width="0.8"/>
<circle cx="425.60" cy="76.00" r="1.45" fill="none" stroke="#3C5C9E" stroke-width="0.8"/>
<circle cx="430.30" cy="76.40" r="1.45" fill="none" stroke="#3C5C9E" stroke-width="0.8"/>
<circle cx="433.10" cy="76.80" r="1.45" fill="none" stroke="#3C5C9E" stroke-width="0.8"/>
<circle cx="424.30" cy="78.80" r="1.45" fill="none" stroke="#3C5C9E" stroke-width="0.8"/>
<circle cx="433.10" cy="79.60" r="1.45" fill="none" stroke="#3C5C9E" stroke-width="0.8"/>
<circle cx="427.50" cy="79.20" r="1.45" fill="none" stroke="#3C5C9E" stroke-width="0.8"/>
<circle cx="425.20" cy="81.30" r="1.45" fill="none" stroke="#3C5C9E" stroke-width="0.8"/>
<circle cx="430.80" cy="81.10" r="1.45" fill="none" stroke="#3C5C9E" stroke-width="0.8"/>
<circle cx="420.50" cy="83.90" r="1.45" fill="none" stroke="#3C5C9E" stroke-width="0.8"/>
<circle cx="433.60" cy="83.90" r="1.45" fill="none" stroke="#3C5C9E" stroke-width="0.8"/>
<circle cx="423.30" cy="86.70" r="1.45" fill="none" stroke="#3C5C9E" stroke-width="0.8"/>
<circle cx="428.00" cy="86.70" r="1.45" fill="none" stroke="#3C5C9E" stroke-width="0.8"/>
<circle cx="431.20" cy="86.20" r="1.45" fill="none" stroke="#3C5C9E" stroke-width="0.8"/>
<circle cx="426.60" cy="88.20" r="1.45" fill="none" stroke="#3C5C9E" stroke-width="0.8"/>
<circle cx="423.30" cy="89.50" r="1.45" fill="none" stroke="#3C5C9E" stroke-width="0.8"/>
<circle cx="430.30" cy="89.50" r="1.45" fill="none" stroke="#3C5C9E" stroke-width="0.8"/>
<circle cx="425.20" cy="97.90" r="1.45" fill="none" stroke="#3C5C9E" stroke-width="0.8"/>
<circle cx="428.00" cy="96.20" r="1.45" fill="none" stroke="#3C5C9E" stroke-width="0.8"/>
<line x1="426.6" y1="75.5" x2="426.6" y2="91.8" stroke="#1a1a1a" stroke-width="1.0"/>
<line x1="423.35" y1="75.5" x2="429.85" y2="75.5" stroke="#1a1a1a" stroke-width="1.0"/>
<line x1="423.35" y1="91.8" x2="429.85" y2="91.8" stroke="#1a1a1a" stroke-width="1.0"/>
<path d="M450.20 68.00L452.10 69.90L450.20 71.80L448.30 69.90Z" fill="none" stroke="#62B43C" stroke-width="0.8"/>
<path d="M448.50 70.40L450.40 72.30L448.50 74.20L446.60 72.30Z" fill="none" stroke="#62B43C" stroke-width="0.8"/>
<path d="M452.00 70.40L453.90 72.30L452.00 74.20L450.10 72.30Z" fill="none" stroke="#62B43C" stroke-width="0.8"/>
<path d="M447.10 72.40L449.00 74.30L447.10 76.20L445.20 74.30Z" fill="none" stroke="#62B43C" stroke-width="0.8"/>
<path d="M453.00 72.10L454.90 74.00L453.00 75.90L451.10 74.00Z" fill="none" stroke="#62B43C" stroke-width="0.8"/>
<path d="M444.30 75.00L446.20 76.90L444.30 78.80L442.40 76.90Z" fill="none" stroke="#62B43C" stroke-width="0.8"/>
<path d="M446.00 77.00L447.90 78.90L446.00 80.80L444.10 78.90Z" fill="none" stroke="#62B43C" stroke-width="0.8"/>
<path d="M443.60 78.30L445.50 80.20L443.60 82.10L441.70 80.20Z" fill="none" stroke="#62B43C" stroke-width="0.8"/>
<path d="M449.20 76.80L451.10 78.70L449.20 80.60L447.30 78.70Z" fill="none" stroke="#62B43C" stroke-width="0.8"/>
<path d="M453.00 76.10L454.90 78.00L453.00 79.90L451.10 78.00Z" fill="none" stroke="#62B43C" stroke-width="0.8"/>
<path d="M456.50 77.10L458.40 79.00L456.50 80.90L454.60 79.00Z" fill="none" stroke="#62B43C" stroke-width="0.8"/>
<path d="M454.80 79.30L456.70 81.20L454.80 83.10L452.90 81.20Z" fill="none" stroke="#62B43C" stroke-width="0.8"/>
<path d="M446.40 85.20L448.30 87.10L446.40 89.00L444.50 87.10Z" fill="none" stroke="#62B43C" stroke-width="0.8"/>
<path d="M448.50 83.50L450.40 85.40L448.50 87.30L446.60 85.40Z" fill="none" stroke="#62B43C" stroke-width="0.8"/>
<path d="M452.00 83.10L453.90 85.00L452.00 86.90L450.10 85.00Z" fill="none" stroke="#62B43C" stroke-width="0.8"/>
<path d="M454.80 84.70L456.70 86.60L454.80 88.50L452.90 86.60Z" fill="none" stroke="#62B43C" stroke-width="0.8"/>
<path d="M456.50 82.70L458.40 84.60L456.50 86.50L454.60 84.60Z" fill="none" stroke="#62B43C" stroke-width="0.8"/>
<path d="M445.00 87.10L446.90 89.00L445.00 90.90L443.10 89.00Z" fill="none" stroke="#62B43C" stroke-width="0.8"/>
<path d="M450.20 86.40L452.10 88.30L450.20 90.20L448.30 88.30Z" fill="none" stroke="#62B43C" stroke-width="0.8"/>
<path d="M453.70 88.10L455.60 90.00L453.70 91.90L451.80 90.00Z" fill="none" stroke="#62B43C" stroke-width="0.8"/>
<line x1="450.0" y1="76.3" x2="450.0" y2="86.8" stroke="#1a1a1a" stroke-width="1.0"/>
<line x1="446.5" y1="76.3" x2="453.5" y2="76.3" stroke="#1a1a1a" stroke-width="1.0"/>
<line x1="446.5" y1="86.8" x2="453.5" y2="86.8" stroke="#1a1a1a" stroke-width="1.0"/>
<circle cx="473.60" cy="44.90" r="1.7" fill="#173F82"/>
<circle cx="473.60" cy="48.40" r="1.7" fill="#173F82"/>
<circle cx="467.70" cy="49.80" r="1.7" fill="#173F82"/>
<circle cx="479.60" cy="51.20" r="1.7" fill="#173F82"/>
<circle cx="473.60" cy="52.30" r="1.7" fill="#173F82"/>
<circle cx="467.70" cy="54.00" r="1.7" fill="#173F82"/>
<circle cx="473.60" cy="57.90" r="1.7" fill="#173F82"/>
<circle cx="467.70" cy="64.00" r="1.7" fill="#173F82"/>
<circle cx="473.60" cy="64.00" r="1.7" fill="#173F82"/>
<circle cx="479.60" cy="64.00" r="1.7" fill="#173F82"/>
<circle cx="467.70" cy="68.70" r="1.7" fill="#173F82"/>
<circle cx="473.60" cy="67.60" r="1.7" fill="#173F82"/>
<circle cx="479.60" cy="68.30" r="1.7" fill="#173F82"/>
<circle cx="473.60" cy="72.80" r="1.7" fill="#173F82"/>
<circle cx="467.70" cy="74.20" r="1.7" fill="#173F82"/>
<circle cx="479.60" cy="71.80" r="1.7" fill="#173F82"/>
<circle cx="479.60" cy="75.60" r="1.7" fill="#173F82"/>
<circle cx="473.60" cy="77.00" r="1.7" fill="#173F82"/>
<circle cx="467.70" cy="80.50" r="1.7" fill="#173F82"/>
<circle cx="479.60" cy="80.50" r="1.7" fill="#173F82"/>
<line x1="473.8" y1="53.3" x2="473.8" y2="75.6" stroke="#1a1a1a" stroke-width="1.0"/>
<line x1="470.3" y1="53.3" x2="477.3" y2="53.3" stroke="#1a1a1a" stroke-width="1.0"/>
<line x1="470.3" y1="75.6" x2="477.3" y2="75.6" stroke="#1a1a1a" stroke-width="1.0"/>
<path d="M497.30 59.00L499.30 61.00L497.30 63.00L495.30 61.00Z" fill="#52AA2C"/>
<path d="M493.10 65.30L495.10 67.30L493.10 69.30L491.10 67.30Z" fill="#52AA2C"/>
<path d="M497.30 65.30L499.30 67.30L497.30 69.30L495.30 67.30Z" fill="#52AA2C"/>
<path d="M493.10 69.50L495.10 71.50L493.10 73.50L491.10 71.50Z" fill="#52AA2C"/>
<path d="M501.50 68.80L503.50 70.80L501.50 72.80L499.50 70.80Z" fill="#52AA2C"/>
<path d="M491.00 73.00L493.00 75.00L491.00 77.00L489.00 75.00Z" fill="#52AA2C"/>
<path d="M497.30 72.20L499.30 74.20L497.30 76.20L495.30 74.20Z" fill="#52AA2C"/>
<path d="M501.50 72.20L503.50 74.20L501.50 76.20L499.50 74.20Z" fill="#52AA2C"/>
<path d="M491.50 77.00L493.50 79.00L491.50 81.00L489.50 79.00Z" fill="#52AA2C"/>
<path d="M494.80 77.40L496.80 79.40L494.80 81.40L492.80 79.40Z" fill="#52AA2C"/>
<path d="M498.20 77.00L500.20 79.00L498.20 81.00L496.20 79.00Z" fill="#52AA2C"/>
<path d="M501.60 77.40L503.60 79.40L501.60 81.40L499.60 79.40Z" fill="#52AA2C"/>
<path d="M504.20 76.80L506.20 78.80L504.20 80.80L502.20 78.80Z" fill="#52AA2C"/>
<path d="M497.30 83.40L499.30 85.40L497.30 87.40L495.30 85.40Z" fill="#52AA2C"/>
<path d="M495.80 85.20L497.80 87.20L495.80 89.20L493.80 87.20Z" fill="#52AA2C"/>
<path d="M493.60 80.40L495.60 82.40L493.60 84.40L491.60 82.40Z" fill="#52AA2C"/>
<path d="M500.50 80.40L502.50 82.40L500.50 84.40L498.50 82.40Z" fill="#52AA2C"/>
<line x1="497.3" y1="69.4" x2="497.3" y2="82.0" stroke="#1a1a1a" stroke-width="1.0"/>
<line x1="494.3" y1="69.4" x2="500.3" y2="69.4" stroke="#1a1a1a" stroke-width="1.0"/>
<line x1="494.3" y1="82.0" x2="500.3" y2="82.0" stroke="#1a1a1a" stroke-width="1.0"/>
<path d="M425.4 39.8V37.8H472.2V39.8" fill="none" stroke="#2a2a2a" stroke-width="1.05"/>
<path d="M473.0 39.8V37.8H499.7V39.8" fill="none" stroke="#2a2a2a" stroke-width="1.05"/>
<ellipse cx="445.28" cy="35.0" rx="0.85" ry="1.0" fill="#333"/>
<ellipse cx="447.63" cy="35.0" rx="0.85" ry="1.0" fill="#333"/>
<ellipse cx="449.98" cy="35.0" rx="0.85" ry="1.0" fill="#333"/>
<ellipse cx="452.33" cy="35.0" rx="0.85" ry="1.0" fill="#333"/>
<ellipse cx="483.08" cy="35.0" rx="0.85" ry="1.0" fill="#333"/>
<ellipse cx="485.43" cy="35.0" rx="0.85" ry="1.0" fill="#333"/>
<ellipse cx="487.78" cy="35.0" rx="0.85" ry="1.0" fill="#333"/>
<ellipse cx="490.13" cy="35.0" rx="0.85" ry="1.0" fill="#333"/>
<text x="0" y="0" transform="translate(427.0 117.8)" font-size="6.4" text-anchor="middle" fill="#1a1a1a" stroke="#1a1a1a" stroke-width="0.15">WT</text>
<text x="0" y="0" transform="translate(450.1 117.8)" font-size="6.4" text-anchor="middle" fill="#1a1a1a" stroke="#1a1a1a" stroke-width="0.15">KO</text>
<text x="0" y="0" transform="translate(473.6 117.8)" font-size="6.4" text-anchor="middle" fill="#1a1a1a" stroke="#1a1a1a" stroke-width="0.15">WT</text>
<text x="0" y="0" transform="translate(497.3 117.8)" font-size="6.4" text-anchor="middle" fill="#1a1a1a" stroke="#1a1a1a" stroke-width="0.15">KO</text>
<line x1="420" y1="120.3" x2="455.2" y2="120.3" stroke="#444" stroke-width="1.2"/>
<text x="0" y="0" transform="translate(437.6 126.8)" font-size="6.0" text-anchor="middle" fill="#1a1a1a" stroke="#1a1a1a" stroke-width="0.15">Naive</text>
<line x1="466" y1="120.3" x2="505" y2="120.3" stroke="#444" stroke-width="1.2"/>
<text x="0" y="0" transform="translate(485.5 126.8)" font-size="6.0" text-anchor="middle" fill="#1a1a1a" stroke="#1a1a1a" stroke-width="0.15">Immunized</text>
<text x="0" y="0" transform="translate(391.6 64.7) rotate(-90) scale(0.7806 1)" font-size="7.5" text-anchor="middle" fill="#1a1a1a" stroke="#1a1a1a" stroke-width="0.1">% of basophil (blood)</text>
<line x1="43.4" y1="164.3" x2="43.4" y2="248.1" stroke="#1a1a1a" stroke-width="1.25"/>
<line x1="40.199999999999996" y1="247.5" x2="43.4" y2="247.5" stroke="#1a1a1a" stroke-width="1.15"/>
<text x="0" y="0" transform="translate(37.3 249.95)" font-size="6.1" text-anchor="end" fill="#1a1a1a" stroke="#1a1a1a" stroke-width="0.15">0</text>
<line x1="40.199999999999996" y1="231.44" x2="43.4" y2="231.44" stroke="#1a1a1a" stroke-width="1.15"/>
<text x="0" y="0" transform="translate(37.3 233.89)" font-size="6.1" text-anchor="end" fill="#1a1a1a" stroke="#1a1a1a" stroke-width="0.15">20</text>
<line x1="40.199999999999996" y1="215.38" x2="43.4" y2="215.38" stroke="#1a1a1a" stroke-width="1.15"/>
<text x="0" y="0" transform="translate(37.3 217.82999999999998)" font-size="6.1" text-anchor="end" fill="#1a1a1a" stroke="#1a1a1a" stroke-width="0.15">40</text>
<line x1="40.199999999999996" y1="199.32" x2="43.4" y2="199.32" stroke="#1a1a1a" stroke-width="1.15"/>
<text x="0" y="0" transform="translate(37.3 201.76999999999998)" font-size="6.1" text-anchor="end" fill="#1a1a1a" stroke="#1a1a1a" stroke-width="0.15">60</text>
<line x1="40.199999999999996" y1="183.26" x2="43.4" y2="183.26" stroke="#1a1a1a" stroke-width="1.15"/>
<text x="0" y="0" transform="translate(37.3 185.70999999999998)" font-size="6.1" text-anchor="end" fill="#1a1a1a" stroke="#1a1a1a" stroke-width="0.15">80</text>
<line x1="40.199999999999996" y1="167.2" x2="43.4" y2="167.2" stroke="#1a1a1a" stroke-width="1.15"/>
<text x="0" y="0" transform="translate(37.3 169.64999999999998)" font-size="6.1" text-anchor="end" fill="#1a1a1a" stroke="#1a1a1a" stroke-width="0.15">100</text>
<line x1="42.8" y1="247.5" x2="192.2" y2="247.5" stroke="#1a1a1a" stroke-width="1.25"/>
<rect x="48.80" y="245.90" width="10.00" height="1.60" fill="#DE8E16"/>
<rect x="64.70" y="245.90" width="10.00" height="1.60" fill="#DE8E16"/>
<rect x="81.15" y="184.15" width="9.30" height="63.00" fill="#A4002A" stroke="#94001F" stroke-width="0.7"/>
<rect x="97.15" y="195.85" width="9.30" height="51.30" fill="#A4002A" stroke="#94001F" stroke-width="0.7"/>
<circle cx="50.20" cy="245.60" r="1.7" fill="#173F82"/>
<circle cx="53.00" cy="245.20" r="1.7" fill="#173F82"/>
<circle cx="56.00" cy="245.50" r="1.7" fill="#173F82"/>
<circle cx="51.50" cy="243.60" r="1.7" fill="#173F82"/>
<circle cx="55.00" cy="243.40" r="1.7" fill="#173F82"/>
<circle cx="57.30" cy="244.20" r="1.7" fill="#173F82"/>
<circle cx="50.80" cy="246.60" r="1.7" fill="#173F82"/>
<circle cx="54.20" cy="246.40" r="1.7" fill="#173F82"/>
<circle cx="57.20" cy="246.30" r="1.7" fill="#173F82"/>
<circle cx="52.50" cy="244.30" r="1.7" fill="#173F82"/>
<path d="M66.30 243.70L68.30 245.70L66.30 247.70L64.30 245.70Z" fill="#52AA2C"/>
<path d="M69.30 243.30L71.30 245.30L69.30 247.30L67.30 245.30Z" fill="#52AA2C"/>
<path d="M72.30 243.60L74.30 245.60L72.30 247.60L70.30 245.60Z" fill="#52AA2C"/>
<path d="M67.50 242.00L69.50 244.00L67.50 246.00L65.50 244.00Z" fill="#52AA2C"/>
<path d="M71.00 241.80L73.00 243.80L71.00 245.80L69.00 243.80Z" fill="#52AA2C"/>
<path d="M73.30 242.60L75.30 244.60L73.30 246.60L71.30 244.60Z" fill="#52AA2C"/>
<path d="M66.80 244.60L68.80 246.60L66.80 248.60L64.80 246.60Z" fill="#52AA2C"/>
<path d="M70.00 244.50L72.00 246.50L70.00 248.50L68.00 246.50Z" fill="#52AA2C"/>
<path d="M73.00 244.30L75.00 246.30L73.00 248.30L71.00 246.30Z" fill="#52AA2C"/>
<path d="M68.80 242.80L70.80 244.80L68.80 246.80L66.80 244.80Z" fill="#52AA2C"/>
<line x1="85.8" y1="178.5" x2="85.8" y2="189.0" stroke="#1a1a1a" stroke-width="1.0"/>
<line x1="83.55" y1="178.5" x2="88.05" y2="178.5" stroke="#1a1a1a" stroke-width="1.0"/>
<line x1="83.55" y1="189.0" x2="88.05" y2="189.0" stroke="#1a1a1a" stroke-width="1.0"/>
<circle cx="81.80" cy="177.00" r="1.7" fill="#173F82"/>
<circle cx="84.30" cy="176.40" r="1.7" fill="#173F82"/>
<circle cx="87.20" cy="176.40" r="1.7" fill="#173F82"/>
<circle cx="89.90" cy="177.20" r="1.7" fill="#173F82"/>
<circle cx="82.90" cy="178.80" r="1.7" fill="#173F82"/>
<circle cx="86.40" cy="178.60" r="1.7" fill="#173F82"/>
<circle cx="88.80" cy="179.00" r="1.7" fill="#173F82"/>
<circle cx="85.70" cy="181.30" r="1.7" fill="#173F82"/>
<circle cx="85.50" cy="183.50" r="1.7" fill="#173F82"/>
<circle cx="86.00" cy="185.70" r="1.7" fill="#173F82"/>
<circle cx="85.40" cy="187.80" r="1.7" fill="#173F82"/>
<circle cx="85.90" cy="190.00" r="1.7" fill="#173F82"/>
<circle cx="84.90" cy="191.80" r="1.7" fill="#173F82"/>
<circle cx="86.80" cy="192.00" r="1.7" fill="#173F82"/>
<line x1="101.8" y1="190.5" x2="101.8" y2="200.5" stroke="#1a1a1a" stroke-width="1.0"/>
<line x1="99.55" y1="190.5" x2="104.05" y2="190.5" stroke="#1a1a1a" stroke-width="1.0"/>
<line x1="99.55" y1="200.5" x2="104.05" y2="200.5" stroke="#1a1a1a" stroke-width="1.0"/>
<path d="M101.80 185.60L103.80 187.60L101.80 189.60L99.80 187.60Z" fill="#52AA2C"/>
<path d="M99.50 187.00L101.50 189.00L99.50 191.00L97.50 189.00Z" fill="#52AA2C"/>
<path d="M104.00 187.00L106.00 189.00L104.00 191.00L102.00 189.00Z" fill="#52AA2C"/>
<path d="M101.80 188.20L103.80 190.20L101.80 192.20L99.80 190.20Z" fill="#52AA2C"/>
<path d="M97.50 192.00L99.50 194.00L97.50 196.00L95.50 194.00Z" fill="#52AA2C"/>
<path d="M100.20 192.80L102.20 194.80L100.20 196.80L98.20 194.80Z" fill="#52AA2C"/>
<path d="M103.30 192.80L105.30 194.80L103.30 196.80L101.30 194.80Z" fill="#52AA2C"/>
<path d="M106.00 192.00L108.00 194.00L106.00 196.00L104.00 194.00Z" fill="#52AA2C"/>
<path d="M98.50 194.30L100.50 196.30L98.50 198.30L96.50 196.30Z" fill="#52AA2C"/>
<path d="M104.90 194.30L106.90 196.30L104.90 198.30L102.90 196.30Z" fill="#52AA2C"/>
<path d="M99.20 200.30L101.20 202.30L99.20 204.30L97.20 202.30Z" fill="#52AA2C"/>
<path d="M101.80 200.80L103.80 202.80L101.80 204.80L99.80 202.80Z" fill="#52AA2C"/>
<path d="M104.40 200.30L106.40 202.30L104.40 204.30L102.40 202.30Z" fill="#52AA2C"/>
<path d="M86.4 173.7V171.7H102.0V173.7" fill="none" stroke="#2a2a2a" stroke-width="1.05"/>
<ellipse cx="90.38" cy="168.9" rx="0.85" ry="1.0" fill="#333"/>
<ellipse cx="92.72" cy="168.9" rx="0.85" ry="1.0" fill="#333"/>
<ellipse cx="95.08" cy="168.9" rx="0.85" ry="1.0" fill="#333"/>
<ellipse cx="97.42" cy="168.9" rx="0.85" ry="1.0" fill="#333"/>
<rect x="128.75" y="203.85" width="9.30" height="43.30" fill="#DE8E16" stroke="#D07E08" stroke-width="0.7"/>
<rect x="144.65" y="203.85" width="9.30" height="43.30" fill="#DE8E16" stroke="#D07E08" stroke-width="0.7"/>
<rect x="160.45" y="192.35" width="9.30" height="54.80" fill="#A4002A" stroke="#94001F" stroke-width="0.7"/>
<rect x="176.55" y="194.35" width="9.30" height="52.80" fill="#A4002A" stroke="#94001F" stroke-width="0.7"/>
<circle cx="130.60" cy="197.50" r="1.45" fill="none" stroke="#3C5C9E" stroke-width="0.8"/>
<circle cx="135.00" cy="197.50" r="1.45" fill="none" stroke="#3C5C9E" stroke-width="0.8"/>
<circle cx="129.40" cy="201.30" r="1.45" fill="none" stroke="#3C5C9E" stroke-width="0.8"/>
<circle cx="133.10" cy="201.30" r="1.45" fill="none" stroke="#3C5C9E" stroke-width="0.8"/>
<circle cx="136.90" cy="201.30" r="1.45" fill="none" stroke="#3C5C9E" stroke-width="0.8"/>
<circle cx="130.00" cy="204.60" r="1.45" fill="none" stroke="#3C5C9E" stroke-width="0.8"/>
<circle cx="133.20" cy="204.60" r="1.45" fill="none" stroke="#3C5C9E" stroke-width="0.8"/>
<circle cx="136.50" cy="204.60" r="1.45" fill="none" stroke="#3C5C9E" stroke-width="0.8"/>
<circle cx="130.60" cy="208.10" r="1.45" fill="none" stroke="#3C5C9E" stroke-width="0.8"/>
<circle cx="135.00" cy="208.10" r="1.45" fill="none" stroke="#3C5C9E" stroke-width="0.8"/>
<line x1="133.4" y1="199.4" x2="133.4" y2="205.8" stroke="#1a1a1a" stroke-width="1.0"/>
<line x1="131.4" y1="199.4" x2="135.4" y2="199.4" stroke="#1a1a1a" stroke-width="1.0"/>
<line x1="131.4" y1="205.8" x2="135.4" y2="205.8" stroke="#1a1a1a" stroke-width="1.0"/>
<path d="M146.90 195.60L148.80 197.50L146.90 199.40L145.00 197.50Z" fill="none" stroke="#62B43C" stroke-width="0.8"/>
<path d="M151.30 195.60L153.20 197.50L151.30 199.40L149.40 197.50Z" fill="none" stroke="#62B43C" stroke-width="0.8"/>
<path d="M145.50 200.00L147.40 201.90L145.50 203.80L143.60 201.90Z" fill="none" stroke="#62B43C" stroke-width="0.8"/>
<path d="M149.40 200.00L151.30 201.90L149.40 203.80L147.50 201.90Z" fill="none" stroke="#62B43C" stroke-width="0.8"/>
<path d="M153.10 200.00L155.00 201.90L153.10 203.80L151.20 201.90Z" fill="none" stroke="#62B43C" stroke-width="0.8"/>
<path d="M146.60 203.10L148.50 205.00L146.60 206.90L144.70 205.00Z" fill="none" stroke="#62B43C" stroke-width="0.8"/>
<path d="M151.00 203.10L152.90 205.00L151.00 206.90L149.10 205.00Z" fill="none" stroke="#62B43C" stroke-width="0.8"/>
<path d="M147.50 205.80L149.40 207.70L147.50 209.60L145.60 207.70Z" fill="none" stroke="#62B43C" stroke-width="0.8"/>
<path d="M151.30 205.80L153.20 207.70L151.30 209.60L149.40 207.70Z" fill="none" stroke="#62B43C" stroke-width="0.8"/>
<line x1="149.3" y1="199.4" x2="149.3" y2="206.0" stroke="#1a1a1a" stroke-width="1.0"/>
<line x1="147.3" y1="199.4" x2="151.3" y2="199.4" stroke="#1a1a1a" stroke-width="1.0"/>
<line x1="147.3" y1="206.0" x2="151.3" y2="206.0" stroke="#1a1a1a" stroke-width="1.0"/>
<line x1="166.5" y1="186.5" x2="166.5" y2="195.5" stroke="#1a1a1a" stroke-width="1.0"/>
<line x1="164.5" y1="186.5" x2="168.5" y2="186.5" stroke="#1a1a1a" stroke-width="1.0"/>
<line x1="164.5" y1="195.5" x2="168.5" y2="195.5" stroke="#1a1a1a" stroke-width="1.0"/>
<circle cx="165.80" cy="184.30" r="1.7" fill="#173F82"/>
<circle cx="164.60" cy="186.80" r="1.7" fill="#173F82"/>
<circle cx="163.50" cy="189.20" r="1.7" fill="#173F82"/>
<circle cx="162.30" cy="191.60" r="1.7" fill="#173F82"/>
<circle cx="161.80" cy="194.00" r="1.7" fill="#173F82"/>
<circle cx="164.60" cy="193.00" r="1.7" fill="#173F82"/>
<circle cx="167.30" cy="192.50" r="1.7" fill="#173F82"/>
<circle cx="169.20" cy="194.50" r="1.7" fill="#173F82"/>
<circle cx="162.50" cy="196.30" r="1.7" fill="#173F82"/>
<circle cx="165.80" cy="196.30" r="1.7" fill="#173F82"/>
<circle cx="168.60" cy="196.80" r="1.7" fill="#173F82"/>
<line x1="181.6" y1="190.5" x2="181.6" y2="197.5" stroke="#1a1a1a" stroke-width="1.0"/>
<line x1="179.6" y1="190.5" x2="183.6" y2="190.5" stroke="#1a1a1a" stroke-width="1.0"/>
<line x1="179.6" y1="197.5" x2="183.6" y2="197.5" stroke="#1a1a1a" stroke-width="1.0"/>
<path d="M182.60 185.00L184.60 187.00L182.60 189.00L180.60 187.00Z" fill="#52AA2C"/>
<path d="M185.20 184.20L187.20 186.20L185.20 188.20L183.20 186.20Z" fill="#52AA2C"/>
<path d="M180.30 187.00L182.30 189.00L180.30 191.00L178.30 189.00Z" fill="#52AA2C"/>
<path d="M181.60 190.40L183.60 192.40L181.60 194.40L179.60 192.40Z" fill="#52AA2C"/>
<path d="M178.50 192.60L180.50 194.60L178.50 196.60L176.50 194.60Z" fill="#52AA2C"/>
<path d="M181.30 193.50L183.30 195.50L181.30 197.50L179.30 195.50Z" fill="#52AA2C"/>
<path d="M184.20 192.60L186.20 194.60L184.20 196.60L182.20 194.60Z" fill="#52AA2C"/>
<path d="M186.30 194.50L188.30 196.50L186.30 198.50L184.30 196.50Z" fill="#52AA2C"/>
<path d="M179.60 195.30L181.60 197.30L179.60 199.30L177.60 197.30Z" fill="#52AA2C"/>
<path d="M183.00 195.60L185.00 197.60L183.00 199.60L181.00 197.60Z" fill="#52AA2C"/>
<path d="M133.4 174.0V172.0H164.5V174.0" fill="none" stroke="#2a2a2a" stroke-width="1.05"/>
<ellipse cx="147.62" cy="168.6" rx="0.85" ry="1.0" fill="#333"/>
<ellipse cx="149.97" cy="168.6" rx="0.85" ry="1.0" fill="#333"/>
<path d="M149.5 183.5V181.5H180.8V183.5" fill="none" stroke="#2a2a2a" stroke-width="1.05"/>
<ellipse cx="163.82" cy="177.9" rx="0.85" ry="1.0" fill="#333"/>
<ellipse cx="166.17" cy="177.9" rx="0.85" ry="1.0" fill="#333"/>
<line x1="53.8" y1="247.5" x2="53.8" y2="249.7" stroke="#1a1a1a" stroke-width="1.0"/>
<line x1="69.7" y1="247.5" x2="69.7" y2="249.7" stroke="#1a1a1a" stroke-width="1.0"/>
<line x1="85.8" y1="247.5" x2="85.8" y2="249.7" stroke="#1a1a1a" stroke-width="1.0"/>
<line x1="101.8" y1="247.5" x2="101.8" y2="249.7" stroke="#1a1a1a" stroke-width="1.0"/>
<line x1="133.4" y1="247.5" x2="133.4" y2="249.7" stroke="#1a1a1a" stroke-width="1.0"/>
<line x1="149.3" y1="247.5" x2="149.3" y2="249.7" stroke="#1a1a1a" stroke-width="1.0"/>
<line x1="165.1" y1="247.5" x2="165.1" y2="249.7" stroke="#1a1a1a" stroke-width="1.0"/>
<line x1="181.2" y1="247.5" x2="181.2" y2="249.7" stroke="#1a1a1a" stroke-width="1.0"/>
<text x="0" y="0" transform="translate(53.8 259.1)" font-size="6.4" text-anchor="middle" fill="#1a1a1a" stroke="#1a1a1a" stroke-width="0.15">WT</text>
<text x="0" y="0" transform="translate(69.7 259.1)" font-size="6.4" text-anchor="middle" fill="#1a1a1a" stroke="#1a1a1a" stroke-width="0.15">KO</text>
<text x="0" y="0" transform="translate(85.8 259.1)" font-size="6.4" text-anchor="middle" fill="#1a1a1a" stroke="#1a1a1a" stroke-width="0.15">WT</text>
<text x="0" y="0" transform="translate(101.8 259.1)" font-size="6.4" text-anchor="middle" fill="#1a1a1a" stroke="#1a1a1a" stroke-width="0.15">KO</text>
<text x="0" y="0" transform="translate(133.4 259.1)" font-size="6.4" text-anchor="middle" fill="#1a1a1a" stroke="#1a1a1a" stroke-width="0.15">WT</text>
<text x="0" y="0" transform="translate(149.3 259.1)" font-size="6.4" text-anchor="middle" fill="#1a1a1a" stroke="#1a1a1a" stroke-width="0.15">KO</text>
<text x="0" y="0" transform="translate(165.1 259.1)" font-size="6.4" text-anchor="middle" fill="#1a1a1a" stroke="#1a1a1a" stroke-width="0.15">WT</text>
<text x="0" y="0" transform="translate(181.2 259.1)" font-size="6.4" text-anchor="middle" fill="#1a1a1a" stroke="#1a1a1a" stroke-width="0.15">KO</text>
<line x1="49.2" y1="262.0" x2="73.0" y2="262.0" stroke="#444" stroke-width="1.2"/>
<text x="0" y="0" transform="translate(61.1 269.1)" font-size="6.0" text-anchor="middle" fill="#1a1a1a" stroke="#1a1a1a" stroke-width="0.15">Naive</text>
<line x1="79.4" y1="262.0" x2="105.0" y2="262.0" stroke="#444" stroke-width="1.2"/>
<text x="0" y="0" transform="translate(92.2 269.1)" font-size="6.0" text-anchor="middle" fill="#1a1a1a" stroke="#1a1a1a" stroke-width="0.15">Immunized</text>
<line x1="129.6" y1="262.0" x2="152.4" y2="262.0" stroke="#444" stroke-width="1.2"/>
<text x="0" y="0" transform="translate(141.0 269.1)" font-size="6.0" text-anchor="middle" fill="#1a1a1a" stroke="#1a1a1a" stroke-width="0.15">Naive</text>
<line x1="161.2" y1="262.0" x2="184.8" y2="262.0" stroke="#444" stroke-width="1.2"/>
<text x="0" y="0" transform="translate(173.0 269.1)" font-size="6.0" text-anchor="middle" fill="#1a1a1a" stroke="#1a1a1a" stroke-width="0.15">Immunized</text>
<text x="0" y="0" transform="translate(86.5 164.5)" font-size="6.1" text-anchor="middle" fill="#1a1a1a" stroke="#1a1a1a" stroke-width="0.14">ASNase alone</text>
<text x="0" y="0" transform="translate(158.7 164.5)" font-size="6.1" text-anchor="middle" fill="#1a1a1a" stroke="#1a1a1a" stroke-width="0.14">ASNase IC</text>
<text x="0" y="0" transform="translate(25.1 206.2) rotate(-90) scale(0.7592 1)" font-size="7.5" text-anchor="middle" fill="#1a1a1a" stroke="#1a1a1a" stroke-width="0.1">Binding to basophils (%)</text>
<line x1="250.9" y1="164.3" x2="250.9" y2="248.2" stroke="#1a1a1a" stroke-width="1.25"/>
<line x1="247.70000000000002" y1="247.6" x2="250.9" y2="247.6" stroke="#1a1a1a" stroke-width="1.15"/>
<text x="0" y="0" transform="translate(245.1 250.04999999999998)" font-size="6.1" text-anchor="end" fill="#1a1a1a" stroke="#1a1a1a" stroke-width="0.15">0</text>
<line x1="247.70000000000002" y1="231.54" x2="250.9" y2="231.54" stroke="#1a1a1a" stroke-width="1.15"/>
<text x="0" y="0" transform="translate(245.1 233.98999999999998)" font-size="6.1" text-anchor="end" fill="#1a1a1a" stroke="#1a1a1a" stroke-width="0.15">250</text>
<line x1="247.70000000000002" y1="215.48" x2="250.9" y2="215.48" stroke="#1a1a1a" stroke-width="1.15"/>
<text x="0" y="0" transform="translate(245.1 217.92999999999998)" font-size="6.1" text-anchor="end" fill="#1a1a1a" stroke="#1a1a1a" stroke-width="0.15">500</text>
<line x1="247.70000000000002" y1="199.42000000000002" x2="250.9" y2="199.42000000000002" stroke="#1a1a1a" stroke-width="1.15"/>
<text x="0" y="0" transform="translate(245.1 201.87)" font-size="6.1" text-anchor="end" fill="#1a1a1a" stroke="#1a1a1a" stroke-width="0.15">750</text>
<line x1="247.70000000000002" y1="183.36" x2="250.9" y2="183.36" stroke="#1a1a1a" stroke-width="1.15"/>
<text x="0" y="0" transform="translate(245.1 185.81)" font-size="6.1" text-anchor="end" fill="#1a1a1a" stroke="#1a1a1a" stroke-width="0.15">1000</text>
<line x1="247.70000000000002" y1="167.3" x2="250.9" y2="167.3" stroke="#1a1a1a" stroke-width="1.15"/>
<text x="0" y="0" transform="translate(245.1 169.75)" font-size="6.1" text-anchor="end" fill="#1a1a1a" stroke="#1a1a1a" stroke-width="0.15">1250</text>
<line x1="250.3" y1="247.6" x2="348.8" y2="247.6" stroke="#1a1a1a" stroke-width="1.25"/>
<rect x="259.15" y="204.35" width="13.40" height="42.90" fill="#DE8E16" stroke="#D07E08" stroke-width="0.7"/>
<rect x="281.55" y="199.55" width="13.40" height="47.70" fill="#DE8E16" stroke="#D07E08" stroke-width="0.7"/>
<rect x="304.35" y="187.95" width="13.40" height="59.30" fill="#A4002A" stroke="#94001F" stroke-width="0.7"/>
<rect x="326.75" y="194.75" width="13.40" height="52.50" fill="#A4002A" stroke="#94001F" stroke-width="0.7"/>
<line x1="265.85" y1="247.6" x2="265.85" y2="249.79999999999998" stroke="#1a1a1a" stroke-width="1.0"/>
<line x1="288.25" y1="247.6" x2="288.25" y2="249.79999999999998" stroke="#1a1a1a" stroke-width="1.0"/>
<line x1="311.05" y1="247.6" x2="311.05" y2="249.79999999999998" stroke="#1a1a1a" stroke-width="1.0"/>
<line x1="333.45" y1="247.6" x2="333.45" y2="249.79999999999998" stroke="#1a1a1a" stroke-width="1.0"/>
<circle cx="265.80" cy="194.20" r="1.45" fill="none" stroke="#3C5C9E" stroke-width="0.8"/>
<circle cx="259.70" cy="199.50" r="1.45" fill="none" stroke="#3C5C9E" stroke-width="0.8"/>
<circle cx="263.20" cy="198.90" r="1.45" fill="none" stroke="#3C5C9E" stroke-width="0.8"/>
<circle cx="269.00" cy="198.90" r="1.45" fill="none" stroke="#3C5C9E" stroke-width="0.8"/>
<circle cx="272.20" cy="199.50" r="1.45" fill="none" stroke="#3C5C9E" stroke-width="0.8"/>
<circle cx="262.90" cy="203.00" r="1.45" fill="none" stroke="#3C5C9E" stroke-width="0.8"/>
<circle cx="268.80" cy="203.00" r="1.45" fill="none" stroke="#3C5C9E" stroke-width="0.8"/>
<circle cx="259.90" cy="211.70" r="1.45" fill="none" stroke="#3C5C9E" stroke-width="0.8"/>
<circle cx="271.90" cy="207.60" r="1.45" fill="none" stroke="#3C5C9E" stroke-width="0.8"/>
<circle cx="271.90" cy="211.10" r="1.45" fill="none" stroke="#3C5C9E" stroke-width="0.8"/>
<line x1="265.8" y1="197.7" x2="265.8" y2="209.4" stroke="#1a1a1a" stroke-width="1.0"/>
<line x1="263.40000000000003" y1="197.7" x2="268.2" y2="197.7" stroke="#1a1a1a" stroke-width="1.0"/>
<line x1="263.40000000000003" y1="209.4" x2="268.2" y2="209.4" stroke="#1a1a1a" stroke-width="1.0"/>
<path d="M282.80 192.40L284.70 194.30L282.80 196.20L280.90 194.30Z" fill="none" stroke="#62B43C" stroke-width="0.8"/>
<path d="M286.00 191.10L287.90 193.00L286.00 194.90L284.10 193.00Z" fill="none" stroke="#62B43C" stroke-width="0.8"/>
<path d="M289.20 192.90L291.10 194.80L289.20 196.70L287.30 194.80Z" fill="none" stroke="#62B43C" stroke-width="0.8"/>
<path d="M292.40 191.10L294.30 193.00L292.40 194.90L290.50 193.00Z" fill="none" stroke="#62B43C" stroke-width="0.8"/>
<path d="M295.20 192.40L297.10 194.30L295.20 196.20L293.30 194.30Z" fill="none" stroke="#62B43C" stroke-width="0.8"/>
<path d="M283.80 195.90L285.70 197.80L283.80 199.70L281.90 197.80Z" fill="none" stroke="#62B43C" stroke-width="0.8"/>
<path d="M287.30 196.10L289.20 198.00L287.30 199.90L285.40 198.00Z" fill="none" stroke="#62B43C" stroke-width="0.8"/>
<path d="M290.80 195.70L292.70 197.60L290.80 199.50L288.90 197.60Z" fill="none" stroke="#62B43C" stroke-width="0.8"/>
<path d="M294.20 195.90L296.10 197.80L294.20 199.70L292.30 197.80Z" fill="none" stroke="#62B43C" stroke-width="0.8"/>
<path d="M288.20 206.30L290.10 208.20L288.20 210.10L286.30 208.20Z" fill="none" stroke="#62B43C" stroke-width="0.8"/>
<path d="M288.20 209.20L290.10 211.10L288.20 213.00L286.30 211.10Z" fill="none" stroke="#62B43C" stroke-width="0.8"/>
<line x1="288.2" y1="193.0" x2="288.2" y2="204.7" stroke="#1a1a1a" stroke-width="1.0"/>
<line x1="285.5" y1="193.0" x2="290.9" y2="193.0" stroke="#1a1a1a" stroke-width="1.0"/>
<line x1="285.5" y1="204.7" x2="290.9" y2="204.7" stroke="#1a1a1a" stroke-width="1.0"/>
<circle cx="310.50" cy="179.20" r="1.7" fill="#173F82"/>
<circle cx="313.60" cy="178.90" r="1.7" fill="#173F82"/>
<circle cx="307.90" cy="181.30" r="1.7" fill="#173F82"/>
<circle cx="314.70" cy="181.00" r="1.7" fill="#173F82"/>
<circle cx="314.70" cy="183.50" r="1.7" fill="#173F82"/>
<circle cx="310.50" cy="185.70" r="1.7" fill="#173F82"/>
<circle cx="305.20" cy="192.60" r="1.7" fill="#173F82"/>
<circle cx="307.20" cy="192.00" r="1.7" fill="#173F82"/>
<circle cx="309.20" cy="192.80" r="1.7" fill="#173F82"/>
<circle cx="311.20" cy="192.20" r="1.7" fill="#173F82"/>
<circle cx="313.20" cy="192.80" r="1.7" fill="#173F82"/>
<circle cx="315.20" cy="192.00" r="1.7" fill="#173F82"/>
<circle cx="317.20" cy="192.60" r="1.7" fill="#173F82"/>
<line x1="310.8" y1="182.0" x2="310.8" y2="190.5" stroke="#1a1a1a" stroke-width="1.0"/>
<line x1="308.40000000000003" y1="182.0" x2="313.2" y2="182.0" stroke="#1a1a1a" stroke-width="1.0"/>
<line x1="308.40000000000003" y1="190.5" x2="313.2" y2="190.5" stroke="#1a1a1a" stroke-width="1.0"/>
<path d="M329.90 186.90L331.90 188.90L329.90 190.90L327.90 188.90Z" fill="#52AA2C"/>
<path d="M339.30 187.90L341.30 189.90L339.30 191.90L337.30 189.90Z" fill="#52AA2C"/>
<path d="M327.50 190.00L329.50 192.00L327.50 194.00L325.50 192.00Z" fill="#52AA2C"/>
<path d="M331.50 190.20L333.50 192.20L331.50 194.20L329.50 192.20Z" fill="#52AA2C"/>
<path d="M335.50 190.00L337.50 192.00L335.50 194.00L333.50 192.00Z" fill="#52AA2C"/>
<path d="M339.30 191.60L341.30 193.60L339.30 195.60L337.30 193.60Z" fill="#52AA2C"/>
<path d="M329.90 193.20L331.90 195.20L329.90 197.20L327.90 195.20Z" fill="#52AA2C"/>
<path d="M334.60 195.30L336.60 197.30L334.60 199.30L332.60 197.30Z" fill="#52AA2C"/>
<path d="M333.60 199.50L335.60 201.50L333.60 203.50L331.60 201.50Z" fill="#52AA2C"/>
<line x1="333.6" y1="190.5" x2="333.6" y2="197.5" stroke="#1a1a1a" stroke-width="1.0"/>
<line x1="331.0" y1="190.5" x2="336.20000000000005" y2="190.5" stroke="#1a1a1a" stroke-width="1.0"/>
<line x1="331.0" y1="197.5" x2="336.20000000000005" y2="197.5" stroke="#1a1a1a" stroke-width="1.0"/>
<path d="M265.6 173.8V171.8H310.9V173.8" fill="none" stroke="#2a2a2a" stroke-width="1.05"/>
<ellipse cx="286.15" cy="168.2" rx="0.85" ry="1.0" fill="#333"/>
<ellipse cx="288.50" cy="168.2" rx="0.85" ry="1.0" fill="#333"/>
<ellipse cx="290.85" cy="168.2" rx="0.85" ry="1.0" fill="#333"/>
<path d="M312.0 173.8V171.8H334.3V173.8" fill="none" stroke="#2a2a2a" stroke-width="1.05"/>
<ellipse cx="322.12" cy="168.2" rx="0.85" ry="1.0" fill="#333"/>
<ellipse cx="324.48" cy="168.2" rx="0.85" ry="1.0" fill="#333"/>
<text x="0" y="0" transform="translate(265.85 258.8)" font-size="6.4" text-anchor="middle" fill="#1a1a1a" stroke="#1a1a1a" stroke-width="0.15">WT</text>
<text x="0" y="0" transform="translate(288.25 258.8)" font-size="6.4" text-anchor="middle" fill="#1a1a1a" stroke="#1a1a1a" stroke-width="0.15">KO</text>
<text x="0" y="0" transform="translate(311.05 258.8)" font-size="6.4" text-anchor="middle" fill="#1a1a1a" stroke="#1a1a1a" stroke-width="0.15">WT</text>
<text x="0" y="0" transform="translate(333.45 258.8)" font-size="6.4" text-anchor="middle" fill="#1a1a1a" stroke="#1a1a1a" stroke-width="0.15">KO</text>
<line x1="261.6" y1="261.8" x2="292.3" y2="261.8" stroke="#444" stroke-width="1.2"/>
<text x="0" y="0" transform="translate(276.95000000000005 268.9)" font-size="6.0" text-anchor="middle" fill="#1a1a1a" stroke="#1a1a1a" stroke-width="0.15">Naive</text>
<line x1="306.0" y1="261.8" x2="337.2" y2="261.8" stroke="#444" stroke-width="1.2"/>
<text x="0" y="0" transform="translate(321.6 268.9)" font-size="6.0" text-anchor="middle" fill="#1a1a1a" stroke="#1a1a1a" stroke-width="0.15">Immunized</text>
<text x="0" y="0" transform="translate(225.0 206.0) rotate(-90) scale(0.7688 1)" font-size="7.5" text-anchor="middle" fill="#1a1a1a" stroke="#1a1a1a" stroke-width="0.1">FcεRI expression (MFI)</text>
<line x1="411.4" y1="164.3" x2="411.4" y2="248.1" stroke="#1a1a1a" stroke-width="1.25"/>
<line x1="408.2" y1="247.5" x2="411.4" y2="247.5" stroke="#1a1a1a" stroke-width="1.15"/>
<text x="0" y="0" transform="translate(405.2 249.95)" font-size="6.1" text-anchor="end" fill="#1a1a1a" stroke="#1a1a1a" stroke-width="0.15">0</text>
<line x1="408.2" y1="231.44" x2="411.4" y2="231.44" stroke="#1a1a1a" stroke-width="1.15"/>
<text x="0" y="0" transform="translate(405.2 233.89)" font-size="6.1" text-anchor="end" fill="#1a1a1a" stroke="#1a1a1a" stroke-width="0.15">6000</text>
<line x1="408.2" y1="215.38" x2="411.4" y2="215.38" stroke="#1a1a1a" stroke-width="1.15"/>
<text x="0" y="0" transform="translate(405.2 217.82999999999998)" font-size="6.1" text-anchor="end" fill="#1a1a1a" stroke="#1a1a1a" stroke-width="0.15">12000</text>
<line x1="408.2" y1="199.32" x2="411.4" y2="199.32" stroke="#1a1a1a" stroke-width="1.15"/>
<text x="0" y="0" transform="translate(405.2 201.76999999999998)" font-size="6.1" text-anchor="end" fill="#1a1a1a" stroke="#1a1a1a" stroke-width="0.15">18000</text>
<line x1="408.2" y1="183.26" x2="411.4" y2="183.26" stroke="#1a1a1a" stroke-width="1.15"/>
<text x="0" y="0" transform="translate(405.2 185.70999999999998)" font-size="6.1" text-anchor="end" fill="#1a1a1a" stroke="#1a1a1a" stroke-width="0.15">24000</text>
<line x1="408.2" y1="167.2" x2="411.4" y2="167.2" stroke="#1a1a1a" stroke-width="1.15"/>
<text x="0" y="0" transform="translate(405.2 169.64999999999998)" font-size="6.1" text-anchor="end" fill="#1a1a1a" stroke="#1a1a1a" stroke-width="0.15">30000</text>
<line x1="410.79999999999995" y1="247.5" x2="506.9" y2="247.5" stroke="#1a1a1a" stroke-width="1.25"/>
<rect x="419.15" y="202.35" width="13.40" height="44.80" fill="#DE8E16" stroke="#D07E08" stroke-width="0.7"/>
<rect x="441.35" y="203.95" width="13.40" height="43.20" fill="#DE8E16" stroke="#D07E08" stroke-width="0.7"/>
<rect x="463.25" y="192.15" width="13.40" height="55.00" fill="#A4002A" stroke="#94001F" stroke-width="0.7"/>
<rect x="485.35" y="194.55" width="13.40" height="52.60" fill="#A4002A" stroke="#94001F" stroke-width="0.7"/>
<line x1="425.85" y1="247.5" x2="425.85" y2="249.7" stroke="#1a1a1a" stroke-width="1.0"/>
<line x1="448.05" y1="247.5" x2="448.05" y2="249.7" stroke="#1a1a1a" stroke-width="1.0"/>
<line x1="469.95" y1="247.5" x2="469.95" y2="249.7" stroke="#1a1a1a" stroke-width="1.0"/>
<line x1="492.05" y1="247.5" x2="492.05" y2="249.7" stroke="#1a1a1a" stroke-width="1.0"/>
<circle cx="426.00" cy="193.90" r="1.45" fill="none" stroke="#3C5C9E" stroke-width="0.8"/>
<circle cx="431.80" cy="197.60" r="1.45" fill="none" stroke="#3C5C9E" stroke-width="0.8"/>
<circle cx="420.10" cy="199.00" r="1.45" fill="none" stroke="#3C5C9E" stroke-width="0.8"/>
<circle cx="423.90" cy="199.00" r="1.45" fill="none" stroke="#3C5C9E" stroke-width="0.8"/>
<circle cx="428.00" cy="200.40" r="1.45" fill="none" stroke="#3C5C9E" stroke-width="0.8"/>
<circle cx="431.80" cy="201.80" r="1.45" fill="none" stroke="#3C5C9E" stroke-width="0.8"/>
<circle cx="420.10" cy="203.60" r="1.45" fill="none" stroke="#3C5C9E" stroke-width="0.8"/>
<circle cx="424.30" cy="203.60" r="1.45" fill="none" stroke="#3C5C9E" stroke-width="0.8"/>
<circle cx="428.00" cy="205.00" r="1.45" fill="none" stroke="#3C5C9E" stroke-width="0.8"/>
<circle cx="423.40" cy="207.40" r="1.45" fill="none" stroke="#3C5C9E" stroke-width="0.8"/>
<line x1="426.0" y1="197.1" x2="426.0" y2="205.5" stroke="#1a1a1a" stroke-width="1.0"/>
<line x1="423.5" y1="197.1" x2="428.5" y2="197.1" stroke="#1a1a1a" stroke-width="1.0"/>
<line x1="423.5" y1="205.5" x2="428.5" y2="205.5" stroke="#1a1a1a" stroke-width="1.0"/>
<path d="M445.80 194.70L447.70 196.60L445.80 198.50L443.90 196.60Z" fill="none" stroke="#62B43C" stroke-width="0.8"/>
<path d="M450.00 194.70L451.90 196.60L450.00 198.50L448.10 196.60Z" fill="none" stroke="#62B43C" stroke-width="0.8"/>
<path d="M442.00 198.00L443.90 199.90L442.00 201.80L440.10 199.90Z" fill="none" stroke="#62B43C" stroke-width="0.8"/>
<path d="M445.80 199.40L447.70 201.30L445.80 203.20L443.90 201.30Z" fill="none" stroke="#62B43C" stroke-width="0.8"/>
<path d="M450.00 200.30L451.90 202.20L450.00 204.10L448.10 202.20Z" fill="none" stroke="#62B43C" stroke-width="0.8"/>
<path d="M454.00 198.00L455.90 199.90L454.00 201.80L452.10 199.90Z" fill="none" stroke="#62B43C" stroke-width="0.8"/>
<path d="M442.00 206.90L443.90 208.80L442.00 210.70L440.10 208.80Z" fill="none" stroke="#62B43C" stroke-width="0.8"/>
<path d="M445.80 205.50L447.70 207.40L445.80 209.30L443.90 207.40Z" fill="none" stroke="#62B43C" stroke-width="0.8"/>
<path d="M450.00 206.90L451.90 208.80L450.00 210.70L448.10 208.80Z" fill="none" stroke="#62B43C" stroke-width="0.8"/>
<path d="M454.00 206.90L455.90 208.80L454.00 210.70L452.10 208.80Z" fill="none" stroke="#62B43C" stroke-width="0.8"/>
<line x1="447.8" y1="198.2" x2="447.8" y2="207.4" stroke="#1a1a1a" stroke-width="1.0"/>
<line x1="445.3" y1="198.2" x2="450.3" y2="198.2" stroke="#1a1a1a" stroke-width="1.0"/>
<line x1="445.3" y1="207.4" x2="450.3" y2="207.4" stroke="#1a1a1a" stroke-width="1.0"/>
<line x1="469.9" y1="188.5" x2="469.9" y2="194.0" stroke="#1a1a1a" stroke-width="1.0"/>
<line x1="467.65" y1="188.5" x2="472.15" y2="188.5" stroke="#1a1a1a" stroke-width="1.0"/>
<line x1="467.65" y1="194.0" x2="472.15" y2="194.0" stroke="#1a1a1a" stroke-width="1.0"/>
<circle cx="464.50" cy="189.60" r="1.7" fill="#173F82"/>
<circle cx="467.40" cy="189.00" r="1.7" fill="#173F82"/>
<circle cx="470.30" cy="189.40" r="1.7" fill="#173F82"/>
<circle cx="473.20" cy="188.90" r="1.7" fill="#173F82"/>
<circle cx="476.00" cy="189.50" r="1.7" fill="#173F82"/>
<circle cx="465.80" cy="188.20" r="1.7" fill="#173F82"/>
<circle cx="471.80" cy="187.90" r="1.7" fill="#173F82"/>
<circle cx="474.60" cy="188.30" r="1.7" fill="#173F82"/>
<circle cx="469.70" cy="193.60" r="1.7" fill="#173F82"/>
<circle cx="467.90" cy="197.10" r="1.7" fill="#173F82"/>
<circle cx="471.40" cy="196.60" r="1.7" fill="#173F82"/>
<path d="M485.70 186.40L487.70 188.40L485.70 190.40L483.70 188.40Z" fill="#52AA2C"/>
<path d="M491.80 183.30L493.80 185.30L491.80 187.30L489.80 185.30Z" fill="#52AA2C"/>
<path d="M497.60 183.70L499.60 185.70L497.60 187.70L495.60 185.70Z" fill="#52AA2C"/>
<path d="M485.70 190.70L487.70 192.70L485.70 194.70L483.70 192.70Z" fill="#52AA2C"/>
<path d="M491.80 190.70L493.80 192.70L491.80 194.70L489.80 192.70Z" fill="#52AA2C"/>
<path d="M497.60 188.70L499.60 190.70L497.60 192.70L495.60 190.70Z" fill="#52AA2C"/>
<path d="M497.60 192.20L499.60 194.20L497.60 196.20L495.60 194.20Z" fill="#52AA2C"/>
<path d="M491.80 195.10L493.80 197.10L491.80 199.10L489.80 197.10Z" fill="#52AA2C"/>
<path d="M491.80 200.40L493.80 202.40L491.80 204.40L489.80 202.40Z" fill="#52AA2C"/>
<path d="M491.80 206.80L493.80 208.80L491.80 210.80L489.80 208.80Z" fill="#52AA2C"/>
<line x1="491.8" y1="186.4" x2="491.8" y2="201.2" stroke="#1a1a1a" stroke-width="1.0"/>
<line x1="489.1" y1="186.4" x2="494.5" y2="186.4" stroke="#1a1a1a" stroke-width="1.0"/>
<line x1="489.1" y1="201.2" x2="494.5" y2="201.2" stroke="#1a1a1a" stroke-width="1.0"/>
<path d="M424.4 182.6V180.6H469.7V182.6" fill="none" stroke="#2a2a2a" stroke-width="1.05"/>
<ellipse cx="445.82" cy="176.4" rx="0.85" ry="1.0" fill="#333"/>
<ellipse cx="448.18" cy="176.4" rx="0.85" ry="1.0" fill="#333"/>
<text x="0" y="0" transform="translate(425.85 258.9)" font-size="6.4" text-anchor="middle" fill="#1a1a1a" stroke="#1a1a1a" stroke-width="0.15">WT</text>
<text x="0" y="0" transform="translate(448.05 258.9)" font-size="6.4" text-anchor="middle" fill="#1a1a1a" stroke="#1a1a1a" stroke-width="0.15">KO</text>
<text x="0" y="0" transform="translate(469.95 258.9)" font-size="6.4" text-anchor="middle" fill="#1a1a1a" stroke="#1a1a1a" stroke-width="0.15">WT</text>
<text x="0" y="0" transform="translate(492.05 258.9)" font-size="6.4" text-anchor="middle" fill="#1a1a1a" stroke="#1a1a1a" stroke-width="0.15">KO</text>
<line x1="421.6" y1="261.8" x2="453.0" y2="261.8" stroke="#444" stroke-width="1.2"/>
<text x="0" y="0" transform="translate(437.3 268.9)" font-size="6.0" text-anchor="middle" fill="#1a1a1a" stroke="#1a1a1a" stroke-width="0.15">Naive</text>
<line x1="465.6" y1="261.8" x2="496.7" y2="261.8" stroke="#444" stroke-width="1.2"/>
<text x="0" y="0" transform="translate(481.15 268.9)" font-size="6.0" text-anchor="middle" fill="#1a1a1a" stroke="#1a1a1a" stroke-width="0.15">Immunized</text>
<text x="0" y="0" transform="translate(382.0 205.9) rotate(-90) scale(0.7694 1)" font-size="7.5" text-anchor="middle" fill="#1a1a1a" stroke="#1a1a1a" stroke-width="0.1">Fcγ III expression (MFI)</text>
<line x1="43.4" y1="318.0" x2="43.4" y2="400.1" stroke="#1a1a1a" stroke-width="1.25"/>
<line x1="40.199999999999996" y1="399.5" x2="43.4" y2="399.5" stroke="#1a1a1a" stroke-width="1.15"/>
<text x="0" y="0" transform="translate(37.1 401.95)" font-size="6.1" text-anchor="end" fill="#1a1a1a" stroke="#1a1a1a" stroke-width="0.15">0</text>
<line x1="40.199999999999996" y1="383.72" x2="43.4" y2="383.72" stroke="#1a1a1a" stroke-width="1.15"/>
<text x="0" y="0" transform="translate(37.1 386.17)" font-size="6.1" text-anchor="end" fill="#1a1a1a" stroke="#1a1a1a" stroke-width="0.15">10</text>
<line x1="40.199999999999996" y1="367.94" x2="43.4" y2="367.94" stroke="#1a1a1a" stroke-width="1.15"/>
<text x="0" y="0" transform="translate(37.1 370.39)" font-size="6.1" text-anchor="end" fill="#1a1a1a" stroke="#1a1a1a" stroke-width="0.15">20</text>
<line x1="40.199999999999996" y1="352.16" x2="43.4" y2="352.16" stroke="#1a1a1a" stroke-width="1.15"/>
<text x="0" y="0" transform="translate(37.1 354.61)" font-size="6.1" text-anchor="end" fill="#1a1a1a" stroke="#1a1a1a" stroke-width="0.15">30</text>
<line x1="40.199999999999996" y1="336.38" x2="43.4" y2="336.38" stroke="#1a1a1a" stroke-width="1.15"/>
<text x="0" y="0" transform="translate(37.1 338.83)" font-size="6.1" text-anchor="end" fill="#1a1a1a" stroke="#1a1a1a" stroke-width="0.15">40</text>
<line x1="40.199999999999996" y1="320.6" x2="43.4" y2="320.6" stroke="#1a1a1a" stroke-width="1.15"/>
<text x="0" y="0" transform="translate(37.1 323.05)" font-size="6.1" text-anchor="end" fill="#1a1a1a" stroke="#1a1a1a" stroke-width="0.15">50</text>
<line x1="42.8" y1="399.5" x2="232.3" y2="399.5" stroke="#1a1a1a" stroke-width="1.25"/>
<rect x="48.45" y="358.55" width="7.30" height="40.60" fill="#DE8E16" stroke="#D07E08" stroke-width="0.7"/>
<rect x="61.45" y="359.95" width="7.30" height="39.20" fill="#DE8E16" stroke="#D07E08" stroke-width="0.7"/>
<rect x="74.55" y="349.55" width="7.30" height="49.60" fill="#A4002A" stroke="#94001F" stroke-width="0.7"/>
<rect x="87.75" y="356.35" width="7.30" height="42.80" fill="#A4002A" stroke="#94001F" stroke-width="0.7"/>
<rect x="140.55" y="360.55" width="7.30" height="38.60" fill="#A4002A" stroke="#94001F" stroke-width="0.7"/>
<rect x="153.65" y="374.85" width="7.30" height="24.30" fill="#A4002A" stroke="#94001F" stroke-width="0.7"/>
<circle cx="52.00" cy="351.20" r="1.45" fill="none" stroke="#3C5C9E" stroke-width="0.8"/>
<circle cx="49.10" cy="355.90" r="1.45" fill="none" stroke="#3C5C9E" stroke-width="0.8"/>
<circle cx="54.90" cy="355.90" r="1.45" fill="none" stroke="#3C5C9E" stroke-width="0.8"/>
<circle cx="52.00" cy="353.60" r="1.45" fill="none" stroke="#3C5C9E" stroke-width="0.8"/>
<circle cx="50.20" cy="358.20" r="1.45" fill="none" stroke="#3C5C9E" stroke-width="0.8"/>
<circle cx="54.30" cy="358.20" r="1.45" fill="none" stroke="#3C5C9E" stroke-width="0.8"/>
<circle cx="52.00" cy="360.50" r="1.45" fill="none" stroke="#3C5C9E" stroke-width="0.8"/>
<circle cx="50.20" cy="364.00" r="1.45" fill="none" stroke="#3C5C9E" stroke-width="0.8"/>
<circle cx="53.70" cy="364.00" r="1.45" fill="none" stroke="#3C5C9E" stroke-width="0.8"/>
<circle cx="48.90" cy="361.40" r="1.45" fill="none" stroke="#3C5C9E" stroke-width="0.8"/>
<circle cx="55.20" cy="361.20" r="1.45" fill="none" stroke="#3C5C9E" stroke-width="0.8"/>
<line x1="52.0" y1="353.0" x2="52.0" y2="361.7" stroke="#1a1a1a" stroke-width="1.0"/>
<line x1="50.0" y1="353.0" x2="54.0" y2="353.0" stroke="#1a1a1a" stroke-width="1.0"/>
<line x1="50.0" y1="361.7" x2="54.0" y2="361.7" stroke="#1a1a1a" stroke-width="1.0"/>
<path d="M64.80 346.40L66.70 348.30L64.80 350.20L62.90 348.30Z" fill="none" stroke="#62B43C" stroke-width="0.8"/>
<path d="M64.80 349.90L66.70 351.80L64.80 353.70L62.90 351.80Z" fill="none" stroke="#62B43C" stroke-width="0.8"/>
<path d="M62.50 352.80L64.40 354.70L62.50 356.60L60.60 354.70Z" fill="none" stroke="#62B43C" stroke-width="0.8"/>
<path d="M67.10 352.20L69.00 354.10L67.10 356.00L65.20 354.10Z" fill="none" stroke="#62B43C" stroke-width="0.8"/>
<path d="M61.90 355.70L63.80 357.60L61.90 359.50L60.00 357.60Z" fill="none" stroke="#62B43C" stroke-width="0.8"/>
<path d="M67.70 355.70L69.60 357.60L67.70 359.50L65.80 357.60Z" fill="none" stroke="#62B43C" stroke-width="0.8"/>
<path d="M64.20 358.10L66.10 360.00L64.20 361.90L62.30 360.00Z" fill="none" stroke="#62B43C" stroke-width="0.8"/>
<path d="M67.10 359.20L69.00 361.10L67.10 363.00L65.20 361.10Z" fill="none" stroke="#62B43C" stroke-width="0.8"/>
<path d="M65.40 366.80L67.30 368.70L65.40 370.60L63.50 368.70Z" fill="none" stroke="#62B43C" stroke-width="0.8"/>
<path d="M64.20 368.60L66.10 370.50L64.20 372.40L62.30 370.50Z" fill="none" stroke="#62B43C" stroke-width="0.8"/>
<line x1="65.0" y1="353.0" x2="65.0" y2="365.2" stroke="#1a1a1a" stroke-width="1.0"/>
<line x1="63.0" y1="353.0" x2="67.0" y2="353.0" stroke="#1a1a1a" stroke-width="1.0"/>
<line x1="63.0" y1="365.2" x2="67.0" y2="365.2" stroke="#1a1a1a" stroke-width="1.0"/>
<circle cx="75.50" cy="336.70" r="1.7" fill="#173F82"/>
<circle cx="81.40" cy="334.90" r="1.7" fill="#173F82"/>
<circle cx="78.80" cy="343.10" r="1.7" fill="#173F82"/>
<circle cx="78.80" cy="346.60" r="1.7" fill="#173F82"/>
<circle cx="75.50" cy="351.20" r="1.7" fill="#173F82"/>
<circle cx="81.40" cy="350.10" r="1.7" fill="#173F82"/>
<circle cx="75.50" cy="355.50" r="1.7" fill="#173F82"/>
<circle cx="81.40" cy="354.70" r="1.7" fill="#173F82"/>
<circle cx="75.50" cy="359.00" r="1.7" fill="#173F82"/>
<circle cx="81.40" cy="358.20" r="1.7" fill="#173F82"/>
<line x1="78.4" y1="340.4" x2="78.4" y2="357.0" stroke="#1a1a1a" stroke-width="1.0"/>
<line x1="76.15" y1="340.4" x2="80.65" y2="340.4" stroke="#1a1a1a" stroke-width="1.0"/>
<line x1="76.15" y1="357.0" x2="80.65" y2="357.0" stroke="#1a1a1a" stroke-width="1.0"/>
<path d="M91.40 348.90L93.40 350.90L91.40 352.90L89.40 350.90Z" fill="#52AA2C"/>
<path d="M88.70 354.20L90.70 356.20L88.70 358.20L86.70 356.20Z" fill="#52AA2C"/>
<path d="M94.00 354.20L96.00 356.20L94.00 358.20L92.00 356.20Z" fill="#52AA2C"/>
<path d="M91.40 355.60L93.40 357.60L91.40 359.60L89.40 357.60Z" fill="#52AA2C"/>
<path d="M89.30 358.00L91.30 360.00L89.30 362.00L87.30 360.00Z" fill="#52AA2C"/>
<path d="M93.40 356.80L95.40 358.80L93.40 360.80L91.40 358.80Z" fill="#52AA2C"/>
<path d="M89.90 361.50L91.90 363.50L89.90 365.50L87.90 363.50Z" fill="#52AA2C"/>
<path d="M92.20 360.30L94.20 362.30L92.20 364.30L90.20 362.30Z" fill="#52AA2C"/>
<line x1="91.4" y1="354.5" x2="91.4" y2="361.1" stroke="#1a1a1a" stroke-width="1.0"/>
<line x1="89.4" y1="354.5" x2="93.4" y2="354.5" stroke="#1a1a1a" stroke-width="1.0"/>
<line x1="89.4" y1="361.1" x2="93.4" y2="361.1" stroke="#1a1a1a" stroke-width="1.0"/>
<path d="M50.2 332.4V330.4H75.9V332.4" fill="none" stroke="#2a2a2a" stroke-width="1.05"/>
<ellipse cx="61.83" cy="327.1" rx="0.85" ry="1.0" fill="#333"/>
<ellipse cx="64.17" cy="327.1" rx="0.85" ry="1.0" fill="#333"/>
<path d="M78.0 332.4V330.4H93.7V332.4" fill="none" stroke="#2a2a2a" stroke-width="1.05"/>
<ellipse cx="84.62" cy="327.1" rx="0.85" ry="1.0" fill="#333"/>
<ellipse cx="86.97" cy="327.1" rx="0.85" ry="1.0" fill="#333"/>
<circle cx="116.20" cy="397.00" r="1.7" fill="#173F82"/>
<circle cx="119.60" cy="397.20" r="1.7" fill="#173F82"/>
<circle cx="117.60" cy="395.20" r="1.7" fill="#173F82"/>
<circle cx="120.40" cy="395.40" r="1.7" fill="#173F82"/>
<circle cx="115.60" cy="398.50" r="1.7" fill="#173F82"/>
<circle cx="118.40" cy="398.40" r="1.7" fill="#173F82"/>
<circle cx="121.00" cy="398.30" r="1.7" fill="#173F82"/>
<circle cx="118.00" cy="392.30" r="1.45" fill="none" stroke="#3C5C9E" stroke-width="0.8"/>
<path d="M129.00 395.20L131.00 397.20L129.00 399.20L127.00 397.20Z" fill="#52AA2C"/>
<path d="M132.20 395.40L134.20 397.40L132.20 399.40L130.20 397.40Z" fill="#52AA2C"/>
<path d="M130.60 393.60L132.60 395.60L130.60 397.60L128.60 395.60Z" fill="#52AA2C"/>
<path d="M133.40 394.00L135.40 396.00L133.40 398.00L131.40 396.00Z" fill="#52AA2C"/>
<path d="M128.30 396.60L130.30 398.60L128.30 400.60L126.30 398.60Z" fill="#52AA2C"/>
<path d="M131.20 396.40L133.20 398.40L131.20 400.40L129.20 398.40Z" fill="#52AA2C"/>
<path d="M134.00 396.20L136.00 398.20L134.00 400.20L132.00 398.20Z" fill="#52AA2C"/>
<circle cx="141.60" cy="345.90" r="1.7" fill="#173F82"/>
<circle cx="146.90" cy="343.40" r="1.7" fill="#173F82"/>
<circle cx="146.90" cy="346.20" r="1.7" fill="#173F82"/>
<circle cx="144.10" cy="347.60" r="1.7" fill="#173F82"/>
<circle cx="141.60" cy="351.00" r="1.7" fill="#173F82"/>
<circle cx="144.60" cy="352.60" r="1.7" fill="#173F82"/>
<circle cx="141.60" cy="356.00" r="1.7" fill="#173F82"/>
<circle cx="144.10" cy="357.70" r="1.7" fill="#173F82"/>
<circle cx="140.60" cy="370.30" r="1.7" fill="#173F82"/>
<circle cx="143.20" cy="370.00" r="1.7" fill="#173F82"/>
<circle cx="145.80" cy="370.40" r="1.7" fill="#173F82"/>
<circle cx="148.20" cy="370.00" r="1.7" fill="#173F82"/>
<circle cx="144.10" cy="378.70" r="1.7" fill="#173F82"/>
<circle cx="144.10" cy="381.20" r="1.7" fill="#173F82"/>
<line x1="144.2" y1="351.0" x2="144.2" y2="372.8" stroke="#1a1a1a" stroke-width="1.0"/>
<line x1="142.2" y1="351.0" x2="146.2" y2="351.0" stroke="#1a1a1a" stroke-width="1.0"/>
<line x1="142.2" y1="372.8" x2="146.2" y2="372.8" stroke="#1a1a1a" stroke-width="1.0"/>
<path d="M157.00 354.80L159.00 356.80L157.00 358.80L155.00 356.80Z" fill="#52AA2C"/>
<path d="M157.00 362.40L159.00 364.40L157.00 366.40L155.00 364.40Z" fill="#52AA2C"/>
<path d="M155.80 366.60L157.80 368.60L155.80 370.60L153.80 368.60Z" fill="#52AA2C"/>
<path d="M158.30 366.90L160.30 368.90L158.30 370.90L156.30 368.90Z" fill="#52AA2C"/>
<path d="M154.10 370.00L156.10 372.00L154.10 374.00L152.10 372.00Z" fill="#52AA2C"/>
<path d="M157.00 370.00L159.00 372.00L157.00 374.00L155.00 372.00Z" fill="#52AA2C"/>
<path d="M160.00 370.80L162.00 372.80L160.00 374.80L158.00 372.80Z" fill="#52AA2C"/>
<path d="M155.00 373.30L157.00 375.30L155.00 377.30L153.00 375.30Z" fill="#52AA2C"/>
<path d="M158.30 373.30L160.30 375.30L158.30 377.30L156.30 375.30Z" fill="#52AA2C"/>
<path d="M157.00 375.80L159.00 377.80L157.00 379.80L155.00 377.80Z" fill="#52AA2C"/>
<path d="M160.00 376.30L162.00 378.30L160.00 380.30L158.00 378.30Z" fill="#52AA2C"/>
<path d="M155.80 378.30L157.80 380.30L155.80 382.30L153.80 380.30Z" fill="#52AA2C"/>
<path d="M158.30 380.00L160.30 382.00L158.30 384.00L156.30 382.00Z" fill="#52AA2C"/>
<path d="M156.30 383.40L158.30 385.40L156.30 387.40L154.30 385.40Z" fill="#52AA2C"/>
<line x1="157.3" y1="367.8" x2="157.3" y2="382.0" stroke="#1a1a1a" stroke-width="1.0"/>
<line x1="155.3" y1="367.8" x2="159.3" y2="367.8" stroke="#1a1a1a" stroke-width="1.0"/>
<line x1="155.3" y1="382.0" x2="159.3" y2="382.0" stroke="#1a1a1a" stroke-width="1.0"/>
<path d="M144.1 338.8V336.8H159.5V338.8" fill="none" stroke="#2a2a2a" stroke-width="1.05"/>
<ellipse cx="148.28" cy="333.4" rx="0.85" ry="1.0" fill="#333"/>
<ellipse cx="150.62" cy="333.4" rx="0.85" ry="1.0" fill="#333"/>
<ellipse cx="152.97" cy="333.4" rx="0.85" ry="1.0" fill="#333"/>
<ellipse cx="155.33" cy="333.4" rx="0.85" ry="1.0" fill="#333"/>
<circle cx="181.20" cy="397.20" r="1.7" fill="#173F82"/>
<circle cx="184.20" cy="396.80" r="1.7" fill="#173F82"/>
<circle cx="186.40" cy="398.00" r="1.7" fill="#173F82"/>
<circle cx="182.60" cy="398.60" r="1.7" fill="#173F82"/>
<circle cx="185.40" cy="398.80" r="1.7" fill="#173F82"/>
<circle cx="183.00" cy="395.80" r="1.7" fill="#173F82"/>
<path d="M194.20 395.60L196.20 397.60L194.20 399.60L192.20 397.60Z" fill="#52AA2C"/>
<path d="M197.20 395.20L199.20 397.20L197.20 399.20L195.20 397.20Z" fill="#52AA2C"/>
<path d="M199.60 396.20L201.60 398.20L199.60 400.20L197.60 398.20Z" fill="#52AA2C"/>
<path d="M195.60 396.60L197.60 398.60L195.60 400.60L193.60 398.60Z" fill="#52AA2C"/>
<path d="M198.60 396.80L200.60 398.80L198.60 400.80L196.60 398.80Z" fill="#52AA2C"/>
<circle cx="206.60" cy="397.60" r="1.7" fill="#173F82"/>
<circle cx="209.60" cy="397.00" r="1.7" fill="#173F82"/>
<circle cx="212.60" cy="397.60" r="1.7" fill="#173F82"/>
<circle cx="208.00" cy="398.80" r="1.7" fill="#173F82"/>
<circle cx="211.20" cy="398.90" r="1.7" fill="#173F82"/>
<circle cx="214.00" cy="398.40" r="1.7" fill="#173F82"/>
<path d="M220.60 395.60L222.60 397.60L220.60 399.60L218.60 397.60Z" fill="#52AA2C"/>
<path d="M223.40 395.20L225.40 397.20L223.40 399.20L221.40 397.20Z" fill="#52AA2C"/>
<path d="M226.00 396.20L228.00 398.20L226.00 400.20L224.00 398.20Z" fill="#52AA2C"/>
<path d="M221.80 396.70L223.80 398.70L221.80 400.70L219.80 398.70Z" fill="#52AA2C"/>
<path d="M224.80 396.80L226.80 398.80L224.80 400.80L222.80 398.80Z" fill="#52AA2C"/>
<line x1="52.0" y1="399.5" x2="52.0" y2="401.7" stroke="#1a1a1a" stroke-width="1.0"/>
<line x1="65.1" y1="399.5" x2="65.1" y2="401.7" stroke="#1a1a1a" stroke-width="1.0"/>
<line x1="78.2" y1="399.5" x2="78.2" y2="401.7" stroke="#1a1a1a" stroke-width="1.0"/>
<line x1="91.4" y1="399.5" x2="91.4" y2="401.7" stroke="#1a1a1a" stroke-width="1.0"/>
<line x1="118.0" y1="399.5" x2="118.0" y2="401.7" stroke="#1a1a1a" stroke-width="1.0"/>
<line x1="131.1" y1="399.5" x2="131.1" y2="401.7" stroke="#1a1a1a" stroke-width="1.0"/>
<line x1="144.2" y1="399.5" x2="144.2" y2="401.7" stroke="#1a1a1a" stroke-width="1.0"/>
<line x1="157.3" y1="399.5" x2="157.3" y2="401.7" stroke="#1a1a1a" stroke-width="1.0"/>
<line x1="183.6" y1="399.5" x2="183.6" y2="401.7" stroke="#1a1a1a" stroke-width="1.0"/>
<line x1="196.6" y1="399.5" x2="196.6" y2="401.7" stroke="#1a1a1a" stroke-width="1.0"/>
<line x1="209.6" y1="399.5" x2="209.6" y2="401.7" stroke="#1a1a1a" stroke-width="1.0"/>
<line x1="222.6" y1="399.5" x2="222.6" y2="401.7" stroke="#1a1a1a" stroke-width="1.0"/>
<text x="0" y="0" transform="translate(52.0 410.9)" font-size="6.4" text-anchor="middle" fill="#1a1a1a" stroke="#1a1a1a" stroke-width="0.15">WT</text>
<text x="0" y="0" transform="translate(65.1 410.9)" font-size="6.4" text-anchor="middle" fill="#1a1a1a" stroke="#1a1a1a" stroke-width="0.15">KO</text>
<text x="0" y="0" transform="translate(78.2 410.9)" font-size="6.4" text-anchor="middle" fill="#1a1a1a" stroke="#1a1a1a" stroke-width="0.15">WT</text>
<text x="0" y="0" transform="translate(91.4 410.9)" font-size="6.4" text-anchor="middle" fill="#1a1a1a" stroke="#1a1a1a" stroke-width="0.15">KO</text>
<text x="0" y="0" transform="translate(118.0 410.9)" font-size="6.4" text-anchor="middle" fill="#1a1a1a" stroke="#1a1a1a" stroke-width="0.15">WT</text>
<text x="0" y="0" transform="translate(131.1 410.9)" font-size="6.4" text-anchor="middle" fill="#1a1a1a" stroke="#1a1a1a" stroke-width="0.15">KO</text>
<text x="0" y="0" transform="translate(144.2 410.9)" font-size="6.4" text-anchor="middle" fill="#1a1a1a" stroke="#1a1a1a" stroke-width="0.15">WT</text>
<text x="0" y="0" transform="translate(157.3 410.9)" font-size="6.4" text-anchor="middle" fill="#1a1a1a" stroke="#1a1a1a" stroke-width="0.15">KO</text>
<text x="0" y="0" transform="translate(183.6 410.9)" font-size="6.4" text-anchor="middle" fill="#1a1a1a" stroke="#1a1a1a" stroke-width="0.15">WT</text>
<text x="0" y="0" transform="translate(196.6 410.9)" font-size="6.4" text-anchor="middle" fill="#1a1a1a" stroke="#1a1a1a" stroke-width="0.15">KO</text>
<text x="0" y="0" transform="translate(209.6 410.9)" font-size="6.4" text-anchor="middle" fill="#1a1a1a" stroke="#1a1a1a" stroke-width="0.15">WT</text>
<text x="0" y="0" transform="translate(222.6 410.9)" font-size="6.4" text-anchor="middle" fill="#1a1a1a" stroke="#1a1a1a" stroke-width="0.15">KO</text>
<line x1="47.3" y1="413.6" x2="69.8" y2="413.6" stroke="#444" stroke-width="1.2"/>
<text x="0" y="0" transform="translate(58.55 420.9)" font-size="6.0" text-anchor="middle" fill="#1a1a1a" stroke="#1a1a1a" stroke-width="0.15">Naive</text>
<line x1="73.7" y1="413.6" x2="96.2" y2="413.6" stroke="#444" stroke-width="1.2"/>
<text x="0" y="0" transform="translate(84.95 420.9)" font-size="6.0" text-anchor="middle" fill="#1a1a1a" stroke="#1a1a1a" stroke-width="0.15">Immunized</text>
<line x1="113.0" y1="413.6" x2="135.6" y2="413.6" stroke="#444" stroke-width="1.2"/>
<text x="0" y="0" transform="translate(124.3 420.9)" font-size="6.0" text-anchor="middle" fill="#1a1a1a" stroke="#1a1a1a" stroke-width="0.15">Naive</text>
<line x1="139.5" y1="413.6" x2="162.0" y2="413.6" stroke="#444" stroke-width="1.2"/>
<text x="0" y="0" transform="translate(150.75 420.9)" font-size="6.0" text-anchor="middle" fill="#1a1a1a" stroke="#1a1a1a" stroke-width="0.15">Immunized</text>
<line x1="178.7" y1="413.6" x2="201.0" y2="413.6" stroke="#444" stroke-width="1.2"/>
<text x="0" y="0" transform="translate(189.85 420.9)" font-size="6.0" text-anchor="middle" fill="#1a1a1a" stroke="#1a1a1a" stroke-width="0.15">Naive</text>
<line x1="205.2" y1="413.6" x2="227.3" y2="413.6" stroke="#444" stroke-width="1.2"/>
<text x="0" y="0" transform="translate(216.25 420.9)" font-size="6.0" text-anchor="middle" fill="#1a1a1a" stroke="#1a1a1a" stroke-width="0.15">Immunized</text>
<text x="0" y="0" transform="translate(70.4 322.9)" font-size="6.1" text-anchor="middle" fill="#1a1a1a" stroke="#1a1a1a" stroke-width="0.14">EM-95</text>
<text x="0" y="0" transform="translate(137.0 322.6)" font-size="6.1" text-anchor="middle" fill="#1a1a1a" stroke="#1a1a1a" stroke-width="0.14">ASNase</text>
<text x="0" y="0" transform="translate(202.8 322.9)" font-size="6.1" text-anchor="middle" fill="#1a1a1a" stroke="#1a1a1a" stroke-width="0.14">ASNase IC</text>
<text x="0" y="0" transform="translate(137.8 308.2) scale(0.9130 1)" font-size="8.6" text-anchor="middle" fill="#1a1a1a" stroke="#1a1a1a" stroke-width="0.15">IgE-mediated</text>
<line x1="113.0" y1="311.6" x2="162.5" y2="311.6" stroke="#222" stroke-width="1.0"/>
<text x="0" y="0" transform="translate(25.0 358.4) rotate(-90) scale(0.7536 1)" font-size="7.5" text-anchor="middle" fill="#1a1a1a" stroke="#1a1a1a" stroke-width="0.1">% of CD200R1 expression</text>
<line x1="283.6" y1="316.2" x2="283.6" y2="400.1" stroke="#1a1a1a" stroke-width="1.25"/>
<line x1="280.40000000000003" y1="319.43333333333334" x2="283.6" y2="319.43333333333334" stroke="#1a1a1a" stroke-width="1.15"/>
<text x="0" y="0" transform="translate(277.7 321.8833333333333)" font-size="6.1" text-anchor="end" fill="#1a1a1a" stroke="#1a1a1a" stroke-width="0.15">2</text>
<line x1="280.40000000000003" y1="339.45" x2="283.6" y2="339.45" stroke="#1a1a1a" stroke-width="1.15"/>
<text x="0" y="0" transform="translate(277.7 341.9)" font-size="6.1" text-anchor="end" fill="#1a1a1a" stroke="#1a1a1a" stroke-width="0.15">0</text>
<line x1="280.40000000000003" y1="359.46666666666664" x2="283.6" y2="359.46666666666664" stroke="#1a1a1a" stroke-width="1.15"/>
<text x="0" y="0" transform="translate(277.7 361.91666666666663)" font-size="6.1" text-anchor="end" fill="#1a1a1a" stroke="#1a1a1a" stroke-width="0.15">-2</text>
<line x1="280.40000000000003" y1="379.48333333333335" x2="283.6" y2="379.48333333333335" stroke="#1a1a1a" stroke-width="1.15"/>
<text x="0" y="0" transform="translate(277.7 381.93333333333334)" font-size="6.1" text-anchor="end" fill="#1a1a1a" stroke="#1a1a1a" stroke-width="0.15">-4</text>
<line x1="280.40000000000003" y1="399.5" x2="283.6" y2="399.5" stroke="#1a1a1a" stroke-width="1.15"/>
<text x="0" y="0" transform="translate(277.7 401.95)" font-size="6.1" text-anchor="end" fill="#1a1a1a" stroke="#1a1a1a" stroke-width="0.15">-6</text>
<line x1="283.0" y1="339.45" x2="473.2" y2="339.45" stroke="#1a1a1a" stroke-width="1.25"/>
<line x1="283.0" y1="399.5" x2="473.2" y2="399.5" stroke="#1a1a1a" stroke-width="1.25"/>
<rect x="288.65" y="339.80" width="7.50" height="27.05" fill="#DE8E16" stroke="#D07E08" stroke-width="0.7"/>
<rect x="301.95" y="339.80" width="7.50" height="27.35" fill="#DE8E16" stroke="#D07E08" stroke-width="0.7"/>
<rect x="315.15" y="339.80" width="7.50" height="25.05" fill="#A4002A" stroke="#94001F" stroke-width="0.7"/>
<rect x="328.45" y="339.80" width="7.50" height="28.05" fill="#A4002A" stroke="#94001F" stroke-width="0.7"/>
<rect x="381.55" y="339.80" width="7.50" height="27.65" fill="#A4002A" stroke="#94001F" stroke-width="0.7"/>
<rect x="395.15" y="339.80" width="7.50" height="17.15" fill="#A4002A" stroke="#94001F" stroke-width="0.7"/>
<rect x="421.55" y="339.80" width="7.50" height="24.35" fill="#DE8E16" stroke="#D07E08" stroke-width="0.7"/>
<rect x="434.75" y="339.80" width="7.50" height="24.65" fill="#DE8E16" stroke="#D07E08" stroke-width="0.7"/>
<rect x="448.05" y="339.80" width="7.50" height="25.65" fill="#A4002A" stroke="#94001F" stroke-width="0.7"/>
<rect x="461.55" y="339.80" width="7.50" height="26.25" fill="#A4002A" stroke="#94001F" stroke-width="0.7"/>
<circle cx="294.20" cy="357.50" r="1.45" fill="none" stroke="#3C5C9E" stroke-width="0.8"/>
<circle cx="293.10" cy="360.20" r="1.45" fill="none" stroke="#3C5C9E" stroke-width="0.8"/>
<circle cx="289.40" cy="363.50" r="1.45" fill="none" stroke="#3C5C9E" stroke-width="0.8"/>
<circle cx="292.60" cy="363.50" r="1.45" fill="none" stroke="#3C5C9E" stroke-width="0.8"/>
<circle cx="295.80" cy="363.50" r="1.45" fill="none" stroke="#3C5C9E" stroke-width="0.8"/>
<circle cx="292.10" cy="371.00" r="1.45" fill="none" stroke="#3C5C9E" stroke-width="0.8"/>
<circle cx="289.00" cy="371.00" r="1.45" fill="none" stroke="#3C5C9E" stroke-width="0.8"/>
<circle cx="295.20" cy="371.00" r="1.45" fill="none" stroke="#3C5C9E" stroke-width="0.8"/>
<circle cx="292.10" cy="376.40" r="1.45" fill="none" stroke="#3C5C9E" stroke-width="0.8"/>
<circle cx="292.10" cy="381.20" r="1.45" fill="none" stroke="#3C5C9E" stroke-width="0.8"/>
<circle cx="290.50" cy="367.00" r="1.45" fill="none" stroke="#3C5C9E" stroke-width="0.8"/>
<circle cx="294.20" cy="367.00" r="1.45" fill="none" stroke="#3C5C9E" stroke-width="0.8"/>
<line x1="292.6" y1="361.3" x2="292.6" y2="373.7" stroke="#1a1a1a" stroke-width="1.0"/>
<line x1="290.35" y1="361.3" x2="294.85" y2="361.3" stroke="#1a1a1a" stroke-width="1.0"/>
<line x1="290.35" y1="373.7" x2="294.85" y2="373.7" stroke="#1a1a1a" stroke-width="1.0"/>
<path d="M306.60 358.90L308.50 360.80L306.60 362.70L304.70 360.80Z" fill="none" stroke="#62B43C" stroke-width="0.8"/>
<path d="M304.60 361.60L306.50 363.50L304.60 365.40L302.70 363.50Z" fill="none" stroke="#62B43C" stroke-width="0.8"/>
<path d="M307.80 362.10L309.70 364.00L307.80 365.90L305.90 364.00Z" fill="none" stroke="#62B43C" stroke-width="0.8"/>
<path d="M303.40 365.30L305.30 367.20L303.40 369.10L301.50 367.20Z" fill="none" stroke="#62B43C" stroke-width="0.8"/>
<path d="M307.90 365.30L309.80 367.20L307.90 369.10L306.00 367.20Z" fill="none" stroke="#62B43C" stroke-width="0.8"/>
<path d="M305.50 367.50L307.40 369.40L305.50 371.30L303.60 369.40Z" fill="none" stroke="#62B43C" stroke-width="0.8"/>
<path d="M302.80 370.70L304.70 372.60L302.80 374.50L300.90 372.60Z" fill="none" stroke="#62B43C" stroke-width="0.8"/>
<path d="M307.70 371.20L309.60 373.10L307.70 375.00L305.80 373.10Z" fill="none" stroke="#62B43C" stroke-width="0.8"/>
<line x1="305.6" y1="363.0" x2="305.6" y2="372.0" stroke="#1a1a1a" stroke-width="1.0"/>
<line x1="303.6" y1="363.0" x2="307.6" y2="363.0" stroke="#1a1a1a" stroke-width="1.0"/>
<line x1="303.6" y1="372.0" x2="307.6" y2="372.0" stroke="#1a1a1a" stroke-width="1.0"/>
<circle cx="318.40" cy="350.50" r="1.7" fill="#173F82"/>
<circle cx="316.30" cy="360.80" r="1.7" fill="#173F82"/>
<circle cx="321.10" cy="360.80" r="1.7" fill="#173F82"/>
<circle cx="318.80" cy="362.00" r="1.7" fill="#173F82"/>
<circle cx="319.00" cy="366.10" r="1.7" fill="#173F82"/>
<circle cx="316.30" cy="373.10" r="1.7" fill="#173F82"/>
<circle cx="321.10" cy="374.20" r="1.7" fill="#173F82"/>
<circle cx="318.90" cy="375.60" r="1.7" fill="#173F82"/>
<circle cx="317.90" cy="378.00" r="1.7" fill="#173F82"/>
<line x1="318.6" y1="358.1" x2="318.6" y2="375.3" stroke="#1a1a1a" stroke-width="1.0"/>
<line x1="316.35" y1="358.1" x2="320.85" y2="358.1" stroke="#1a1a1a" stroke-width="1.0"/>
<line x1="316.35" y1="375.3" x2="320.85" y2="375.3" stroke="#1a1a1a" stroke-width="1.0"/>
<path d="M332.40 357.10L334.40 359.10L332.40 361.10L330.40 359.10Z" fill="#52AA2C"/>
<path d="M329.70 361.50L331.70 363.50L329.70 365.50L327.70 363.50Z" fill="#52AA2C"/>
<path d="M335.10 361.50L337.10 363.50L335.10 365.50L333.10 363.50Z" fill="#52AA2C"/>
<path d="M332.40 362.80L334.40 364.80L332.40 366.80L330.40 364.80Z" fill="#52AA2C"/>
<path d="M329.70 365.00L331.70 367.00L329.70 369.00L327.70 367.00Z" fill="#52AA2C"/>
<path d="M335.10 365.00L337.10 367.00L335.10 369.00L333.10 367.00Z" fill="#52AA2C"/>
<path d="M332.40 369.50L334.40 371.50L332.40 373.50L330.40 371.50Z" fill="#52AA2C"/>
<path d="M329.40 369.50L331.40 371.50L329.40 373.50L327.40 371.50Z" fill="#52AA2C"/>
<path d="M335.40 369.50L337.40 371.50L335.40 373.50L333.40 371.50Z" fill="#52AA2C"/>
<path d="M330.30 379.20L332.30 381.20L330.30 383.20L328.30 381.20Z" fill="#52AA2C"/>
<path d="M334.10 379.20L336.10 381.20L334.10 383.20L332.10 381.20Z" fill="#52AA2C"/>
<line x1="332.4" y1="361.8" x2="332.4" y2="376.4" stroke="#1a1a1a" stroke-width="1.0"/>
<line x1="330.15" y1="361.8" x2="334.65" y2="361.8" stroke="#1a1a1a" stroke-width="1.0"/>
<line x1="330.15" y1="376.4" x2="334.65" y2="376.4" stroke="#1a1a1a" stroke-width="1.0"/>
<circle cx="358.80" cy="330.60" r="1.45" fill="none" stroke="#3C5C9E" stroke-width="0.8"/>
<circle cx="357.30" cy="333.80" r="1.45" fill="none" stroke="#3C5C9E" stroke-width="0.8"/>
<circle cx="360.30" cy="333.80" r="1.45" fill="none" stroke="#3C5C9E" stroke-width="0.8"/>
<circle cx="356.20" cy="336.50" r="1.45" fill="none" stroke="#3C5C9E" stroke-width="0.8"/>
<circle cx="359.00" cy="336.20" r="1.45" fill="none" stroke="#3C5C9E" stroke-width="0.8"/>
<circle cx="361.80" cy="336.50" r="1.45" fill="none" stroke="#3C5C9E" stroke-width="0.8"/>
<circle cx="355.50" cy="339.20" r="1.45" fill="none" stroke="#3C5C9E" stroke-width="0.8"/>
<circle cx="358.20" cy="339.40" r="1.45" fill="none" stroke="#3C5C9E" stroke-width="0.8"/>
<circle cx="361.00" cy="339.20" r="1.45" fill="none" stroke="#3C5C9E" stroke-width="0.8"/>
<circle cx="363.20" cy="339.40" r="1.45" fill="none" stroke="#3C5C9E" stroke-width="0.8"/>
<circle cx="356.40" cy="342.00" r="1.45" fill="none" stroke="#3C5C9E" stroke-width="0.8"/>
<circle cx="359.30" cy="342.20" r="1.45" fill="none" stroke="#3C5C9E" stroke-width="0.8"/>
<circle cx="362.00" cy="342.00" r="1.45" fill="none" stroke="#3C5C9E" stroke-width="0.8"/>
<circle cx="357.50" cy="344.40" r="1.45" fill="none" stroke="#3C5C9E" stroke-width="0.8"/>
<circle cx="360.30" cy="344.40" r="1.45" fill="none" stroke="#3C5C9E" stroke-width="0.8"/>
<ellipse cx="359.1" cy="349.2" rx="2.6" ry="1.4" fill="none" stroke="#3C5C9E" stroke-width="0.85"/>
<line x1="358.8" y1="333.5" x2="358.8" y2="344.8" stroke="#1a1a1a" stroke-width="1.0"/>
<line x1="356.8" y1="333.5" x2="360.8" y2="333.5" stroke="#1a1a1a" stroke-width="1.0"/>
<line x1="356.8" y1="344.8" x2="360.8" y2="344.8" stroke="#1a1a1a" stroke-width="1.0"/>
<path d="M370.00 334.10L371.90 336.00L370.00 337.90L368.10 336.00Z" fill="none" stroke="#62B43C" stroke-width="0.8"/>
<path d="M372.50 333.70L374.40 335.60L372.50 337.50L370.60 335.60Z" fill="none" stroke="#62B43C" stroke-width="0.8"/>
<path d="M375.00 334.10L376.90 336.00L375.00 337.90L373.10 336.00Z" fill="none" stroke="#62B43C" stroke-width="0.8"/>
<path d="M369.30 336.50L371.20 338.40L369.30 340.30L367.40 338.40Z" fill="none" stroke="#62B43C" stroke-width="0.8"/>
<path d="M371.80 336.70L373.70 338.60L371.80 340.50L369.90 338.60Z" fill="none" stroke="#62B43C" stroke-width="0.8"/>
<path d="M374.40 336.50L376.30 338.40L374.40 340.30L372.50 338.40Z" fill="none" stroke="#62B43C" stroke-width="0.8"/>
<path d="M376.50 336.10L378.40 338.00L376.50 339.90L374.60 338.00Z" fill="none" stroke="#62B43C" stroke-width="0.8"/>
<path d="M371.90 339.40L373.80 341.30L371.90 343.20L370.00 341.30Z" fill="none" stroke="#62B43C" stroke-width="0.8"/>
<path d="M372.50 342.00L374.40 343.90L372.50 345.80L370.60 343.90Z" fill="none" stroke="#62B43C" stroke-width="0.8"/>
<path d="M372.20 344.50L374.10 346.40L372.20 348.30L370.30 346.40Z" fill="none" stroke="#62B43C" stroke-width="0.8"/>
<path d="M371.90 346.70L373.80 348.60L371.90 350.50L370.00 348.60Z" fill="none" stroke="#62B43C" stroke-width="0.8"/>
<line x1="372.2" y1="336.5" x2="372.2" y2="343.3" stroke="#1a1a1a" stroke-width="1.0"/>
<line x1="370.4" y1="336.5" x2="374.0" y2="336.5" stroke="#1a1a1a" stroke-width="1.0"/>
<line x1="370.4" y1="343.3" x2="374.0" y2="343.3" stroke="#1a1a1a" stroke-width="1.0"/>
<line x1="385.4" y1="362.5" x2="385.4" y2="374.5" stroke="#1a1a1a" stroke-width="1.0"/>
<line x1="383.4" y1="362.5" x2="387.4" y2="362.5" stroke="#1a1a1a" stroke-width="1.0"/>
<line x1="383.4" y1="374.5" x2="387.4" y2="374.5" stroke="#1a1a1a" stroke-width="1.0"/>
<circle cx="385.00" cy="361.00" r="1.7" fill="#173F82"/>
<circle cx="386.60" cy="363.40" r="1.7" fill="#173F82"/>
<circle cx="384.20" cy="366.00" r="1.7" fill="#173F82"/>
<circle cx="387.60" cy="366.40" r="1.7" fill="#173F82"/>
<circle cx="382.80" cy="368.60" r="1.7" fill="#173F82"/>
<circle cx="385.60" cy="369.00" r="1.7" fill="#173F82"/>
<circle cx="388.40" cy="369.20" r="1.7" fill="#173F82"/>
<circle cx="383.40" cy="371.80" r="1.7" fill="#173F82"/>
<circle cx="386.60" cy="372.20" r="1.7" fill="#173F82"/>
<circle cx="389.00" cy="372.60" r="1.7" fill="#173F82"/>
<circle cx="385.20" cy="375.00" r="1.7" fill="#173F82"/>
<circle cx="384.60" cy="378.20" r="1.7" fill="#173F82"/>
<circle cx="386.40" cy="380.60" r="1.7" fill="#173F82"/>
<circle cx="384.80" cy="383.40" r="1.7" fill="#173F82"/>
<line x1="398.8" y1="351.5" x2="398.8" y2="361.5" stroke="#1a1a1a" stroke-width="1.0"/>
<line x1="396.8" y1="351.5" x2="400.8" y2="351.5" stroke="#1a1a1a" stroke-width="1.0"/>
<line x1="396.8" y1="361.5" x2="400.8" y2="361.5" stroke="#1a1a1a" stroke-width="1.0"/>
<path d="M398.80 346.60L400.80 348.60L398.80 350.60L396.80 348.60Z" fill="#52AA2C"/>
<path d="M396.20 349.60L398.20 351.60L396.20 353.60L394.20 351.60Z" fill="#52AA2C"/>
<path d="M401.00 349.60L403.00 351.60L401.00 353.60L399.00 351.60Z" fill="#52AA2C"/>
<path d="M397.20 352.40L399.20 354.40L397.20 356.40L395.20 354.40Z" fill="#52AA2C"/>
<path d="M400.20 352.80L402.20 354.80L400.20 356.80L398.20 354.80Z" fill="#52AA2C"/>
<path d="M396.00 355.40L398.00 357.40L396.00 359.40L394.00 357.40Z" fill="#52AA2C"/>
<path d="M399.00 356.00L401.00 358.00L399.00 360.00L397.00 358.00Z" fill="#52AA2C"/>
<path d="M401.80 356.60L403.80 358.60L401.80 360.60L399.80 358.60Z" fill="#52AA2C"/>
<path d="M397.00 359.20L399.00 361.20L397.00 363.20L395.00 361.20Z" fill="#52AA2C"/>
<path d="M400.60 359.60L402.60 361.60L400.60 363.60L398.60 361.60Z" fill="#52AA2C"/>
<path d="M398.80 362.20L400.80 364.20L398.80 366.20L396.80 364.20Z" fill="#52AA2C"/>
<path d="M398.80 367.00L400.80 369.00L398.80 371.00L396.80 369.00Z" fill="#52AA2C"/>
<path d="M384.8 389.2V391.2H400.2V389.2" fill="none" stroke="#2a2a2a" stroke-width="1.05"/>
<ellipse cx="388.98" cy="395.4" rx="0.85" ry="1.0" fill="#333"/>
<ellipse cx="391.33" cy="395.4" rx="0.85" ry="1.0" fill="#333"/>
<ellipse cx="393.68" cy="395.4" rx="0.85" ry="1.0" fill="#333"/>
<ellipse cx="396.03" cy="395.4" rx="0.85" ry="1.0" fill="#333"/>
<circle cx="425.20" cy="357.00" r="1.45" fill="none" stroke="#3C5C9E" stroke-width="0.8"/>
<circle cx="422.60" cy="359.80" r="1.45" fill="none" stroke="#3C5C9E" stroke-width="0.8"/>
<circle cx="427.80" cy="359.80" r="1.45" fill="none" stroke="#3C5C9E" stroke-width="0.8"/>
<circle cx="425.20" cy="362.20" r="1.45" fill="none" stroke="#3C5C9E" stroke-width="0.8"/>
<circle cx="422.20" cy="364.40" r="1.45" fill="none" stroke="#3C5C9E" stroke-width="0.8"/>
<circle cx="428.20" cy="364.40" r="1.45" fill="none" stroke="#3C5C9E" stroke-width="0.8"/>
<circle cx="422.60" cy="367.60" r="1.45" fill="none" stroke="#3C5C9E" stroke-width="0.8"/>
<circle cx="427.80" cy="367.60" r="1.45" fill="none" stroke="#3C5C9E" stroke-width="0.8"/>
<circle cx="422.60" cy="371.00" r="1.45" fill="none" stroke="#3C5C9E" stroke-width="0.8"/>
<circle cx="427.80" cy="371.00" r="1.45" fill="none" stroke="#3C5C9E" stroke-width="0.8"/>
<circle cx="425.20" cy="369.40" r="1.45" fill="none" stroke="#3C5C9E" stroke-width="0.8"/>
<line x1="425.3" y1="360.0" x2="425.3" y2="369.0" stroke="#1a1a1a" stroke-width="1.0"/>
<line x1="423.3" y1="360.0" x2="427.3" y2="360.0" stroke="#1a1a1a" stroke-width="1.0"/>
<line x1="423.3" y1="369.0" x2="427.3" y2="369.0" stroke="#1a1a1a" stroke-width="1.0"/>
<path d="M438.40 351.50L440.30 353.40L438.40 355.30L436.50 353.40Z" fill="none" stroke="#62B43C" stroke-width="0.8"/>
<path d="M438.40 355.30L440.30 357.20L438.40 359.10L436.50 357.20Z" fill="none" stroke="#62B43C" stroke-width="0.8"/>
<path d="M436.40 358.70L438.30 360.60L436.40 362.50L434.50 360.60Z" fill="none" stroke="#62B43C" stroke-width="0.8"/>
<path d="M440.40 359.10L442.30 361.00L440.40 362.90L438.50 361.00Z" fill="none" stroke="#62B43C" stroke-width="0.8"/>
<path d="M438.40 362.10L440.30 364.00L438.40 365.90L436.50 364.00Z" fill="none" stroke="#62B43C" stroke-width="0.8"/>
<path d="M435.60 365.50L437.50 367.40L435.60 369.30L433.70 367.40Z" fill="none" stroke="#62B43C" stroke-width="0.8"/>
<path d="M441.20 365.50L443.10 367.40L441.20 369.30L439.30 367.40Z" fill="none" stroke="#62B43C" stroke-width="0.8"/>
<path d="M438.40 368.70L440.30 370.60L438.40 372.50L436.50 370.60Z" fill="none" stroke="#62B43C" stroke-width="0.8"/>
<path d="M438.40 373.50L440.30 375.40L438.40 377.30L436.50 375.40Z" fill="none" stroke="#62B43C" stroke-width="0.8"/>
<line x1="438.4" y1="357.5" x2="438.4" y2="372.0" stroke="#1a1a1a" stroke-width="1.0"/>
<line x1="436.4" y1="357.5" x2="440.4" y2="357.5" stroke="#1a1a1a" stroke-width="1.0"/>
<line x1="436.4" y1="372.0" x2="440.4" y2="372.0" stroke="#1a1a1a" stroke-width="1.0"/>
<circle cx="451.60" cy="356.40" r="1.7" fill="#173F82"/>
<circle cx="450.40" cy="358.60" r="1.7" fill="#173F82"/>
<circle cx="453.00" cy="358.80" r="1.7" fill="#173F82"/>
<circle cx="450.00" cy="362.60" r="1.7" fill="#173F82"/>
<circle cx="453.40" cy="362.60" r="1.7" fill="#173F82"/>
<circle cx="451.80" cy="365.00" r="1.7" fill="#173F82"/>
<circle cx="450.60" cy="369.20" r="1.7" fill="#173F82"/>
<circle cx="453.20" cy="369.60" r="1.7" fill="#173F82"/>
<circle cx="452.00" cy="372.00" r="1.7" fill="#173F82"/>
<circle cx="451.40" cy="380.00" r="1.7" fill="#173F82"/>
<circle cx="453.00" cy="379.40" r="1.7" fill="#173F82"/>
<line x1="451.8" y1="358.5" x2="451.8" y2="373.0" stroke="#1a1a1a" stroke-width="1.0"/>
<line x1="449.8" y1="358.5" x2="453.8" y2="358.5" stroke="#1a1a1a" stroke-width="1.0"/>
<line x1="449.8" y1="373.0" x2="453.8" y2="373.0" stroke="#1a1a1a" stroke-width="1.0"/>
<path d="M465.20 358.60L467.20 360.60L465.20 362.60L463.20 360.60Z" fill="#52AA2C"/>
<path d="M463.60 361.40L465.60 363.40L463.60 365.40L461.60 363.40Z" fill="#52AA2C"/>
<path d="M466.80 361.60L468.80 363.60L466.80 365.60L464.80 363.60Z" fill="#52AA2C"/>
<path d="M463.20 364.20L465.20 366.20L463.20 368.20L461.20 366.20Z" fill="#52AA2C"/>
<path d="M466.60 364.60L468.60 366.60L466.60 368.60L464.60 366.60Z" fill="#52AA2C"/>
<path d="M464.40 366.80L466.40 368.80L464.40 370.80L462.40 368.80Z" fill="#52AA2C"/>
<path d="M467.60 367.20L469.60 369.20L467.60 371.20L465.60 369.20Z" fill="#52AA2C"/>
<path d="M463.00 369.40L465.00 371.40L463.00 373.40L461.00 371.40Z" fill="#52AA2C"/>
<path d="M466.00 370.00L468.00 372.00L466.00 374.00L464.00 372.00Z" fill="#52AA2C"/>
<path d="M464.60 372.60L466.60 374.60L464.60 376.60L462.60 374.60Z" fill="#52AA2C"/>
<line x1="292.2" y1="399.5" x2="292.2" y2="401.7" stroke="#1a1a1a" stroke-width="1.0"/>
<line x1="305.6" y1="399.5" x2="305.6" y2="401.7" stroke="#1a1a1a" stroke-width="1.0"/>
<line x1="318.9" y1="399.5" x2="318.9" y2="401.7" stroke="#1a1a1a" stroke-width="1.0"/>
<line x1="332.3" y1="399.5" x2="332.3" y2="401.7" stroke="#1a1a1a" stroke-width="1.0"/>
<line x1="358.8" y1="399.5" x2="358.8" y2="401.7" stroke="#1a1a1a" stroke-width="1.0"/>
<line x1="372.0" y1="399.5" x2="372.0" y2="401.7" stroke="#1a1a1a" stroke-width="1.0"/>
<line x1="385.4" y1="399.5" x2="385.4" y2="401.7" stroke="#1a1a1a" stroke-width="1.0"/>
<line x1="398.8" y1="399.5" x2="398.8" y2="401.7" stroke="#1a1a1a" stroke-width="1.0"/>
<line x1="425.2" y1="399.5" x2="425.2" y2="401.7" stroke="#1a1a1a" stroke-width="1.0"/>
<line x1="438.5" y1="399.5" x2="438.5" y2="401.7" stroke="#1a1a1a" stroke-width="1.0"/>
<line x1="451.8" y1="399.5" x2="451.8" y2="401.7" stroke="#1a1a1a" stroke-width="1.0"/>
<line x1="465.2" y1="399.5" x2="465.2" y2="401.7" stroke="#1a1a1a" stroke-width="1.0"/>
<text x="0" y="0" transform="translate(292.2 410.9)" font-size="6.4" text-anchor="middle" fill="#1a1a1a" stroke="#1a1a1a" stroke-width="0.15">WT</text>
<text x="0" y="0" transform="translate(305.6 410.9)" font-size="6.4" text-anchor="middle" fill="#1a1a1a" stroke="#1a1a1a" stroke-width="0.15">KO</text>
<text x="0" y="0" transform="translate(318.9 410.9)" font-size="6.4" text-anchor="middle" fill="#1a1a1a" stroke="#1a1a1a" stroke-width="0.15">WT</text>
<text x="0" y="0" transform="translate(332.3 410.9)" font-size="6.4" text-anchor="middle" fill="#1a1a1a" stroke="#1a1a1a" stroke-width="0.15">KO</text>
<text x="0" y="0" transform="translate(358.8 410.9)" font-size="6.4" text-anchor="middle" fill="#1a1a1a" stroke="#1a1a1a" stroke-width="0.15">WT</text>
<text x="0" y="0" transform="translate(372.0 410.9)" font-size="6.4" text-anchor="middle" fill="#1a1a1a" stroke="#1a1a1a" stroke-width="0.15">KO</text>
<text x="0" y="0" transform="translate(385.4 410.9)" font-size="6.4" text-anchor="middle" fill="#1a1a1a" stroke="#1a1a1a" stroke-width="0.15">WT</text>
<text x="0" y="0" transform="translate(398.8 410.9)" font-size="6.4" text-anchor="middle" fill="#1a1a1a" stroke="#1a1a1a" stroke-width="0.15">KO</text>
<text x="0" y="0" transform="translate(425.2 410.9)" font-size="6.4" text-anchor="middle" fill="#1a1a1a" stroke="#1a1a1a" stroke-width="0.15">WT</text>
<text x="0" y="0" transform="translate(438.5 410.9)" font-size="6.4" text-anchor="middle" fill="#1a1a1a" stroke="#1a1a1a" stroke-width="0.15">KO</text>
<text x="0" y="0" transform="translate(451.8 410.9)" font-size="6.4" text-anchor="middle" fill="#1a1a1a" stroke="#1a1a1a" stroke-width="0.15">WT</text>
<text x="0" y="0" transform="translate(465.2 410.9)" font-size="6.4" text-anchor="middle" fill="#1a1a1a" stroke="#1a1a1a" stroke-width="0.15">KO</text>
<line x1="287.5" y1="413.6" x2="310.0" y2="413.6" stroke="#444" stroke-width="1.2"/>
<text x="0" y="0" transform="translate(298.75 420.9)" font-size="6.0" text-anchor="middle" fill="#1a1a1a" stroke="#1a1a1a" stroke-width="0.15">Naive</text>
<line x1="313.8" y1="413.6" x2="337.0" y2="413.6" stroke="#444" stroke-width="1.2"/>
<text x="0" y="0" transform="translate(325.4 420.9)" font-size="6.0" text-anchor="middle" fill="#1a1a1a" stroke="#1a1a1a" stroke-width="0.15">Immunized</text>
<line x1="354.3" y1="413.6" x2="376.3" y2="413.6" stroke="#444" stroke-width="1.2"/>
<text x="0" y="0" transform="translate(365.3 420.9)" font-size="6.0" text-anchor="middle" fill="#1a1a1a" stroke="#1a1a1a" stroke-width="0.15">Naive</text>
<line x1="380.5" y1="413.6" x2="402.5" y2="413.6" stroke="#444" stroke-width="1.2"/>
<text x="0" y="0" transform="translate(391.5 420.9)" font-size="6.0" text-anchor="middle" fill="#1a1a1a" stroke="#1a1a1a" stroke-width="0.15">Immunized</text>
<line x1="420.3" y1="413.6" x2="442.7" y2="413.6" stroke="#444" stroke-width="1.2"/>
<text x="0" y="0" transform="translate(431.5 420.9)" font-size="6.0" text-anchor="middle" fill="#1a1a1a" stroke="#1a1a1a" stroke-width="0.15">Naive</text>
<line x1="447.3" y1="413.6" x2="469.7" y2="413.6" stroke="#444" stroke-width="1.2"/>
<text x="0" y="0" transform="translate(458.5 420.9)" font-size="6.0" text-anchor="middle" fill="#1a1a1a" stroke="#1a1a1a" stroke-width="0.15">Immunized</text>
<text x="0" y="0" transform="translate(312.9 322.6)" font-size="6.1" text-anchor="middle" fill="#1a1a1a" stroke="#1a1a1a" stroke-width="0.14">2.4G2</text>
<text x="0" y="0" transform="translate(378.5 322.6)" font-size="6.1" text-anchor="middle" fill="#1a1a1a" stroke="#1a1a1a" stroke-width="0.14">ASNase</text>
<text x="0" y="0" transform="translate(445.2 322.6)" font-size="6.1" text-anchor="middle" fill="#1a1a1a" stroke="#1a1a1a" stroke-width="0.14">ASNase IC</text>
<text x="0" y="0" transform="translate(378.3 308.2) scale(0.9308 1)" font-size="8.6" text-anchor="middle" fill="#1a1a1a" stroke="#1a1a1a" stroke-width="0.15">IgG·mediated</text>
<line x1="354.0" y1="311.3" x2="403.0" y2="311.3" stroke="#222" stroke-width="1.0"/>
<text x="0" y="0" transform="translate(265.5 358.4) rotate(-90) scale(0.7536 1)" font-size="7.5" text-anchor="middle" fill="#1a1a1a" stroke="#1a1a1a" stroke-width="0.1">% of CD200R3 expression</text>
</svg></body></html>
